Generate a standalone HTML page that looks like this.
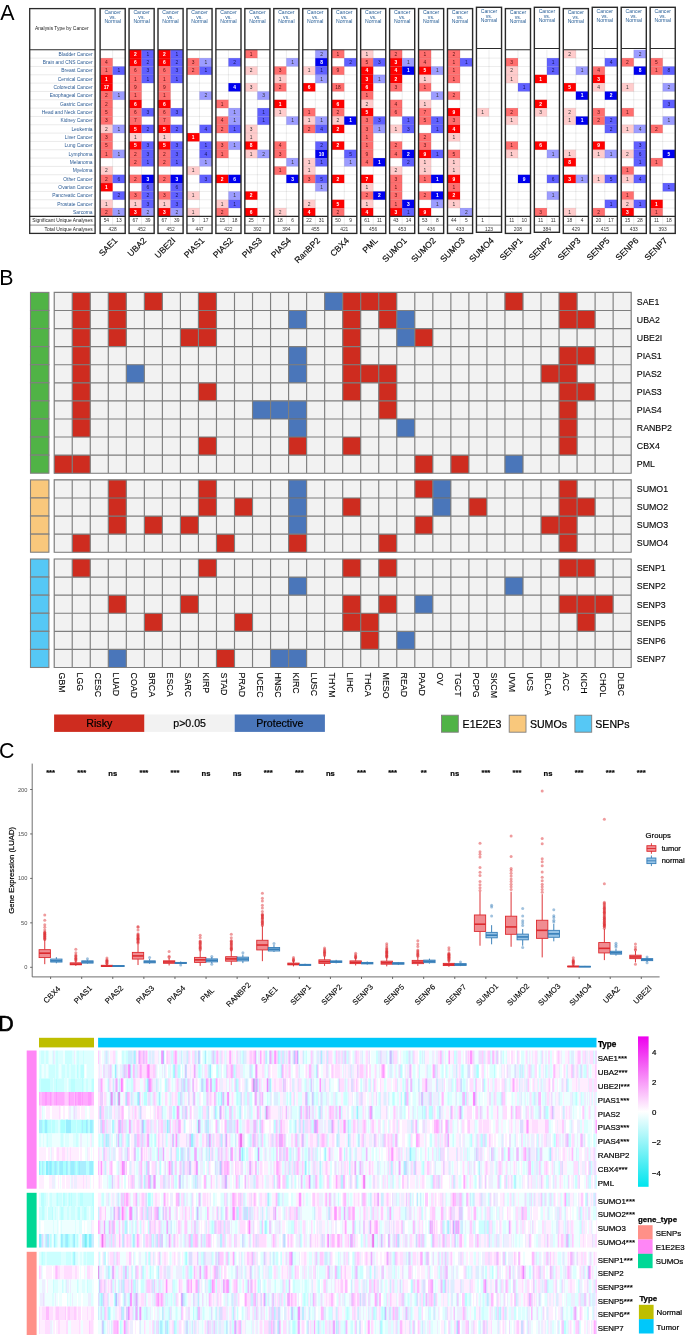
<!DOCTYPE html>
<html><head><meta charset="utf-8"><title>Figure</title>
<style>html,body{margin:0;padding:0;background:#fff}svg{display:block;will-change:transform}text{font-family:"Liberation Sans",sans-serif}</style>
</head><body>
<svg width="685" height="1335" viewBox="0 0 685 1335" font-family="Liberation Sans, sans-serif">
<rect width="685" height="1335" fill="#fff"/>
<g font-size="23" fill="#000"><text transform="translate(0.2,19.7) scale(.93,1)">A</text><text transform="translate(-0.65,284.9) scale(.93,1)">B</text><text transform="translate(-1,757.9) scale(.93,1)">C</text><text transform="translate(-1.7,1030.7) scale(.93,1)" stroke="#000" stroke-width=".7">D</text></g>
<!--A--><g text-anchor="middle" font-size="4.9"><g font-size="4.9" text-anchor="end" fill="#2a5a94"><text x="92.6" y="55.66">Bladder Cancer</text><path d="M29.7 58.13H95.1" stroke="#dcdcdc" stroke-width=".6"/><text x="92.6" y="63.99">Brain and CNS Cancer</text><path d="M29.7 66.46H95.1" stroke="#dcdcdc" stroke-width=".6"/><text x="92.6" y="72.33">Breast Cancer</text><path d="M29.7 74.79H95.1" stroke="#dcdcdc" stroke-width=".6"/><text x="92.6" y="80.66">Cervical Cancer</text><path d="M29.7 83.12H95.1" stroke="#dcdcdc" stroke-width=".6"/><text x="92.6" y="88.99">Colorectal Cancer</text><path d="M29.7 91.45H95.1" stroke="#dcdcdc" stroke-width=".6"/><text x="92.6" y="97.31">Esophageal Cancer</text><path d="M29.7 99.78H95.1" stroke="#dcdcdc" stroke-width=".6"/><text x="92.6" y="105.65">Gastric Cancer</text><path d="M29.7 108.11H95.1" stroke="#dcdcdc" stroke-width=".6"/><text x="92.6" y="113.98">Head and Neck Cancer</text><path d="M29.7 116.44H95.1" stroke="#dcdcdc" stroke-width=".6"/><text x="92.6" y="122.31">Kidney Cancer</text><path d="M29.7 124.77H95.1" stroke="#dcdcdc" stroke-width=".6"/><text x="92.6" y="130.63">Leukemia</text><path d="M29.7 133.10H95.1" stroke="#dcdcdc" stroke-width=".6"/><text x="92.6" y="138.96">Liver Cancer</text><path d="M29.7 141.43H95.1" stroke="#dcdcdc" stroke-width=".6"/><text x="92.6" y="147.29">Lung Cancer</text><path d="M29.7 149.76H95.1" stroke="#dcdcdc" stroke-width=".6"/><text x="92.6" y="155.62">Lymphoma</text><path d="M29.7 158.09H95.1" stroke="#dcdcdc" stroke-width=".6"/><text x="92.6" y="163.95">Melanoma</text><path d="M29.7 166.42H95.1" stroke="#dcdcdc" stroke-width=".6"/><text x="92.6" y="172.28">Myeloma</text><path d="M29.7 174.75H95.1" stroke="#dcdcdc" stroke-width=".6"/><text x="92.6" y="180.61">Other Cancer</text><path d="M29.7 183.08H95.1" stroke="#dcdcdc" stroke-width=".6"/><text x="92.6" y="188.94">Ovarian Cancer</text><path d="M29.7 191.41H95.1" stroke="#dcdcdc" stroke-width=".6"/><text x="92.6" y="197.28">Pancreatic Cancer</text><path d="M29.7 199.74H95.1" stroke="#dcdcdc" stroke-width=".6"/><text x="92.6" y="205.60">Prostate Cancer</text><path d="M29.7 208.07H95.1" stroke="#dcdcdc" stroke-width=".6"/><text x="92.6" y="213.93">Sarcoma</text></g><g font-size="4.9" text-anchor="end" fill="#222"><text x="92.6" y="222.45">Significant Unique Analyses</text><text x="92.6" y="231.00">Total Unique Analyses</text></g><text x="34.9" y="30" font-size="4.9" fill="#222" text-anchor="start">Analysis Type by Cancer</text><path d="M29.7 49.8H95.1M29.7 216.40H95.1" stroke="#2a2a2a" stroke-width="1.1" fill="none"/><path d="M29.7 225.10H95.1" stroke="#666" stroke-width=".7"/><rect x="29.7" y="8.6" width="65.40" height="224.80" fill="none" stroke="#2a2a2a" stroke-width="1.3"/><rect x="100.10" y="58.13" width="12.55" height="8.33" fill="#ff6e6e"/><text x="106.38" y="63.99" fill="#5a1414">4</text><rect x="100.10" y="66.46" width="12.55" height="8.33" fill="#ff6e6e"/><text x="106.38" y="72.33" fill="#5a1414">1</text><rect x="112.65" y="66.46" width="12.55" height="8.33" fill="#6060ff"/><text x="118.92" y="72.33" fill="#14145a">1</text><rect x="100.10" y="74.79" width="12.55" height="8.33" fill="#ff0000"/><text x="106.38" y="80.66" fill="#fff" font-weight="bold">1</text><rect x="100.10" y="83.12" width="12.55" height="8.33" fill="#ff0000"/><text x="106.38" y="88.99" fill="#fff" font-weight="bold">17</text><rect x="100.10" y="91.45" width="12.55" height="8.33" fill="#ff6e6e"/><text x="106.38" y="97.31" fill="#5a1414">2</text><rect x="112.65" y="91.45" width="12.55" height="8.33" fill="#9c9cff"/><text x="118.92" y="97.31" fill="#333">1</text><rect x="100.10" y="99.78" width="12.55" height="8.33" fill="#ff6e6e"/><text x="106.38" y="105.65" fill="#5a1414">2</text><rect x="100.10" y="108.11" width="12.55" height="8.33" fill="#ff6e6e"/><text x="106.38" y="113.98" fill="#5a1414">5</text><rect x="100.10" y="116.44" width="12.55" height="8.33" fill="#ff6e6e"/><text x="106.38" y="122.31" fill="#5a1414">3</text><rect x="100.10" y="124.77" width="12.55" height="8.33" fill="#ffcccc"/><text x="106.38" y="130.63" fill="#333">2</text><rect x="112.65" y="124.77" width="12.55" height="8.33" fill="#9c9cff"/><text x="118.92" y="130.63" fill="#333">1</text><rect x="100.10" y="133.10" width="12.55" height="8.33" fill="#ff6e6e"/><text x="106.38" y="138.96" fill="#5a1414">3</text><rect x="100.10" y="141.43" width="12.55" height="8.33" fill="#ff6e6e"/><text x="106.38" y="147.29" fill="#5a1414">5</text><rect x="100.10" y="149.76" width="12.55" height="8.33" fill="#ff6e6e"/><text x="106.38" y="155.62" fill="#5a1414">1</text><rect x="112.65" y="149.76" width="12.55" height="8.33" fill="#9c9cff"/><text x="118.92" y="155.62" fill="#333">1</text><rect x="100.10" y="166.42" width="12.55" height="8.33" fill="#ffcccc"/><text x="106.38" y="172.28" fill="#333">2</text><rect x="100.10" y="174.75" width="12.55" height="8.33" fill="#ff6e6e"/><text x="106.38" y="180.61" fill="#5a1414">2</text><rect x="112.65" y="174.75" width="12.55" height="8.33" fill="#6060ff"/><text x="118.92" y="180.61" fill="#14145a">6</text><rect x="100.10" y="183.08" width="12.55" height="8.33" fill="#ff0000"/><text x="106.38" y="188.94" fill="#fff" font-weight="bold">1</text><rect x="112.65" y="191.41" width="12.55" height="8.33" fill="#6060ff"/><text x="118.92" y="197.28" fill="#14145a">2</text><rect x="100.10" y="199.74" width="12.55" height="8.33" fill="#ffcccc"/><text x="106.38" y="205.60" fill="#333">1</text><rect x="100.10" y="208.07" width="12.55" height="8.33" fill="#ff6e6e"/><text x="106.38" y="213.93" fill="#5a1414">2</text><rect x="112.65" y="208.07" width="12.55" height="8.33" fill="#9c9cff"/><text x="118.92" y="213.93" fill="#333">1</text><path d="M100.10 58.13H125.20M100.10 66.46H125.20M100.10 74.79H125.20M100.10 83.12H125.20M100.10 91.45H125.20M100.10 99.78H125.20M100.10 108.11H125.20M100.10 116.44H125.20M100.10 124.77H125.20M100.10 133.10H125.20M100.10 141.43H125.20M100.10 149.76H125.20M100.10 158.09H125.20M100.10 166.42H125.20M100.10 174.75H125.20M100.10 183.08H125.20M100.10 191.41H125.20M100.10 199.74H125.20M100.10 208.07H125.20M112.65 49.8V225.10" stroke="#000" stroke-opacity=".13" stroke-width=".6" fill="none"/><text x="106.38" y="222.45" fill="#333">54</text><text x="118.92" y="222.45" fill="#333">13</text><text x="112.65" y="231.00" fill="#333">428</text><path d="M100.10 49.8H125.20M100.10 216.40H125.20" stroke="#2a2a2a" stroke-width="1.1" fill="none"/><path d="M100.10 225.10H125.20" stroke="#666" stroke-width=".7"/><rect x="100.10" y="8.6" width="25.1" height="224.80" fill="none" stroke="#2a2a2a" stroke-width="1.4"/><g fill="#2a6098" font-size="5.1"><text x="112.65" y="14.40">Cancer</text><text x="112.65" y="18.90">vs.</text><text x="112.65" y="23.40">Normal</text></g><text transform="translate(113.70,236.9) rotate(-45)" text-anchor="end" font-size="8.6" fill="#000" stroke="#111" stroke-width=".15" x="0" y="6">SAE1</text><rect x="129.05" y="49.80" width="12.55" height="8.33" fill="#ff0000"/><text x="135.32" y="55.66" fill="#fff" font-weight="bold">2</text><rect x="141.60" y="49.80" width="12.55" height="8.33" fill="#6060ff"/><text x="147.88" y="55.66" fill="#14145a">1</text><rect x="129.05" y="58.13" width="12.55" height="8.33" fill="#ff0000"/><text x="135.32" y="63.99" fill="#fff" font-weight="bold">6</text><rect x="141.60" y="58.13" width="12.55" height="8.33" fill="#6060ff"/><text x="147.88" y="63.99" fill="#14145a">2</text><rect x="129.05" y="66.46" width="12.55" height="8.33" fill="#ff6e6e"/><text x="135.32" y="72.33" fill="#5a1414">6</text><rect x="141.60" y="66.46" width="12.55" height="8.33" fill="#6060ff"/><text x="147.88" y="72.33" fill="#14145a">3</text><rect x="129.05" y="74.79" width="12.55" height="8.33" fill="#ff6e6e"/><text x="135.32" y="80.66" fill="#5a1414">1</text><rect x="141.60" y="74.79" width="12.55" height="8.33" fill="#6060ff"/><text x="147.88" y="80.66" fill="#14145a">1</text><rect x="129.05" y="83.12" width="12.55" height="8.33" fill="#ff6e6e"/><text x="135.32" y="88.99" fill="#5a1414">9</text><rect x="129.05" y="91.45" width="12.55" height="8.33" fill="#ff6e6e"/><text x="135.32" y="97.31" fill="#5a1414">1</text><rect x="129.05" y="99.78" width="12.55" height="8.33" fill="#ff0000"/><text x="135.32" y="105.65" fill="#fff" font-weight="bold">6</text><rect x="129.05" y="108.11" width="12.55" height="8.33" fill="#ff6e6e"/><text x="135.32" y="113.98" fill="#5a1414">6</text><rect x="141.60" y="108.11" width="12.55" height="8.33" fill="#6060ff"/><text x="147.88" y="113.98" fill="#14145a">3</text><rect x="129.05" y="116.44" width="12.55" height="8.33" fill="#ff6e6e"/><text x="135.32" y="122.31" fill="#5a1414">7</text><rect x="129.05" y="124.77" width="12.55" height="8.33" fill="#ff0000"/><text x="135.32" y="130.63" fill="#fff" font-weight="bold">5</text><rect x="141.60" y="124.77" width="12.55" height="8.33" fill="#6060ff"/><text x="147.88" y="130.63" fill="#14145a">2</text><rect x="129.05" y="133.10" width="12.55" height="8.33" fill="#ffcccc"/><text x="135.32" y="138.96" fill="#333">1</text><rect x="129.05" y="141.43" width="12.55" height="8.33" fill="#ff0000"/><text x="135.32" y="147.29" fill="#fff" font-weight="bold">5</text><rect x="141.60" y="141.43" width="12.55" height="8.33" fill="#6060ff"/><text x="147.88" y="147.29" fill="#14145a">3</text><rect x="129.05" y="149.76" width="12.55" height="8.33" fill="#ff6e6e"/><text x="135.32" y="155.62" fill="#5a1414">2</text><rect x="141.60" y="149.76" width="12.55" height="8.33" fill="#6060ff"/><text x="147.88" y="155.62" fill="#14145a">3</text><rect x="129.05" y="158.09" width="12.55" height="8.33" fill="#ff6e6e"/><text x="135.32" y="163.95" fill="#5a1414">2</text><rect x="141.60" y="158.09" width="12.55" height="8.33" fill="#6060ff"/><text x="147.88" y="163.95" fill="#14145a">1</text><rect x="129.05" y="174.75" width="12.55" height="8.33" fill="#ff6e6e"/><text x="135.32" y="180.61" fill="#5a1414">2</text><rect x="141.60" y="174.75" width="12.55" height="8.33" fill="#0000f0"/><text x="147.88" y="180.61" fill="#fff" font-weight="bold">3</text><rect x="141.60" y="183.08" width="12.55" height="8.33" fill="#6060ff"/><text x="147.88" y="188.94" fill="#14145a">6</text><rect x="129.05" y="191.41" width="12.55" height="8.33" fill="#ff6e6e"/><text x="135.32" y="197.28" fill="#5a1414">3</text><rect x="141.60" y="191.41" width="12.55" height="8.33" fill="#6060ff"/><text x="147.88" y="197.28" fill="#14145a">2</text><rect x="129.05" y="199.74" width="12.55" height="8.33" fill="#ffcccc"/><text x="135.32" y="205.60" fill="#333">1</text><rect x="141.60" y="199.74" width="12.55" height="8.33" fill="#6060ff"/><text x="147.88" y="205.60" fill="#14145a">3</text><rect x="129.05" y="208.07" width="12.55" height="8.33" fill="#ff0000"/><text x="135.32" y="213.93" fill="#fff" font-weight="bold">3</text><rect x="141.60" y="208.07" width="12.55" height="8.33" fill="#9c9cff"/><text x="147.88" y="213.93" fill="#333">2</text><path d="M129.05 58.13H154.15M129.05 66.46H154.15M129.05 74.79H154.15M129.05 83.12H154.15M129.05 91.45H154.15M129.05 99.78H154.15M129.05 108.11H154.15M129.05 116.44H154.15M129.05 124.77H154.15M129.05 133.10H154.15M129.05 141.43H154.15M129.05 149.76H154.15M129.05 158.09H154.15M129.05 166.42H154.15M129.05 174.75H154.15M129.05 183.08H154.15M129.05 191.41H154.15M129.05 199.74H154.15M129.05 208.07H154.15M141.60 49.8V225.10" stroke="#000" stroke-opacity=".13" stroke-width=".6" fill="none"/><text x="135.32" y="222.45" fill="#333">67</text><text x="147.88" y="222.45" fill="#333">39</text><text x="141.60" y="231.00" fill="#333">452</text><path d="M129.05 49.8H154.15M129.05 216.40H154.15" stroke="#2a2a2a" stroke-width="1.1" fill="none"/><path d="M129.05 225.10H154.15" stroke="#666" stroke-width=".7"/><rect x="129.05" y="8.6" width="25.1" height="224.80" fill="none" stroke="#2a2a2a" stroke-width="1.4"/><g fill="#2a6098" font-size="5.1"><text x="141.60" y="14.40">Cancer</text><text x="141.60" y="18.90">vs.</text><text x="141.60" y="23.40">Normal</text></g><text transform="translate(142.65,236.9) rotate(-45)" text-anchor="end" font-size="8.6" fill="#000" stroke="#111" stroke-width=".15" x="0" y="6">UBA2</text><rect x="158.00" y="49.80" width="12.55" height="8.33" fill="#ff0000"/><text x="164.28" y="55.66" fill="#fff" font-weight="bold">2</text><rect x="170.55" y="49.80" width="12.55" height="8.33" fill="#6060ff"/><text x="176.83" y="55.66" fill="#14145a">1</text><rect x="158.00" y="58.13" width="12.55" height="8.33" fill="#ff0000"/><text x="164.28" y="63.99" fill="#fff" font-weight="bold">6</text><rect x="170.55" y="58.13" width="12.55" height="8.33" fill="#6060ff"/><text x="176.83" y="63.99" fill="#14145a">2</text><rect x="158.00" y="66.46" width="12.55" height="8.33" fill="#ff6e6e"/><text x="164.28" y="72.33" fill="#5a1414">6</text><rect x="170.55" y="66.46" width="12.55" height="8.33" fill="#6060ff"/><text x="176.83" y="72.33" fill="#14145a">3</text><rect x="158.00" y="74.79" width="12.55" height="8.33" fill="#ff6e6e"/><text x="164.28" y="80.66" fill="#5a1414">1</text><rect x="170.55" y="74.79" width="12.55" height="8.33" fill="#6060ff"/><text x="176.83" y="80.66" fill="#14145a">1</text><rect x="158.00" y="83.12" width="12.55" height="8.33" fill="#ff6e6e"/><text x="164.28" y="88.99" fill="#5a1414">9</text><rect x="158.00" y="91.45" width="12.55" height="8.33" fill="#ff6e6e"/><text x="164.28" y="97.31" fill="#5a1414">1</text><rect x="158.00" y="99.78" width="12.55" height="8.33" fill="#ff0000"/><text x="164.28" y="105.65" fill="#fff" font-weight="bold">6</text><rect x="158.00" y="108.11" width="12.55" height="8.33" fill="#ff6e6e"/><text x="164.28" y="113.98" fill="#5a1414">6</text><rect x="170.55" y="108.11" width="12.55" height="8.33" fill="#6060ff"/><text x="176.83" y="113.98" fill="#14145a">3</text><rect x="158.00" y="116.44" width="12.55" height="8.33" fill="#ff6e6e"/><text x="164.28" y="122.31" fill="#5a1414">7</text><rect x="158.00" y="124.77" width="12.55" height="8.33" fill="#ff0000"/><text x="164.28" y="130.63" fill="#fff" font-weight="bold">5</text><rect x="170.55" y="124.77" width="12.55" height="8.33" fill="#6060ff"/><text x="176.83" y="130.63" fill="#14145a">2</text><rect x="158.00" y="133.10" width="12.55" height="8.33" fill="#ffcccc"/><text x="164.28" y="138.96" fill="#333">1</text><rect x="158.00" y="141.43" width="12.55" height="8.33" fill="#ff0000"/><text x="164.28" y="147.29" fill="#fff" font-weight="bold">5</text><rect x="170.55" y="141.43" width="12.55" height="8.33" fill="#6060ff"/><text x="176.83" y="147.29" fill="#14145a">3</text><rect x="158.00" y="149.76" width="12.55" height="8.33" fill="#ff6e6e"/><text x="164.28" y="155.62" fill="#5a1414">2</text><rect x="170.55" y="149.76" width="12.55" height="8.33" fill="#6060ff"/><text x="176.83" y="155.62" fill="#14145a">3</text><rect x="158.00" y="158.09" width="12.55" height="8.33" fill="#ff6e6e"/><text x="164.28" y="163.95" fill="#5a1414">2</text><rect x="170.55" y="158.09" width="12.55" height="8.33" fill="#6060ff"/><text x="176.83" y="163.95" fill="#14145a">1</text><rect x="158.00" y="174.75" width="12.55" height="8.33" fill="#ff6e6e"/><text x="164.28" y="180.61" fill="#5a1414">2</text><rect x="170.55" y="174.75" width="12.55" height="8.33" fill="#0000f0"/><text x="176.83" y="180.61" fill="#fff" font-weight="bold">3</text><rect x="170.55" y="183.08" width="12.55" height="8.33" fill="#6060ff"/><text x="176.83" y="188.94" fill="#14145a">6</text><rect x="158.00" y="191.41" width="12.55" height="8.33" fill="#ff6e6e"/><text x="164.28" y="197.28" fill="#5a1414">3</text><rect x="170.55" y="191.41" width="12.55" height="8.33" fill="#6060ff"/><text x="176.83" y="197.28" fill="#14145a">2</text><rect x="158.00" y="199.74" width="12.55" height="8.33" fill="#ffcccc"/><text x="164.28" y="205.60" fill="#333">1</text><rect x="170.55" y="199.74" width="12.55" height="8.33" fill="#6060ff"/><text x="176.83" y="205.60" fill="#14145a">3</text><rect x="158.00" y="208.07" width="12.55" height="8.33" fill="#ff0000"/><text x="164.28" y="213.93" fill="#fff" font-weight="bold">3</text><rect x="170.55" y="208.07" width="12.55" height="8.33" fill="#9c9cff"/><text x="176.83" y="213.93" fill="#333">2</text><path d="M158.00 58.13H183.10M158.00 66.46H183.10M158.00 74.79H183.10M158.00 83.12H183.10M158.00 91.45H183.10M158.00 99.78H183.10M158.00 108.11H183.10M158.00 116.44H183.10M158.00 124.77H183.10M158.00 133.10H183.10M158.00 141.43H183.10M158.00 149.76H183.10M158.00 158.09H183.10M158.00 166.42H183.10M158.00 174.75H183.10M158.00 183.08H183.10M158.00 191.41H183.10M158.00 199.74H183.10M158.00 208.07H183.10M170.55 49.8V225.10" stroke="#000" stroke-opacity=".13" stroke-width=".6" fill="none"/><text x="164.28" y="222.45" fill="#333">67</text><text x="176.83" y="222.45" fill="#333">39</text><text x="170.55" y="231.00" fill="#333">452</text><path d="M158.00 49.8H183.10M158.00 216.40H183.10" stroke="#2a2a2a" stroke-width="1.1" fill="none"/><path d="M158.00 225.10H183.10" stroke="#666" stroke-width=".7"/><rect x="158.00" y="8.6" width="25.1" height="224.80" fill="none" stroke="#2a2a2a" stroke-width="1.4"/><g fill="#2a6098" font-size="5.1"><text x="170.55" y="14.40">Cancer</text><text x="170.55" y="18.90">vs.</text><text x="170.55" y="23.40">Normal</text></g><text transform="translate(171.60,236.9) rotate(-45)" text-anchor="end" font-size="8.6" fill="#000" stroke="#111" stroke-width=".15" x="0" y="6">UBE2I</text><rect x="186.95" y="58.13" width="12.55" height="8.33" fill="#ff6e6e"/><text x="193.22" y="63.99" fill="#5a1414">3</text><rect x="199.50" y="58.13" width="12.55" height="8.33" fill="#9c9cff"/><text x="205.78" y="63.99" fill="#333">1</text><rect x="186.95" y="66.46" width="12.55" height="8.33" fill="#ff6e6e"/><text x="193.22" y="72.33" fill="#5a1414">2</text><rect x="199.50" y="66.46" width="12.55" height="8.33" fill="#6060ff"/><text x="205.78" y="72.33" fill="#14145a">1</text><rect x="199.50" y="91.45" width="12.55" height="8.33" fill="#9c9cff"/><text x="205.78" y="97.31" fill="#333">2</text><rect x="199.50" y="124.77" width="12.55" height="8.33" fill="#6060ff"/><text x="205.78" y="130.63" fill="#14145a">4</text><rect x="186.95" y="133.10" width="12.55" height="8.33" fill="#ff0000"/><text x="193.22" y="138.96" fill="#fff" font-weight="bold">1</text><rect x="199.50" y="141.43" width="12.55" height="8.33" fill="#6060ff"/><text x="205.78" y="147.29" fill="#14145a">1</text><rect x="199.50" y="149.76" width="12.55" height="8.33" fill="#6060ff"/><text x="205.78" y="155.62" fill="#14145a">4</text><rect x="199.50" y="158.09" width="12.55" height="8.33" fill="#9c9cff"/><text x="205.78" y="163.95" fill="#333">1</text><rect x="186.95" y="166.42" width="12.55" height="8.33" fill="#ffcccc"/><text x="193.22" y="172.28" fill="#333">1</text><rect x="199.50" y="174.75" width="12.55" height="8.33" fill="#6060ff"/><text x="205.78" y="180.61" fill="#14145a">3</text><rect x="186.95" y="191.41" width="12.55" height="8.33" fill="#ffcccc"/><text x="193.22" y="197.28" fill="#333">1</text><rect x="186.95" y="208.07" width="12.55" height="8.33" fill="#ffcccc"/><text x="193.22" y="213.93" fill="#333">1</text><path d="M186.95 58.13H212.05M186.95 66.46H212.05M186.95 74.79H212.05M186.95 83.12H212.05M186.95 91.45H212.05M186.95 99.78H212.05M186.95 108.11H212.05M186.95 116.44H212.05M186.95 124.77H212.05M186.95 133.10H212.05M186.95 141.43H212.05M186.95 149.76H212.05M186.95 158.09H212.05M186.95 166.42H212.05M186.95 174.75H212.05M186.95 183.08H212.05M186.95 191.41H212.05M186.95 199.74H212.05M186.95 208.07H212.05M199.50 49.8V225.10" stroke="#000" stroke-opacity=".13" stroke-width=".6" fill="none"/><text x="193.22" y="222.45" fill="#333">9</text><text x="205.78" y="222.45" fill="#333">17</text><text x="199.50" y="231.00" fill="#333">447</text><path d="M186.95 49.8H212.05M186.95 216.40H212.05" stroke="#2a2a2a" stroke-width="1.1" fill="none"/><path d="M186.95 225.10H212.05" stroke="#666" stroke-width=".7"/><rect x="186.95" y="8.6" width="25.1" height="224.80" fill="none" stroke="#2a2a2a" stroke-width="1.4"/><g fill="#2a6098" font-size="5.1"><text x="199.50" y="14.40">Cancer</text><text x="199.50" y="18.90">vs.</text><text x="199.50" y="23.40">Normal</text></g><text transform="translate(200.55,236.9) rotate(-45)" text-anchor="end" font-size="8.6" fill="#000" stroke="#111" stroke-width=".15" x="0" y="6">PIAS1</text><rect x="228.45" y="58.13" width="12.55" height="8.33" fill="#6060ff"/><text x="234.72" y="63.99" fill="#14145a">2</text><rect x="228.45" y="83.12" width="12.55" height="8.33" fill="#0000f0"/><text x="234.72" y="88.99" fill="#fff" font-weight="bold">4</text><rect x="215.90" y="99.78" width="12.55" height="8.33" fill="#ff6e6e"/><text x="222.17" y="105.65" fill="#5a1414">1</text><rect x="228.45" y="108.11" width="12.55" height="8.33" fill="#9c9cff"/><text x="234.72" y="113.98" fill="#333">1</text><rect x="215.90" y="116.44" width="12.55" height="8.33" fill="#ff6e6e"/><text x="222.17" y="122.31" fill="#5a1414">4</text><rect x="228.45" y="116.44" width="12.55" height="8.33" fill="#9c9cff"/><text x="234.72" y="122.31" fill="#333">1</text><rect x="215.90" y="124.77" width="12.55" height="8.33" fill="#ff6e6e"/><text x="222.17" y="130.63" fill="#5a1414">2</text><rect x="228.45" y="124.77" width="12.55" height="8.33" fill="#6060ff"/><text x="234.72" y="130.63" fill="#14145a">1</text><rect x="215.90" y="141.43" width="12.55" height="8.33" fill="#ff6e6e"/><text x="222.17" y="147.29" fill="#5a1414">3</text><rect x="228.45" y="141.43" width="12.55" height="8.33" fill="#9c9cff"/><text x="234.72" y="147.29" fill="#333">1</text><rect x="215.90" y="149.76" width="12.55" height="8.33" fill="#ff6e6e"/><text x="222.17" y="155.62" fill="#5a1414">1</text><rect x="215.90" y="174.75" width="12.55" height="8.33" fill="#ff0000"/><text x="222.17" y="180.61" fill="#fff" font-weight="bold">2</text><rect x="228.45" y="174.75" width="12.55" height="8.33" fill="#0000f0"/><text x="234.72" y="180.61" fill="#fff" font-weight="bold">6</text><rect x="228.45" y="191.41" width="12.55" height="8.33" fill="#9c9cff"/><text x="234.72" y="197.28" fill="#333">1</text><rect x="215.90" y="199.74" width="12.55" height="8.33" fill="#ffcccc"/><text x="222.17" y="205.60" fill="#333">1</text><rect x="228.45" y="199.74" width="12.55" height="8.33" fill="#6060ff"/><text x="234.72" y="205.60" fill="#14145a">1</text><rect x="215.90" y="208.07" width="12.55" height="8.33" fill="#ff6e6e"/><text x="222.17" y="213.93" fill="#5a1414">2</text><path d="M215.90 58.13H241.00M215.90 66.46H241.00M215.90 74.79H241.00M215.90 83.12H241.00M215.90 91.45H241.00M215.90 99.78H241.00M215.90 108.11H241.00M215.90 116.44H241.00M215.90 124.77H241.00M215.90 133.10H241.00M215.90 141.43H241.00M215.90 149.76H241.00M215.90 158.09H241.00M215.90 166.42H241.00M215.90 174.75H241.00M215.90 183.08H241.00M215.90 191.41H241.00M215.90 199.74H241.00M215.90 208.07H241.00M228.45 49.8V225.10" stroke="#000" stroke-opacity=".13" stroke-width=".6" fill="none"/><text x="222.17" y="222.45" fill="#333">15</text><text x="234.72" y="222.45" fill="#333">18</text><text x="228.45" y="231.00" fill="#333">422</text><path d="M215.90 49.8H241.00M215.90 216.40H241.00" stroke="#2a2a2a" stroke-width="1.1" fill="none"/><path d="M215.90 225.10H241.00" stroke="#666" stroke-width=".7"/><rect x="215.90" y="8.6" width="25.1" height="224.80" fill="none" stroke="#2a2a2a" stroke-width="1.4"/><g fill="#2a6098" font-size="5.1"><text x="228.45" y="14.40">Cancer</text><text x="228.45" y="18.90">vs.</text><text x="228.45" y="23.40">Normal</text></g><text transform="translate(229.50,236.9) rotate(-45)" text-anchor="end" font-size="8.6" fill="#000" stroke="#111" stroke-width=".15" x="0" y="6">PIAS2</text><rect x="244.85" y="49.80" width="12.55" height="8.33" fill="#ff6e6e"/><text x="251.12" y="55.66" fill="#5a1414">1</text><rect x="244.85" y="66.46" width="12.55" height="8.33" fill="#ffcccc"/><text x="251.12" y="72.33" fill="#333">2</text><rect x="244.85" y="83.12" width="12.55" height="8.33" fill="#ffcccc"/><text x="251.12" y="88.99" fill="#333">3</text><rect x="257.40" y="91.45" width="12.55" height="8.33" fill="#9c9cff"/><text x="263.67" y="97.31" fill="#333">3</text><rect x="257.40" y="108.11" width="12.55" height="8.33" fill="#6060ff"/><text x="263.67" y="113.98" fill="#14145a">1</text><rect x="257.40" y="116.44" width="12.55" height="8.33" fill="#6060ff"/><text x="263.67" y="122.31" fill="#14145a">1</text><rect x="244.85" y="124.77" width="12.55" height="8.33" fill="#ffcccc"/><text x="251.12" y="130.63" fill="#333">3</text><rect x="244.85" y="133.10" width="12.55" height="8.33" fill="#ffcccc"/><text x="251.12" y="138.96" fill="#333">1</text><rect x="244.85" y="141.43" width="12.55" height="8.33" fill="#ff0000"/><text x="251.12" y="147.29" fill="#fff" font-weight="bold">8</text><rect x="244.85" y="149.76" width="12.55" height="8.33" fill="#ffcccc"/><text x="251.12" y="155.62" fill="#333">1</text><rect x="257.40" y="149.76" width="12.55" height="8.33" fill="#9c9cff"/><text x="263.67" y="155.62" fill="#333">2</text><rect x="244.85" y="191.41" width="12.55" height="8.33" fill="#ff0000"/><text x="251.12" y="197.28" fill="#fff" font-weight="bold">2</text><rect x="244.85" y="208.07" width="12.55" height="8.33" fill="#ff0000"/><text x="251.12" y="213.93" fill="#fff" font-weight="bold">6</text><path d="M244.85 58.13H269.95M244.85 66.46H269.95M244.85 74.79H269.95M244.85 83.12H269.95M244.85 91.45H269.95M244.85 99.78H269.95M244.85 108.11H269.95M244.85 116.44H269.95M244.85 124.77H269.95M244.85 133.10H269.95M244.85 141.43H269.95M244.85 149.76H269.95M244.85 158.09H269.95M244.85 166.42H269.95M244.85 174.75H269.95M244.85 183.08H269.95M244.85 191.41H269.95M244.85 199.74H269.95M244.85 208.07H269.95M257.40 49.8V225.10" stroke="#000" stroke-opacity=".13" stroke-width=".6" fill="none"/><text x="251.12" y="222.45" fill="#333">25</text><text x="263.67" y="222.45" fill="#333">7</text><text x="257.40" y="231.00" fill="#333">392</text><path d="M244.85 49.8H269.95M244.85 216.40H269.95" stroke="#2a2a2a" stroke-width="1.1" fill="none"/><path d="M244.85 225.10H269.95" stroke="#666" stroke-width=".7"/><rect x="244.85" y="8.6" width="25.1" height="224.80" fill="none" stroke="#2a2a2a" stroke-width="1.4"/><g fill="#2a6098" font-size="5.1"><text x="257.40" y="14.40">Cancer</text><text x="257.40" y="18.90">vs.</text><text x="257.40" y="23.40">Normal</text></g><text transform="translate(258.45,236.9) rotate(-45)" text-anchor="end" font-size="8.6" fill="#000" stroke="#111" stroke-width=".15" x="0" y="6">PIAS3</text><rect x="286.35" y="58.13" width="12.55" height="8.33" fill="#9c9cff"/><text x="292.62" y="63.99" fill="#333">1</text><rect x="273.80" y="66.46" width="12.55" height="8.33" fill="#ff6e6e"/><text x="280.07" y="72.33" fill="#5a1414">3</text><rect x="273.80" y="74.79" width="12.55" height="8.33" fill="#ffcccc"/><text x="280.07" y="80.66" fill="#333">1</text><rect x="273.80" y="83.12" width="12.55" height="8.33" fill="#ff6e6e"/><text x="280.07" y="88.99" fill="#5a1414">2</text><rect x="273.80" y="99.78" width="12.55" height="8.33" fill="#ff0000"/><text x="280.07" y="105.65" fill="#fff" font-weight="bold">1</text><rect x="273.80" y="108.11" width="12.55" height="8.33" fill="#ffcccc"/><text x="280.07" y="113.98" fill="#333">1</text><rect x="286.35" y="116.44" width="12.55" height="8.33" fill="#9c9cff"/><text x="292.62" y="122.31" fill="#333">1</text><rect x="273.80" y="141.43" width="12.55" height="8.33" fill="#ff6e6e"/><text x="280.07" y="147.29" fill="#5a1414">4</text><rect x="273.80" y="149.76" width="12.55" height="8.33" fill="#ff6e6e"/><text x="280.07" y="155.62" fill="#5a1414">3</text><rect x="286.35" y="158.09" width="12.55" height="8.33" fill="#9c9cff"/><text x="292.62" y="163.95" fill="#333">1</text><rect x="273.80" y="166.42" width="12.55" height="8.33" fill="#ff6e6e"/><text x="280.07" y="172.28" fill="#5a1414">1</text><rect x="286.35" y="174.75" width="12.55" height="8.33" fill="#0000f0"/><text x="292.62" y="180.61" fill="#fff" font-weight="bold">3</text><rect x="273.80" y="208.07" width="12.55" height="8.33" fill="#ffcccc"/><text x="280.07" y="213.93" fill="#333">2</text><path d="M273.80 58.13H298.90M273.80 66.46H298.90M273.80 74.79H298.90M273.80 83.12H298.90M273.80 91.45H298.90M273.80 99.78H298.90M273.80 108.11H298.90M273.80 116.44H298.90M273.80 124.77H298.90M273.80 133.10H298.90M273.80 141.43H298.90M273.80 149.76H298.90M273.80 158.09H298.90M273.80 166.42H298.90M273.80 174.75H298.90M273.80 183.08H298.90M273.80 191.41H298.90M273.80 199.74H298.90M273.80 208.07H298.90M286.35 49.8V225.10" stroke="#000" stroke-opacity=".13" stroke-width=".6" fill="none"/><text x="280.07" y="222.45" fill="#333">18</text><text x="292.62" y="222.45" fill="#333">6</text><text x="286.35" y="231.00" fill="#333">394</text><path d="M273.80 49.8H298.90M273.80 216.40H298.90" stroke="#2a2a2a" stroke-width="1.1" fill="none"/><path d="M273.80 225.10H298.90" stroke="#666" stroke-width=".7"/><rect x="273.80" y="8.6" width="25.1" height="224.80" fill="none" stroke="#2a2a2a" stroke-width="1.4"/><g fill="#2a6098" font-size="5.1"><text x="286.35" y="14.40">Cancer</text><text x="286.35" y="18.90">vs.</text><text x="286.35" y="23.40">Normal</text></g><text transform="translate(287.40,236.9) rotate(-45)" text-anchor="end" font-size="8.6" fill="#000" stroke="#111" stroke-width=".15" x="0" y="6">PIAS4</text><rect x="315.30" y="49.80" width="12.55" height="8.33" fill="#9c9cff"/><text x="321.57" y="55.66" fill="#333">2</text><rect x="315.30" y="58.13" width="12.55" height="8.33" fill="#0000f0"/><text x="321.57" y="63.99" fill="#fff" font-weight="bold">8</text><rect x="302.75" y="66.46" width="12.55" height="8.33" fill="#ffcccc"/><text x="309.02" y="72.33" fill="#333">1</text><rect x="315.30" y="66.46" width="12.55" height="8.33" fill="#6060ff"/><text x="321.57" y="72.33" fill="#14145a">1</text><rect x="315.30" y="74.79" width="12.55" height="8.33" fill="#9c9cff"/><text x="321.57" y="80.66" fill="#333">1</text><rect x="302.75" y="83.12" width="12.55" height="8.33" fill="#ff0000"/><text x="309.02" y="88.99" fill="#fff" font-weight="bold">6</text><rect x="302.75" y="108.11" width="12.55" height="8.33" fill="#ff6e6e"/><text x="309.02" y="113.98" fill="#5a1414">1</text><rect x="302.75" y="116.44" width="12.55" height="8.33" fill="#ffcccc"/><text x="309.02" y="122.31" fill="#333">1</text><rect x="315.30" y="116.44" width="12.55" height="8.33" fill="#9c9cff"/><text x="321.57" y="122.31" fill="#333">1</text><rect x="302.75" y="124.77" width="12.55" height="8.33" fill="#ff6e6e"/><text x="309.02" y="130.63" fill="#5a1414">2</text><rect x="315.30" y="124.77" width="12.55" height="8.33" fill="#6060ff"/><text x="321.57" y="130.63" fill="#14145a">4</text><rect x="315.30" y="141.43" width="12.55" height="8.33" fill="#6060ff"/><text x="321.57" y="147.29" fill="#14145a">2</text><rect x="315.30" y="149.76" width="12.55" height="8.33" fill="#0000f0"/><text x="321.57" y="155.62" fill="#fff" font-weight="bold">10</text><rect x="302.75" y="158.09" width="12.55" height="8.33" fill="#ffcccc"/><text x="309.02" y="163.95" fill="#333">1</text><rect x="315.30" y="158.09" width="12.55" height="8.33" fill="#6060ff"/><text x="321.57" y="163.95" fill="#14145a">1</text><rect x="302.75" y="166.42" width="12.55" height="8.33" fill="#ffcccc"/><text x="309.02" y="172.28" fill="#333">1</text><rect x="302.75" y="174.75" width="12.55" height="8.33" fill="#ff6e6e"/><text x="309.02" y="180.61" fill="#5a1414">3</text><rect x="315.30" y="174.75" width="12.55" height="8.33" fill="#6060ff"/><text x="321.57" y="180.61" fill="#14145a">5</text><rect x="315.30" y="183.08" width="12.55" height="8.33" fill="#9c9cff"/><text x="321.57" y="188.94" fill="#333">1</text><rect x="302.75" y="199.74" width="12.55" height="8.33" fill="#ffcccc"/><text x="309.02" y="205.60" fill="#333">2</text><rect x="302.75" y="208.07" width="12.55" height="8.33" fill="#ff0000"/><text x="309.02" y="213.93" fill="#fff" font-weight="bold">4</text><path d="M302.75 58.13H327.85M302.75 66.46H327.85M302.75 74.79H327.85M302.75 83.12H327.85M302.75 91.45H327.85M302.75 99.78H327.85M302.75 108.11H327.85M302.75 116.44H327.85M302.75 124.77H327.85M302.75 133.10H327.85M302.75 141.43H327.85M302.75 149.76H327.85M302.75 158.09H327.85M302.75 166.42H327.85M302.75 174.75H327.85M302.75 183.08H327.85M302.75 191.41H327.85M302.75 199.74H327.85M302.75 208.07H327.85M315.30 49.8V225.10" stroke="#000" stroke-opacity=".13" stroke-width=".6" fill="none"/><text x="309.02" y="222.45" fill="#333">22</text><text x="321.57" y="222.45" fill="#333">31</text><text x="315.30" y="231.00" fill="#333">455</text><path d="M302.75 49.8H327.85M302.75 216.40H327.85" stroke="#2a2a2a" stroke-width="1.1" fill="none"/><path d="M302.75 225.10H327.85" stroke="#666" stroke-width=".7"/><rect x="302.75" y="8.6" width="25.1" height="224.80" fill="none" stroke="#2a2a2a" stroke-width="1.4"/><g fill="#2a6098" font-size="5.1"><text x="315.30" y="14.40">Cancer</text><text x="315.30" y="18.90">vs.</text><text x="315.30" y="23.40">Normal</text></g><text transform="translate(316.35,236.9) rotate(-45)" text-anchor="end" font-size="8.6" fill="#000" stroke="#111" stroke-width=".15" x="0" y="6">RanBP2</text><rect x="331.70" y="49.80" width="12.55" height="8.33" fill="#ff6e6e"/><text x="337.97" y="55.66" fill="#5a1414">1</text><rect x="344.25" y="58.13" width="12.55" height="8.33" fill="#6060ff"/><text x="350.52" y="63.99" fill="#14145a">2</text><rect x="331.70" y="66.46" width="12.55" height="8.33" fill="#ff6e6e"/><text x="337.97" y="72.33" fill="#5a1414">9</text><rect x="331.70" y="83.12" width="12.55" height="8.33" fill="#ff6e6e"/><text x="337.97" y="88.99" fill="#5a1414">18</text><rect x="331.70" y="99.78" width="12.55" height="8.33" fill="#ff0000"/><text x="337.97" y="105.65" fill="#fff" font-weight="bold">6</text><rect x="331.70" y="108.11" width="12.55" height="8.33" fill="#ff6e6e"/><text x="337.97" y="113.98" fill="#5a1414">2</text><rect x="331.70" y="116.44" width="12.55" height="8.33" fill="#ffcccc"/><text x="337.97" y="122.31" fill="#333">2</text><rect x="344.25" y="116.44" width="12.55" height="8.33" fill="#0000f0"/><text x="350.52" y="122.31" fill="#fff" font-weight="bold">1</text><rect x="331.70" y="124.77" width="12.55" height="8.33" fill="#ff0000"/><text x="337.97" y="130.63" fill="#fff" font-weight="bold">2</text><rect x="331.70" y="141.43" width="12.55" height="8.33" fill="#ff0000"/><text x="337.97" y="147.29" fill="#fff" font-weight="bold">2</text><rect x="344.25" y="149.76" width="12.55" height="8.33" fill="#6060ff"/><text x="350.52" y="155.62" fill="#14145a">5</text><rect x="344.25" y="158.09" width="12.55" height="8.33" fill="#9c9cff"/><text x="350.52" y="163.95" fill="#333">1</text><rect x="331.70" y="174.75" width="12.55" height="8.33" fill="#ff0000"/><text x="337.97" y="180.61" fill="#fff" font-weight="bold">2</text><rect x="331.70" y="199.74" width="12.55" height="8.33" fill="#ff0000"/><text x="337.97" y="205.60" fill="#fff" font-weight="bold">5</text><rect x="331.70" y="208.07" width="12.55" height="8.33" fill="#ff6e6e"/><text x="337.97" y="213.93" fill="#5a1414">2</text><path d="M331.70 58.13H356.80M331.70 66.46H356.80M331.70 74.79H356.80M331.70 83.12H356.80M331.70 91.45H356.80M331.70 99.78H356.80M331.70 108.11H356.80M331.70 116.44H356.80M331.70 124.77H356.80M331.70 133.10H356.80M331.70 141.43H356.80M331.70 149.76H356.80M331.70 158.09H356.80M331.70 166.42H356.80M331.70 174.75H356.80M331.70 183.08H356.80M331.70 191.41H356.80M331.70 199.74H356.80M331.70 208.07H356.80M344.25 49.8V225.10" stroke="#000" stroke-opacity=".13" stroke-width=".6" fill="none"/><text x="337.97" y="222.45" fill="#333">50</text><text x="350.52" y="222.45" fill="#333">9</text><text x="344.25" y="231.00" fill="#333">421</text><path d="M331.70 49.8H356.80M331.70 216.40H356.80" stroke="#2a2a2a" stroke-width="1.1" fill="none"/><path d="M331.70 225.10H356.80" stroke="#666" stroke-width=".7"/><rect x="331.70" y="8.6" width="25.1" height="224.80" fill="none" stroke="#2a2a2a" stroke-width="1.4"/><g fill="#2a6098" font-size="5.1"><text x="344.25" y="14.40">Cancer</text><text x="344.25" y="18.90">vs.</text><text x="344.25" y="23.40">Normal</text></g><text transform="translate(345.30,236.9) rotate(-45)" text-anchor="end" font-size="8.6" fill="#000" stroke="#111" stroke-width=".15" x="0" y="6">CBX4</text><rect x="360.65" y="49.80" width="12.55" height="8.33" fill="#ffcccc"/><text x="366.92" y="55.66" fill="#333">1</text><rect x="360.65" y="58.13" width="12.55" height="8.33" fill="#ff6e6e"/><text x="366.92" y="63.99" fill="#5a1414">5</text><rect x="373.20" y="58.13" width="12.55" height="8.33" fill="#6060ff"/><text x="379.47" y="63.99" fill="#14145a">3</text><rect x="360.65" y="66.46" width="12.55" height="8.33" fill="#ff0000"/><text x="366.92" y="72.33" fill="#fff" font-weight="bold">4</text><rect x="360.65" y="74.79" width="12.55" height="8.33" fill="#ff0000"/><text x="366.92" y="80.66" fill="#fff" font-weight="bold">3</text><rect x="373.20" y="74.79" width="12.55" height="8.33" fill="#9c9cff"/><text x="379.47" y="80.66" fill="#333">1</text><rect x="360.65" y="83.12" width="12.55" height="8.33" fill="#ff0000"/><text x="366.92" y="88.99" fill="#fff" font-weight="bold">6</text><rect x="360.65" y="91.45" width="12.55" height="8.33" fill="#ff6e6e"/><text x="366.92" y="97.31" fill="#5a1414">1</text><rect x="360.65" y="99.78" width="12.55" height="8.33" fill="#ffcccc"/><text x="366.92" y="105.65" fill="#333">2</text><rect x="360.65" y="108.11" width="12.55" height="8.33" fill="#ff0000"/><text x="366.92" y="113.98" fill="#fff" font-weight="bold">5</text><rect x="360.65" y="116.44" width="12.55" height="8.33" fill="#ff6e6e"/><text x="366.92" y="122.31" fill="#5a1414">3</text><rect x="373.20" y="116.44" width="12.55" height="8.33" fill="#6060ff"/><text x="379.47" y="122.31" fill="#14145a">3</text><rect x="360.65" y="124.77" width="12.55" height="8.33" fill="#ff6e6e"/><text x="366.92" y="130.63" fill="#5a1414">3</text><rect x="373.20" y="124.77" width="12.55" height="8.33" fill="#9c9cff"/><text x="379.47" y="130.63" fill="#333">1</text><rect x="360.65" y="133.10" width="12.55" height="8.33" fill="#ff6e6e"/><text x="366.92" y="138.96" fill="#5a1414">1</text><rect x="360.65" y="141.43" width="12.55" height="8.33" fill="#ff6e6e"/><text x="366.92" y="147.29" fill="#5a1414">1</text><rect x="360.65" y="149.76" width="12.55" height="8.33" fill="#ff6e6e"/><text x="366.92" y="155.62" fill="#5a1414">9</text><rect x="360.65" y="158.09" width="12.55" height="8.33" fill="#ff6e6e"/><text x="366.92" y="163.95" fill="#5a1414">4</text><rect x="373.20" y="158.09" width="12.55" height="8.33" fill="#0000f0"/><text x="379.47" y="163.95" fill="#fff" font-weight="bold">1</text><rect x="360.65" y="174.75" width="12.55" height="8.33" fill="#ff0000"/><text x="366.92" y="180.61" fill="#fff" font-weight="bold">7</text><rect x="360.65" y="183.08" width="12.55" height="8.33" fill="#ffcccc"/><text x="366.92" y="188.94" fill="#333">1</text><rect x="360.65" y="191.41" width="12.55" height="8.33" fill="#ff6e6e"/><text x="366.92" y="197.28" fill="#5a1414">2</text><rect x="373.20" y="191.41" width="12.55" height="8.33" fill="#0000f0"/><text x="379.47" y="197.28" fill="#fff" font-weight="bold">2</text><rect x="360.65" y="199.74" width="12.55" height="8.33" fill="#ffcccc"/><text x="366.92" y="205.60" fill="#333">1</text><rect x="360.65" y="208.07" width="12.55" height="8.33" fill="#ff0000"/><text x="366.92" y="213.93" fill="#fff" font-weight="bold">4</text><path d="M360.65 58.13H385.75M360.65 66.46H385.75M360.65 74.79H385.75M360.65 83.12H385.75M360.65 91.45H385.75M360.65 99.78H385.75M360.65 108.11H385.75M360.65 116.44H385.75M360.65 124.77H385.75M360.65 133.10H385.75M360.65 141.43H385.75M360.65 149.76H385.75M360.65 158.09H385.75M360.65 166.42H385.75M360.65 174.75H385.75M360.65 183.08H385.75M360.65 191.41H385.75M360.65 199.74H385.75M360.65 208.07H385.75M373.20 49.8V225.10" stroke="#000" stroke-opacity=".13" stroke-width=".6" fill="none"/><text x="366.92" y="222.45" fill="#333">61</text><text x="379.47" y="222.45" fill="#333">11</text><text x="373.20" y="231.00" fill="#333">456</text><path d="M360.65 49.8H385.75M360.65 216.40H385.75" stroke="#2a2a2a" stroke-width="1.1" fill="none"/><path d="M360.65 225.10H385.75" stroke="#666" stroke-width=".7"/><rect x="360.65" y="8.6" width="25.1" height="224.80" fill="none" stroke="#2a2a2a" stroke-width="1.4"/><g fill="#2a6098" font-size="5.1"><text x="373.20" y="14.40">Cancer</text><text x="373.20" y="18.90">vs.</text><text x="373.20" y="23.40">Normal</text></g><text transform="translate(374.25,236.9) rotate(-45)" text-anchor="end" font-size="8.6" fill="#000" stroke="#111" stroke-width=".15" x="0" y="6">PML</text><rect x="389.60" y="49.80" width="12.55" height="8.33" fill="#ff6e6e"/><text x="395.88" y="55.66" fill="#5a1414">2</text><rect x="389.60" y="58.13" width="12.55" height="8.33" fill="#ff0000"/><text x="395.88" y="63.99" fill="#fff" font-weight="bold">3</text><rect x="402.15" y="58.13" width="12.55" height="8.33" fill="#9c9cff"/><text x="408.43" y="63.99" fill="#333">1</text><rect x="389.60" y="66.46" width="12.55" height="8.33" fill="#ff0000"/><text x="395.88" y="72.33" fill="#fff" font-weight="bold">4</text><rect x="402.15" y="66.46" width="12.55" height="8.33" fill="#0000f0"/><text x="408.43" y="72.33" fill="#fff" font-weight="bold">1</text><rect x="389.60" y="74.79" width="12.55" height="8.33" fill="#ff0000"/><text x="395.88" y="80.66" fill="#fff" font-weight="bold">2</text><rect x="389.60" y="83.12" width="12.55" height="8.33" fill="#ff6e6e"/><text x="395.88" y="88.99" fill="#5a1414">3</text><rect x="389.60" y="99.78" width="12.55" height="8.33" fill="#ff6e6e"/><text x="395.88" y="105.65" fill="#5a1414">4</text><rect x="389.60" y="108.11" width="12.55" height="8.33" fill="#ff6e6e"/><text x="395.88" y="113.98" fill="#5a1414">6</text><rect x="402.15" y="116.44" width="12.55" height="8.33" fill="#6060ff"/><text x="408.43" y="122.31" fill="#14145a">1</text><rect x="389.60" y="124.77" width="12.55" height="8.33" fill="#ffcccc"/><text x="395.88" y="130.63" fill="#333">1</text><rect x="402.15" y="124.77" width="12.55" height="8.33" fill="#6060ff"/><text x="408.43" y="130.63" fill="#14145a">3</text><rect x="389.60" y="141.43" width="12.55" height="8.33" fill="#ff6e6e"/><text x="395.88" y="147.29" fill="#5a1414">2</text><rect x="389.60" y="149.76" width="12.55" height="8.33" fill="#ff6e6e"/><text x="395.88" y="155.62" fill="#5a1414">4</text><rect x="402.15" y="149.76" width="12.55" height="8.33" fill="#0000f0"/><text x="408.43" y="155.62" fill="#fff" font-weight="bold">2</text><rect x="402.15" y="158.09" width="12.55" height="8.33" fill="#6060ff"/><text x="408.43" y="163.95" fill="#14145a">2</text><rect x="389.60" y="166.42" width="12.55" height="8.33" fill="#ffcccc"/><text x="395.88" y="172.28" fill="#333">2</text><rect x="389.60" y="174.75" width="12.55" height="8.33" fill="#ff6e6e"/><text x="395.88" y="180.61" fill="#5a1414">3</text><rect x="389.60" y="183.08" width="12.55" height="8.33" fill="#ff6e6e"/><text x="395.88" y="188.94" fill="#5a1414">1</text><rect x="389.60" y="191.41" width="12.55" height="8.33" fill="#ff6e6e"/><text x="395.88" y="197.28" fill="#5a1414">3</text><rect x="389.60" y="199.74" width="12.55" height="8.33" fill="#ff6e6e"/><text x="395.88" y="205.60" fill="#5a1414">1</text><rect x="402.15" y="199.74" width="12.55" height="8.33" fill="#0000f0"/><text x="408.43" y="205.60" fill="#fff" font-weight="bold">3</text><rect x="389.60" y="208.07" width="12.55" height="8.33" fill="#ff0000"/><text x="395.88" y="213.93" fill="#fff" font-weight="bold">3</text><rect x="402.15" y="208.07" width="12.55" height="8.33" fill="#6060ff"/><text x="408.43" y="213.93" fill="#14145a">1</text><path d="M389.60 58.13H414.70M389.60 66.46H414.70M389.60 74.79H414.70M389.60 83.12H414.70M389.60 91.45H414.70M389.60 99.78H414.70M389.60 108.11H414.70M389.60 116.44H414.70M389.60 124.77H414.70M389.60 133.10H414.70M389.60 141.43H414.70M389.60 149.76H414.70M389.60 158.09H414.70M389.60 166.42H414.70M389.60 174.75H414.70M389.60 183.08H414.70M389.60 191.41H414.70M389.60 199.74H414.70M389.60 208.07H414.70M402.15 49.8V225.10" stroke="#000" stroke-opacity=".13" stroke-width=".6" fill="none"/><text x="395.88" y="222.45" fill="#333">43</text><text x="408.43" y="222.45" fill="#333">14</text><text x="402.15" y="231.00" fill="#333">453</text><path d="M389.60 49.8H414.70M389.60 216.40H414.70" stroke="#2a2a2a" stroke-width="1.1" fill="none"/><path d="M389.60 225.10H414.70" stroke="#666" stroke-width=".7"/><rect x="389.60" y="8.6" width="25.1" height="224.80" fill="none" stroke="#2a2a2a" stroke-width="1.4"/><g fill="#2a6098" font-size="5.1"><text x="402.15" y="14.40">Cancer</text><text x="402.15" y="18.90">vs.</text><text x="402.15" y="23.40">Normal</text></g><text transform="translate(403.20,236.9) rotate(-45)" text-anchor="end" font-size="8.6" fill="#000" stroke="#111" stroke-width=".15" x="0" y="6">SUMO1</text><rect x="418.55" y="49.80" width="12.55" height="8.33" fill="#ff6e6e"/><text x="424.82" y="55.66" fill="#5a1414">1</text><rect x="418.55" y="58.13" width="12.55" height="8.33" fill="#ff6e6e"/><text x="424.82" y="63.99" fill="#5a1414">4</text><rect x="418.55" y="66.46" width="12.55" height="8.33" fill="#ff0000"/><text x="424.82" y="72.33" fill="#fff" font-weight="bold">5</text><rect x="431.10" y="66.46" width="12.55" height="8.33" fill="#9c9cff"/><text x="437.37" y="72.33" fill="#333">1</text><rect x="418.55" y="74.79" width="12.55" height="8.33" fill="#ffcccc"/><text x="424.82" y="80.66" fill="#333">1</text><rect x="418.55" y="83.12" width="12.55" height="8.33" fill="#ff6e6e"/><text x="424.82" y="88.99" fill="#5a1414">1</text><rect x="431.10" y="91.45" width="12.55" height="8.33" fill="#9c9cff"/><text x="437.37" y="97.31" fill="#333">1</text><rect x="418.55" y="99.78" width="12.55" height="8.33" fill="#ffcccc"/><text x="424.82" y="105.65" fill="#333">1</text><rect x="418.55" y="108.11" width="12.55" height="8.33" fill="#ff6e6e"/><text x="424.82" y="113.98" fill="#5a1414">7</text><rect x="418.55" y="116.44" width="12.55" height="8.33" fill="#ff6e6e"/><text x="424.82" y="122.31" fill="#5a1414">5</text><rect x="431.10" y="116.44" width="12.55" height="8.33" fill="#6060ff"/><text x="437.37" y="122.31" fill="#14145a">1</text><rect x="431.10" y="124.77" width="12.55" height="8.33" fill="#6060ff"/><text x="437.37" y="130.63" fill="#14145a">1</text><rect x="418.55" y="133.10" width="12.55" height="8.33" fill="#ff6e6e"/><text x="424.82" y="138.96" fill="#5a1414">2</text><rect x="418.55" y="141.43" width="12.55" height="8.33" fill="#ff6e6e"/><text x="424.82" y="147.29" fill="#5a1414">3</text><rect x="418.55" y="149.76" width="12.55" height="8.33" fill="#ff0000"/><text x="424.82" y="155.62" fill="#fff" font-weight="bold">9</text><rect x="431.10" y="149.76" width="12.55" height="8.33" fill="#6060ff"/><text x="437.37" y="155.62" fill="#14145a">1</text><rect x="418.55" y="158.09" width="12.55" height="8.33" fill="#ffcccc"/><text x="424.82" y="163.95" fill="#333">1</text><rect x="418.55" y="166.42" width="12.55" height="8.33" fill="#ffcccc"/><text x="424.82" y="172.28" fill="#333">1</text><rect x="418.55" y="174.75" width="12.55" height="8.33" fill="#ff6e6e"/><text x="424.82" y="180.61" fill="#5a1414">1</text><rect x="431.10" y="174.75" width="12.55" height="8.33" fill="#0000f0"/><text x="437.37" y="180.61" fill="#fff" font-weight="bold">1</text><rect x="418.55" y="191.41" width="12.55" height="8.33" fill="#ff6e6e"/><text x="424.82" y="197.28" fill="#5a1414">2</text><rect x="431.10" y="191.41" width="12.55" height="8.33" fill="#0000f0"/><text x="437.37" y="197.28" fill="#fff" font-weight="bold">1</text><rect x="431.10" y="199.74" width="12.55" height="8.33" fill="#9c9cff"/><text x="437.37" y="205.60" fill="#333">1</text><rect x="418.55" y="208.07" width="12.55" height="8.33" fill="#ff0000"/><text x="424.82" y="213.93" fill="#fff" font-weight="bold">9</text><path d="M418.55 58.13H443.65M418.55 66.46H443.65M418.55 74.79H443.65M418.55 83.12H443.65M418.55 91.45H443.65M418.55 99.78H443.65M418.55 108.11H443.65M418.55 116.44H443.65M418.55 124.77H443.65M418.55 133.10H443.65M418.55 141.43H443.65M418.55 149.76H443.65M418.55 158.09H443.65M418.55 166.42H443.65M418.55 174.75H443.65M418.55 183.08H443.65M418.55 191.41H443.65M418.55 199.74H443.65M418.55 208.07H443.65M431.10 49.8V225.10" stroke="#000" stroke-opacity=".13" stroke-width=".6" fill="none"/><text x="424.82" y="222.45" fill="#333">53</text><text x="437.37" y="222.45" fill="#333">8</text><text x="431.10" y="231.00" fill="#333">436</text><path d="M418.55 49.8H443.65M418.55 216.40H443.65" stroke="#2a2a2a" stroke-width="1.1" fill="none"/><path d="M418.55 225.10H443.65" stroke="#666" stroke-width=".7"/><rect x="418.55" y="8.6" width="25.1" height="224.80" fill="none" stroke="#2a2a2a" stroke-width="1.4"/><g fill="#2a6098" font-size="5.1"><text x="431.10" y="14.40">Cancer</text><text x="431.10" y="18.90">vs.</text><text x="431.10" y="23.40">Normal</text></g><text transform="translate(432.15,236.9) rotate(-45)" text-anchor="end" font-size="8.6" fill="#000" stroke="#111" stroke-width=".15" x="0" y="6">SUMO2</text><rect x="447.50" y="49.80" width="12.55" height="8.33" fill="#ff6e6e"/><text x="453.77" y="55.66" fill="#5a1414">2</text><rect x="447.50" y="58.13" width="12.55" height="8.33" fill="#ff6e6e"/><text x="453.77" y="63.99" fill="#5a1414">1</text><rect x="460.05" y="58.13" width="12.55" height="8.33" fill="#6060ff"/><text x="466.32" y="63.99" fill="#14145a">1</text><rect x="447.50" y="66.46" width="12.55" height="8.33" fill="#ff6e6e"/><text x="453.77" y="72.33" fill="#5a1414">1</text><rect x="447.50" y="74.79" width="12.55" height="8.33" fill="#ff6e6e"/><text x="453.77" y="80.66" fill="#5a1414">1</text><rect x="447.50" y="91.45" width="12.55" height="8.33" fill="#ff6e6e"/><text x="453.77" y="97.31" fill="#5a1414">2</text><rect x="447.50" y="108.11" width="12.55" height="8.33" fill="#ff0000"/><text x="453.77" y="113.98" fill="#fff" font-weight="bold">9</text><rect x="447.50" y="116.44" width="12.55" height="8.33" fill="#ff6e6e"/><text x="453.77" y="122.31" fill="#5a1414">3</text><rect x="447.50" y="124.77" width="12.55" height="8.33" fill="#ff0000"/><text x="453.77" y="130.63" fill="#fff" font-weight="bold">4</text><rect x="447.50" y="133.10" width="12.55" height="8.33" fill="#ffcccc"/><text x="453.77" y="138.96" fill="#333">1</text><rect x="447.50" y="149.76" width="12.55" height="8.33" fill="#ff6e6e"/><text x="453.77" y="155.62" fill="#5a1414">5</text><rect x="447.50" y="158.09" width="12.55" height="8.33" fill="#ffcccc"/><text x="453.77" y="163.95" fill="#333">1</text><rect x="447.50" y="166.42" width="12.55" height="8.33" fill="#ffcccc"/><text x="453.77" y="172.28" fill="#333">1</text><rect x="447.50" y="174.75" width="12.55" height="8.33" fill="#ff0000"/><text x="453.77" y="180.61" fill="#fff" font-weight="bold">9</text><rect x="447.50" y="183.08" width="12.55" height="8.33" fill="#ff6e6e"/><text x="453.77" y="188.94" fill="#5a1414">1</text><rect x="447.50" y="191.41" width="12.55" height="8.33" fill="#ff0000"/><text x="453.77" y="197.28" fill="#fff" font-weight="bold">2</text><rect x="447.50" y="199.74" width="12.55" height="8.33" fill="#ffcccc"/><text x="453.77" y="205.60" fill="#333">1</text><rect x="460.05" y="208.07" width="12.55" height="8.33" fill="#9c9cff"/><text x="466.32" y="213.93" fill="#333">2</text><path d="M447.50 58.13H472.60M447.50 66.46H472.60M447.50 74.79H472.60M447.50 83.12H472.60M447.50 91.45H472.60M447.50 99.78H472.60M447.50 108.11H472.60M447.50 116.44H472.60M447.50 124.77H472.60M447.50 133.10H472.60M447.50 141.43H472.60M447.50 149.76H472.60M447.50 158.09H472.60M447.50 166.42H472.60M447.50 174.75H472.60M447.50 183.08H472.60M447.50 191.41H472.60M447.50 199.74H472.60M447.50 208.07H472.60M460.05 49.8V225.10" stroke="#000" stroke-opacity=".13" stroke-width=".6" fill="none"/><text x="453.77" y="222.45" fill="#333">44</text><text x="466.32" y="222.45" fill="#333">5</text><text x="460.05" y="231.00" fill="#333">433</text><path d="M447.50 49.8H472.60M447.50 216.40H472.60" stroke="#2a2a2a" stroke-width="1.1" fill="none"/><path d="M447.50 225.10H472.60" stroke="#666" stroke-width=".7"/><rect x="447.50" y="8.6" width="25.1" height="224.80" fill="none" stroke="#2a2a2a" stroke-width="1.4"/><g fill="#2a6098" font-size="5.1"><text x="460.05" y="14.40">Cancer</text><text x="460.05" y="18.90">vs.</text><text x="460.05" y="23.40">Normal</text></g><text transform="translate(461.10,236.9) rotate(-45)" text-anchor="end" font-size="8.6" fill="#000" stroke="#111" stroke-width=".15" x="0" y="6">SUMO3</text><rect x="476.45" y="108.11" width="12.55" height="8.33" fill="#ffcccc"/><text x="482.72" y="113.98" fill="#333">1</text><path d="M476.45 58.13H501.55M476.45 66.46H501.55M476.45 74.79H501.55M476.45 83.12H501.55M476.45 91.45H501.55M476.45 99.78H501.55M476.45 108.11H501.55M476.45 116.44H501.55M476.45 124.77H501.55M476.45 133.10H501.55M476.45 141.43H501.55M476.45 149.76H501.55M476.45 158.09H501.55M476.45 166.42H501.55M476.45 174.75H501.55M476.45 183.08H501.55M476.45 191.41H501.55M476.45 199.74H501.55M476.45 208.07H501.55M489.00 49.8V225.10" stroke="#000" stroke-opacity=".13" stroke-width=".6" fill="none"/><text x="482.72" y="222.45" fill="#333">1</text><text x="495.27" y="222.45" fill="#333"></text><text x="489.00" y="231.00" fill="#333">123</text><path d="M476.45 48.5H501.55M476.45 216.40H501.55" stroke="#2a2a2a" stroke-width="1.1" fill="none"/><path d="M476.45 225.10H501.55" stroke="#666" stroke-width=".7"/><rect x="476.45" y="7.3" width="25.1" height="225.00" fill="none" stroke="#2a2a2a" stroke-width="1.4"/><g fill="#2a6098" font-size="5.1"><text x="489.00" y="13.10">Cancer</text><text x="489.00" y="17.60">vs.</text><text x="489.00" y="22.10">Normal</text></g><text transform="translate(490.05,236.9) rotate(-45)" text-anchor="end" font-size="8.6" fill="#000" stroke="#111" stroke-width=".15" x="0" y="6">SUMO4</text><rect x="505.40" y="58.13" width="12.55" height="8.33" fill="#ff6e6e"/><text x="511.67" y="63.99" fill="#5a1414">3</text><rect x="505.40" y="66.46" width="12.55" height="8.33" fill="#ffcccc"/><text x="511.67" y="72.33" fill="#333">2</text><rect x="505.40" y="74.79" width="12.55" height="8.33" fill="#ffcccc"/><text x="511.67" y="80.66" fill="#333">1</text><rect x="517.95" y="83.12" width="12.55" height="8.33" fill="#6060ff"/><text x="524.22" y="88.99" fill="#14145a">1</text><rect x="505.40" y="108.11" width="12.55" height="8.33" fill="#ff6e6e"/><text x="511.67" y="113.98" fill="#5a1414">2</text><rect x="505.40" y="116.44" width="12.55" height="8.33" fill="#ffcccc"/><text x="511.67" y="122.31" fill="#333">1</text><rect x="505.40" y="141.43" width="12.55" height="8.33" fill="#ff6e6e"/><text x="511.67" y="147.29" fill="#5a1414">1</text><rect x="505.40" y="149.76" width="12.55" height="8.33" fill="#ffcccc"/><text x="511.67" y="155.62" fill="#333">1</text><rect x="517.95" y="174.75" width="12.55" height="8.33" fill="#0000f0"/><text x="524.22" y="180.61" fill="#fff" font-weight="bold">9</text><path d="M505.40 58.13H530.50M505.40 66.46H530.50M505.40 74.79H530.50M505.40 83.12H530.50M505.40 91.45H530.50M505.40 99.78H530.50M505.40 108.11H530.50M505.40 116.44H530.50M505.40 124.77H530.50M505.40 133.10H530.50M505.40 141.43H530.50M505.40 149.76H530.50M505.40 158.09H530.50M505.40 166.42H530.50M505.40 174.75H530.50M505.40 183.08H530.50M505.40 191.41H530.50M505.40 199.74H530.50M505.40 208.07H530.50M517.95 49.8V225.10" stroke="#000" stroke-opacity=".13" stroke-width=".6" fill="none"/><text x="511.67" y="222.45" fill="#333">11</text><text x="524.22" y="222.45" fill="#333">10</text><text x="517.95" y="231.00" fill="#333">208</text><path d="M505.40 49.8H530.50M505.40 216.40H530.50" stroke="#2a2a2a" stroke-width="1.1" fill="none"/><path d="M505.40 225.10H530.50" stroke="#666" stroke-width=".7"/><rect x="505.40" y="8.6" width="25.1" height="224.80" fill="none" stroke="#2a2a2a" stroke-width="1.4"/><g fill="#2a6098" font-size="5.1"><text x="517.95" y="14.40">Cancer</text><text x="517.95" y="18.90">vs.</text><text x="517.95" y="23.40">Normal</text></g><text transform="translate(519.00,236.9) rotate(-45)" text-anchor="end" font-size="8.6" fill="#000" stroke="#111" stroke-width=".15" x="0" y="6">SENP1</text><rect x="546.90" y="58.13" width="12.55" height="8.33" fill="#6060ff"/><text x="553.17" y="63.99" fill="#14145a">1</text><rect x="546.90" y="66.46" width="12.55" height="8.33" fill="#6060ff"/><text x="553.17" y="72.33" fill="#14145a">2</text><rect x="534.35" y="74.79" width="12.55" height="8.33" fill="#ff0000"/><text x="540.62" y="80.66" fill="#fff" font-weight="bold">1</text><rect x="534.35" y="99.78" width="12.55" height="8.33" fill="#ff0000"/><text x="540.62" y="105.65" fill="#fff" font-weight="bold">2</text><rect x="534.35" y="108.11" width="12.55" height="8.33" fill="#ffcccc"/><text x="540.62" y="113.98" fill="#333">3</text><rect x="534.35" y="141.43" width="12.55" height="8.33" fill="#ff0000"/><text x="540.62" y="147.29" fill="#fff" font-weight="bold">6</text><rect x="546.90" y="149.76" width="12.55" height="8.33" fill="#9c9cff"/><text x="553.17" y="155.62" fill="#333">1</text><rect x="546.90" y="174.75" width="12.55" height="8.33" fill="#6060ff"/><text x="553.17" y="180.61" fill="#14145a">6</text><rect x="546.90" y="191.41" width="12.55" height="8.33" fill="#9c9cff"/><text x="553.17" y="197.28" fill="#333">1</text><rect x="534.35" y="208.07" width="12.55" height="8.33" fill="#ff6e6e"/><text x="540.62" y="213.93" fill="#5a1414">3</text><path d="M534.35 58.13H559.45M534.35 66.46H559.45M534.35 74.79H559.45M534.35 83.12H559.45M534.35 91.45H559.45M534.35 99.78H559.45M534.35 108.11H559.45M534.35 116.44H559.45M534.35 124.77H559.45M534.35 133.10H559.45M534.35 141.43H559.45M534.35 149.76H559.45M534.35 158.09H559.45M534.35 166.42H559.45M534.35 174.75H559.45M534.35 183.08H559.45M534.35 191.41H559.45M534.35 199.74H559.45M534.35 208.07H559.45M546.90 49.8V225.10" stroke="#000" stroke-opacity=".13" stroke-width=".6" fill="none"/><text x="540.62" y="222.45" fill="#333">11</text><text x="553.17" y="222.45" fill="#333">11</text><text x="546.90" y="231.00" fill="#333">384</text><path d="M534.35 48.5H559.45M534.35 216.40H559.45" stroke="#2a2a2a" stroke-width="1.1" fill="none"/><path d="M534.35 225.10H559.45" stroke="#666" stroke-width=".7"/><rect x="534.35" y="7.3" width="25.1" height="225.00" fill="none" stroke="#2a2a2a" stroke-width="1.4"/><g fill="#2a6098" font-size="5.1"><text x="546.90" y="13.10">Cancer</text><text x="546.90" y="17.60">vs.</text><text x="546.90" y="22.10">Normal</text></g><text transform="translate(547.95,236.9) rotate(-45)" text-anchor="end" font-size="8.6" fill="#000" stroke="#111" stroke-width=".15" x="0" y="6">SENP2</text><rect x="563.30" y="49.80" width="12.55" height="8.33" fill="#ffcccc"/><text x="569.57" y="55.66" fill="#333">2</text><rect x="575.85" y="66.46" width="12.55" height="8.33" fill="#9c9cff"/><text x="582.12" y="72.33" fill="#333">1</text><rect x="563.30" y="83.12" width="12.55" height="8.33" fill="#ff0000"/><text x="569.57" y="88.99" fill="#fff" font-weight="bold">5</text><rect x="575.85" y="91.45" width="12.55" height="8.33" fill="#0000f0"/><text x="582.12" y="97.31" fill="#fff" font-weight="bold">1</text><rect x="563.30" y="108.11" width="12.55" height="8.33" fill="#ffcccc"/><text x="569.57" y="113.98" fill="#333">2</text><rect x="563.30" y="116.44" width="12.55" height="8.33" fill="#ffcccc"/><text x="569.57" y="122.31" fill="#333">1</text><rect x="575.85" y="116.44" width="12.55" height="8.33" fill="#0000f0"/><text x="582.12" y="122.31" fill="#fff" font-weight="bold">1</text><rect x="563.30" y="149.76" width="12.55" height="8.33" fill="#ffcccc"/><text x="569.57" y="155.62" fill="#333">1</text><rect x="563.30" y="158.09" width="12.55" height="8.33" fill="#ff0000"/><text x="569.57" y="163.95" fill="#fff" font-weight="bold">8</text><rect x="563.30" y="174.75" width="12.55" height="8.33" fill="#ff0000"/><text x="569.57" y="180.61" fill="#fff" font-weight="bold">3</text><rect x="575.85" y="174.75" width="12.55" height="8.33" fill="#9c9cff"/><text x="582.12" y="180.61" fill="#333">1</text><rect x="563.30" y="208.07" width="12.55" height="8.33" fill="#ffcccc"/><text x="569.57" y="213.93" fill="#333">1</text><path d="M563.30 58.13H588.40M563.30 66.46H588.40M563.30 74.79H588.40M563.30 83.12H588.40M563.30 91.45H588.40M563.30 99.78H588.40M563.30 108.11H588.40M563.30 116.44H588.40M563.30 124.77H588.40M563.30 133.10H588.40M563.30 141.43H588.40M563.30 149.76H588.40M563.30 158.09H588.40M563.30 166.42H588.40M563.30 174.75H588.40M563.30 183.08H588.40M563.30 191.41H588.40M563.30 199.74H588.40M563.30 208.07H588.40M575.85 49.8V225.10" stroke="#000" stroke-opacity=".13" stroke-width=".6" fill="none"/><text x="569.57" y="222.45" fill="#333">18</text><text x="582.12" y="222.45" fill="#333">4</text><text x="575.85" y="231.00" fill="#333">429</text><path d="M563.30 49.8H588.40M563.30 216.40H588.40" stroke="#2a2a2a" stroke-width="1.1" fill="none"/><path d="M563.30 225.10H588.40" stroke="#666" stroke-width=".7"/><rect x="563.30" y="8.6" width="25.1" height="224.80" fill="none" stroke="#2a2a2a" stroke-width="1.4"/><g fill="#2a6098" font-size="5.1"><text x="575.85" y="14.40">Cancer</text><text x="575.85" y="18.90">vs.</text><text x="575.85" y="23.40">Normal</text></g><text transform="translate(576.90,236.9) rotate(-45)" text-anchor="end" font-size="8.6" fill="#000" stroke="#111" stroke-width=".15" x="0" y="6">SENP3</text><rect x="604.80" y="58.13" width="12.55" height="8.33" fill="#6060ff"/><text x="611.07" y="63.99" fill="#14145a">4</text><rect x="592.25" y="66.46" width="12.55" height="8.33" fill="#ff6e6e"/><text x="598.52" y="72.33" fill="#5a1414">4</text><rect x="592.25" y="74.79" width="12.55" height="8.33" fill="#ff0000"/><text x="598.52" y="80.66" fill="#fff" font-weight="bold">3</text><rect x="592.25" y="83.12" width="12.55" height="8.33" fill="#ffcccc"/><text x="598.52" y="88.99" fill="#333">4</text><rect x="604.80" y="91.45" width="12.55" height="8.33" fill="#0000f0"/><text x="611.07" y="97.31" fill="#fff" font-weight="bold">2</text><rect x="592.25" y="108.11" width="12.55" height="8.33" fill="#ff6e6e"/><text x="598.52" y="113.98" fill="#5a1414">3</text><rect x="592.25" y="116.44" width="12.55" height="8.33" fill="#ff6e6e"/><text x="598.52" y="122.31" fill="#5a1414">2</text><rect x="604.80" y="116.44" width="12.55" height="8.33" fill="#6060ff"/><text x="611.07" y="122.31" fill="#14145a">2</text><rect x="604.80" y="124.77" width="12.55" height="8.33" fill="#6060ff"/><text x="611.07" y="130.63" fill="#14145a">2</text><rect x="592.25" y="141.43" width="12.55" height="8.33" fill="#ff0000"/><text x="598.52" y="147.29" fill="#fff" font-weight="bold">9</text><rect x="592.25" y="149.76" width="12.55" height="8.33" fill="#ffcccc"/><text x="598.52" y="155.62" fill="#333">1</text><rect x="604.80" y="149.76" width="12.55" height="8.33" fill="#9c9cff"/><text x="611.07" y="155.62" fill="#333">1</text><rect x="592.25" y="174.75" width="12.55" height="8.33" fill="#ffcccc"/><text x="598.52" y="180.61" fill="#333">1</text><rect x="604.80" y="174.75" width="12.55" height="8.33" fill="#6060ff"/><text x="611.07" y="180.61" fill="#14145a">5</text><rect x="604.80" y="199.74" width="12.55" height="8.33" fill="#6060ff"/><text x="611.07" y="205.60" fill="#14145a">1</text><rect x="592.25" y="208.07" width="12.55" height="8.33" fill="#ff6e6e"/><text x="598.52" y="213.93" fill="#5a1414">2</text><path d="M592.25 58.13H617.35M592.25 66.46H617.35M592.25 74.79H617.35M592.25 83.12H617.35M592.25 91.45H617.35M592.25 99.78H617.35M592.25 108.11H617.35M592.25 116.44H617.35M592.25 124.77H617.35M592.25 133.10H617.35M592.25 141.43H617.35M592.25 149.76H617.35M592.25 158.09H617.35M592.25 166.42H617.35M592.25 174.75H617.35M592.25 183.08H617.35M592.25 191.41H617.35M592.25 199.74H617.35M592.25 208.07H617.35M604.80 49.8V225.10" stroke="#000" stroke-opacity=".13" stroke-width=".6" fill="none"/><text x="598.52" y="222.45" fill="#333">20</text><text x="611.07" y="222.45" fill="#333">17</text><text x="604.80" y="231.00" fill="#333">415</text><path d="M592.25 48.5H617.35M592.25 216.40H617.35" stroke="#2a2a2a" stroke-width="1.1" fill="none"/><path d="M592.25 225.10H617.35" stroke="#666" stroke-width=".7"/><rect x="592.25" y="7.3" width="25.1" height="226.10" fill="none" stroke="#2a2a2a" stroke-width="1.4"/><g fill="#2a6098" font-size="5.1"><text x="604.80" y="13.10">Cancer</text><text x="604.80" y="17.60">vs.</text><text x="604.80" y="22.10">Normal</text></g><text transform="translate(605.85,236.9) rotate(-45)" text-anchor="end" font-size="8.6" fill="#000" stroke="#111" stroke-width=".15" x="0" y="6">SENP5</text><rect x="633.75" y="49.80" width="12.55" height="8.33" fill="#9c9cff"/><text x="640.02" y="55.66" fill="#333">2</text><rect x="621.20" y="58.13" width="12.55" height="8.33" fill="#ff6e6e"/><text x="627.48" y="63.99" fill="#5a1414">2</text><rect x="633.75" y="66.46" width="12.55" height="8.33" fill="#0000f0"/><text x="640.02" y="72.33" fill="#fff" font-weight="bold">8</text><rect x="621.20" y="83.12" width="12.55" height="8.33" fill="#ffcccc"/><text x="627.48" y="88.99" fill="#333">1</text><rect x="621.20" y="108.11" width="12.55" height="8.33" fill="#ff6e6e"/><text x="627.48" y="113.98" fill="#5a1414">1</text><rect x="621.20" y="124.77" width="12.55" height="8.33" fill="#ffcccc"/><text x="627.48" y="130.63" fill="#333">1</text><rect x="633.75" y="124.77" width="12.55" height="8.33" fill="#9c9cff"/><text x="640.02" y="130.63" fill="#333">4</text><rect x="633.75" y="141.43" width="12.55" height="8.33" fill="#6060ff"/><text x="640.02" y="147.29" fill="#14145a">3</text><rect x="621.20" y="149.76" width="12.55" height="8.33" fill="#ffcccc"/><text x="627.48" y="155.62" fill="#333">2</text><rect x="633.75" y="149.76" width="12.55" height="8.33" fill="#6060ff"/><text x="640.02" y="155.62" fill="#14145a">6</text><rect x="633.75" y="158.09" width="12.55" height="8.33" fill="#6060ff"/><text x="640.02" y="163.95" fill="#14145a">1</text><rect x="621.20" y="166.42" width="12.55" height="8.33" fill="#ff6e6e"/><text x="627.48" y="172.28" fill="#5a1414">1</text><rect x="621.20" y="174.75" width="12.55" height="8.33" fill="#ffcccc"/><text x="627.48" y="180.61" fill="#333">1</text><rect x="633.75" y="174.75" width="12.55" height="8.33" fill="#6060ff"/><text x="640.02" y="180.61" fill="#14145a">4</text><rect x="621.20" y="191.41" width="12.55" height="8.33" fill="#ff6e6e"/><text x="627.48" y="197.28" fill="#5a1414">1</text><rect x="621.20" y="199.74" width="12.55" height="8.33" fill="#ffcccc"/><text x="627.48" y="205.60" fill="#333">2</text><rect x="633.75" y="199.74" width="12.55" height="8.33" fill="#6060ff"/><text x="640.02" y="205.60" fill="#14145a">1</text><rect x="621.20" y="208.07" width="12.55" height="8.33" fill="#ff0000"/><text x="627.48" y="213.93" fill="#fff" font-weight="bold">3</text><path d="M621.20 58.13H646.30M621.20 66.46H646.30M621.20 74.79H646.30M621.20 83.12H646.30M621.20 91.45H646.30M621.20 99.78H646.30M621.20 108.11H646.30M621.20 116.44H646.30M621.20 124.77H646.30M621.20 133.10H646.30M621.20 141.43H646.30M621.20 149.76H646.30M621.20 158.09H646.30M621.20 166.42H646.30M621.20 174.75H646.30M621.20 183.08H646.30M621.20 191.41H646.30M621.20 199.74H646.30M621.20 208.07H646.30M633.75 49.8V225.10" stroke="#000" stroke-opacity=".13" stroke-width=".6" fill="none"/><text x="627.48" y="222.45" fill="#333">15</text><text x="640.02" y="222.45" fill="#333">28</text><text x="633.75" y="231.00" fill="#333">433</text><path d="M621.20 48.5H646.30M621.20 216.40H646.30" stroke="#2a2a2a" stroke-width="1.1" fill="none"/><path d="M621.20 225.10H646.30" stroke="#666" stroke-width=".7"/><rect x="621.20" y="7.3" width="25.1" height="226.10" fill="none" stroke="#2a2a2a" stroke-width="1.4"/><g fill="#2a6098" font-size="5.1"><text x="633.75" y="13.10">Cancer</text><text x="633.75" y="17.60">vs.</text><text x="633.75" y="22.10">Normal</text></g><text transform="translate(634.80,236.9) rotate(-45)" text-anchor="end" font-size="8.6" fill="#000" stroke="#111" stroke-width=".15" x="0" y="6">SENP6</text><rect x="650.15" y="58.13" width="12.55" height="8.33" fill="#ff6e6e"/><text x="656.42" y="63.99" fill="#5a1414">5</text><rect x="650.15" y="66.46" width="12.55" height="8.33" fill="#ff6e6e"/><text x="656.42" y="72.33" fill="#5a1414">1</text><rect x="662.70" y="66.46" width="12.55" height="8.33" fill="#6060ff"/><text x="668.97" y="72.33" fill="#14145a">8</text><rect x="662.70" y="83.12" width="12.55" height="8.33" fill="#9c9cff"/><text x="668.97" y="88.99" fill="#333">2</text><rect x="662.70" y="99.78" width="12.55" height="8.33" fill="#6060ff"/><text x="668.97" y="105.65" fill="#14145a">3</text><rect x="662.70" y="116.44" width="12.55" height="8.33" fill="#9c9cff"/><text x="668.97" y="122.31" fill="#333">1</text><rect x="650.15" y="124.77" width="12.55" height="8.33" fill="#ff6e6e"/><text x="656.42" y="130.63" fill="#5a1414">2</text><rect x="662.70" y="149.76" width="12.55" height="8.33" fill="#0000f0"/><text x="668.97" y="155.62" fill="#fff" font-weight="bold">5</text><rect x="650.15" y="158.09" width="12.55" height="8.33" fill="#ff6e6e"/><text x="656.42" y="163.95" fill="#5a1414">1</text><rect x="662.70" y="183.08" width="12.55" height="8.33" fill="#6060ff"/><text x="668.97" y="188.94" fill="#14145a">1</text><rect x="650.15" y="199.74" width="12.55" height="8.33" fill="#ff0000"/><text x="656.42" y="205.60" fill="#fff" font-weight="bold">1</text><rect x="650.15" y="208.07" width="12.55" height="8.33" fill="#ff6e6e"/><text x="656.42" y="213.93" fill="#5a1414">1</text><path d="M650.15 58.13H675.25M650.15 66.46H675.25M650.15 74.79H675.25M650.15 83.12H675.25M650.15 91.45H675.25M650.15 99.78H675.25M650.15 108.11H675.25M650.15 116.44H675.25M650.15 124.77H675.25M650.15 133.10H675.25M650.15 141.43H675.25M650.15 149.76H675.25M650.15 158.09H675.25M650.15 166.42H675.25M650.15 174.75H675.25M650.15 183.08H675.25M650.15 191.41H675.25M650.15 199.74H675.25M650.15 208.07H675.25M662.70 49.8V225.10" stroke="#000" stroke-opacity=".13" stroke-width=".6" fill="none"/><text x="656.42" y="222.45" fill="#333">11</text><text x="668.97" y="222.45" fill="#333">18</text><text x="662.70" y="231.00" fill="#333">393</text><path d="M650.15 48.5H675.25M650.15 216.40H675.25" stroke="#2a2a2a" stroke-width="1.1" fill="none"/><path d="M650.15 225.10H675.25" stroke="#666" stroke-width=".7"/><rect x="650.15" y="7.3" width="25.1" height="226.10" fill="none" stroke="#2a2a2a" stroke-width="1.4"/><g fill="#2a6098" font-size="5.1"><text x="662.70" y="13.10">Cancer</text><text x="662.70" y="17.60">vs.</text><text x="662.70" y="22.10">Normal</text></g><text transform="translate(663.75,236.9) rotate(-45)" text-anchor="end" font-size="8.6" fill="#000" stroke="#111" stroke-width=".15" x="0" y="6">SENP7</text></g>
<!--B--><g font-size="8.8" fill="#000" stroke="#111" stroke-width=".12"><rect x="54.2" y="292.4" width="576.96" height="180.80" fill="#f2f2f2"/><rect x="72.23" y="292.40" width="18.03" height="18.08" fill="#ce2c1f"/><rect x="108.29" y="292.40" width="18.03" height="18.08" fill="#ce2c1f"/><rect x="144.35" y="292.40" width="18.03" height="18.08" fill="#ce2c1f"/><rect x="198.44" y="292.40" width="18.03" height="18.08" fill="#ce2c1f"/><rect x="342.68" y="292.40" width="18.03" height="18.08" fill="#ce2c1f"/><rect x="360.71" y="292.40" width="18.03" height="18.08" fill="#ce2c1f"/><rect x="378.74" y="292.40" width="18.03" height="18.08" fill="#ce2c1f"/><rect x="504.95" y="292.40" width="18.03" height="18.08" fill="#ce2c1f"/><rect x="559.04" y="292.40" width="18.03" height="18.08" fill="#ce2c1f"/><rect x="324.65" y="292.40" width="18.03" height="18.08" fill="#4a76ba"/><text x="636.8" y="304.74">SAE1</text><rect x="30.5" y="292.40" width="18.4" height="18.08" fill="#50b346" stroke="#7f7f7f" stroke-width="1.1"/><rect x="72.23" y="310.48" width="18.03" height="18.08" fill="#ce2c1f"/><rect x="108.29" y="310.48" width="18.03" height="18.08" fill="#ce2c1f"/><rect x="198.44" y="310.48" width="18.03" height="18.08" fill="#ce2c1f"/><rect x="342.68" y="310.48" width="18.03" height="18.08" fill="#ce2c1f"/><rect x="378.74" y="310.48" width="18.03" height="18.08" fill="#ce2c1f"/><rect x="559.04" y="310.48" width="18.03" height="18.08" fill="#ce2c1f"/><rect x="577.07" y="310.48" width="18.03" height="18.08" fill="#ce2c1f"/><rect x="288.59" y="310.48" width="18.03" height="18.08" fill="#4a76ba"/><rect x="396.77" y="310.48" width="18.03" height="18.08" fill="#4a76ba"/><text x="636.8" y="322.82">UBA2</text><rect x="30.5" y="310.48" width="18.4" height="18.08" fill="#50b346" stroke="#7f7f7f" stroke-width="1.1"/><rect x="72.23" y="328.56" width="18.03" height="18.08" fill="#ce2c1f"/><rect x="108.29" y="328.56" width="18.03" height="18.08" fill="#ce2c1f"/><rect x="180.41" y="328.56" width="18.03" height="18.08" fill="#ce2c1f"/><rect x="198.44" y="328.56" width="18.03" height="18.08" fill="#ce2c1f"/><rect x="342.68" y="328.56" width="18.03" height="18.08" fill="#ce2c1f"/><rect x="414.80" y="328.56" width="18.03" height="18.08" fill="#ce2c1f"/><rect x="396.77" y="328.56" width="18.03" height="18.08" fill="#4a76ba"/><text x="636.8" y="340.90">UBE2I</text><rect x="30.5" y="328.56" width="18.4" height="18.08" fill="#50b346" stroke="#7f7f7f" stroke-width="1.1"/><rect x="72.23" y="346.64" width="18.03" height="18.08" fill="#ce2c1f"/><rect x="342.68" y="346.64" width="18.03" height="18.08" fill="#ce2c1f"/><rect x="559.04" y="346.64" width="18.03" height="18.08" fill="#ce2c1f"/><rect x="577.07" y="346.64" width="18.03" height="18.08" fill="#ce2c1f"/><rect x="288.59" y="346.64" width="18.03" height="18.08" fill="#4a76ba"/><text x="636.8" y="358.98">PIAS1</text><rect x="30.5" y="346.64" width="18.4" height="18.08" fill="#50b346" stroke="#7f7f7f" stroke-width="1.1"/><rect x="72.23" y="364.72" width="18.03" height="18.08" fill="#ce2c1f"/><rect x="342.68" y="364.72" width="18.03" height="18.08" fill="#ce2c1f"/><rect x="360.71" y="364.72" width="18.03" height="18.08" fill="#ce2c1f"/><rect x="378.74" y="364.72" width="18.03" height="18.08" fill="#ce2c1f"/><rect x="541.01" y="364.72" width="18.03" height="18.08" fill="#ce2c1f"/><rect x="559.04" y="364.72" width="18.03" height="18.08" fill="#ce2c1f"/><rect x="126.32" y="364.72" width="18.03" height="18.08" fill="#4a76ba"/><rect x="288.59" y="364.72" width="18.03" height="18.08" fill="#4a76ba"/><text x="636.8" y="377.06">PIAS2</text><rect x="30.5" y="364.72" width="18.4" height="18.08" fill="#50b346" stroke="#7f7f7f" stroke-width="1.1"/><rect x="72.23" y="382.80" width="18.03" height="18.08" fill="#ce2c1f"/><rect x="198.44" y="382.80" width="18.03" height="18.08" fill="#ce2c1f"/><rect x="342.68" y="382.80" width="18.03" height="18.08" fill="#ce2c1f"/><rect x="378.74" y="382.80" width="18.03" height="18.08" fill="#ce2c1f"/><rect x="559.04" y="382.80" width="18.03" height="18.08" fill="#ce2c1f"/><rect x="577.07" y="382.80" width="18.03" height="18.08" fill="#ce2c1f"/><text x="636.8" y="395.14">PIAS3</text><rect x="30.5" y="382.80" width="18.4" height="18.08" fill="#50b346" stroke="#7f7f7f" stroke-width="1.1"/><rect x="72.23" y="400.88" width="18.03" height="18.08" fill="#ce2c1f"/><rect x="378.74" y="400.88" width="18.03" height="18.08" fill="#ce2c1f"/><rect x="559.04" y="400.88" width="18.03" height="18.08" fill="#ce2c1f"/><rect x="252.53" y="400.88" width="18.03" height="18.08" fill="#4a76ba"/><rect x="270.56" y="400.88" width="18.03" height="18.08" fill="#4a76ba"/><rect x="288.59" y="400.88" width="18.03" height="18.08" fill="#4a76ba"/><text x="636.8" y="413.22">PIAS4</text><rect x="30.5" y="400.88" width="18.4" height="18.08" fill="#50b346" stroke="#7f7f7f" stroke-width="1.1"/><rect x="72.23" y="418.96" width="18.03" height="18.08" fill="#ce2c1f"/><rect x="559.04" y="418.96" width="18.03" height="18.08" fill="#ce2c1f"/><rect x="288.59" y="418.96" width="18.03" height="18.08" fill="#4a76ba"/><rect x="396.77" y="418.96" width="18.03" height="18.08" fill="#4a76ba"/><text x="636.8" y="431.30">RANBP2</text><rect x="30.5" y="418.96" width="18.4" height="18.08" fill="#50b346" stroke="#7f7f7f" stroke-width="1.1"/><rect x="198.44" y="437.04" width="18.03" height="18.08" fill="#ce2c1f"/><rect x="288.59" y="437.04" width="18.03" height="18.08" fill="#ce2c1f"/><rect x="342.68" y="437.04" width="18.03" height="18.08" fill="#ce2c1f"/><rect x="559.04" y="437.04" width="18.03" height="18.08" fill="#ce2c1f"/><text x="636.8" y="449.38">CBX4</text><rect x="30.5" y="437.04" width="18.4" height="18.08" fill="#50b346" stroke="#7f7f7f" stroke-width="1.1"/><rect x="54.20" y="455.12" width="18.03" height="18.08" fill="#ce2c1f"/><rect x="72.23" y="455.12" width="18.03" height="18.08" fill="#ce2c1f"/><rect x="414.80" y="455.12" width="18.03" height="18.08" fill="#ce2c1f"/><rect x="450.86" y="455.12" width="18.03" height="18.08" fill="#ce2c1f"/><rect x="504.95" y="455.12" width="18.03" height="18.08" fill="#4a76ba"/><text x="636.8" y="467.46">PML</text><rect x="30.5" y="455.12" width="18.4" height="18.08" fill="#50b346" stroke="#7f7f7f" stroke-width="1.1"/><path d="M54.20 292.4v180.80M72.23 292.4v180.80M90.26 292.4v180.80M108.29 292.4v180.80M126.32 292.4v180.80M144.35 292.4v180.80M162.38 292.4v180.80M180.41 292.4v180.80M198.44 292.4v180.80M216.47 292.4v180.80M234.50 292.4v180.80M252.53 292.4v180.80M270.56 292.4v180.80M288.59 292.4v180.80M306.62 292.4v180.80M324.65 292.4v180.80M342.68 292.4v180.80M360.71 292.4v180.80M378.74 292.4v180.80M396.77 292.4v180.80M414.80 292.4v180.80M432.83 292.4v180.80M450.86 292.4v180.80M468.89 292.4v180.80M486.92 292.4v180.80M504.95 292.4v180.80M522.98 292.4v180.80M541.01 292.4v180.80M559.04 292.4v180.80M577.07 292.4v180.80M595.10 292.4v180.80M613.13 292.4v180.80M631.16 292.4v180.80M54.2 292.40h576.96M54.2 310.48h576.96M54.2 328.56h576.96M54.2 346.64h576.96M54.2 364.72h576.96M54.2 382.80h576.96M54.2 400.88h576.96M54.2 418.96h576.96M54.2 437.04h576.96M54.2 455.12h576.96M54.2 473.20h576.96" stroke="#7f7f7f" stroke-width="1.15" fill="none" stroke-linecap="square"/><rect x="54.2" y="479.9" width="576.96" height="72.32" fill="#f2f2f2"/><rect x="108.29" y="479.90" width="18.03" height="18.08" fill="#ce2c1f"/><rect x="198.44" y="479.90" width="18.03" height="18.08" fill="#ce2c1f"/><rect x="414.80" y="479.90" width="18.03" height="18.08" fill="#ce2c1f"/><rect x="559.04" y="479.90" width="18.03" height="18.08" fill="#ce2c1f"/><rect x="288.59" y="479.90" width="18.03" height="18.08" fill="#4a76ba"/><rect x="432.83" y="479.90" width="18.03" height="18.08" fill="#4a76ba"/><text x="636.8" y="492.24">SUMO1</text><rect x="30.5" y="479.90" width="18.4" height="18.08" fill="#f9c87c" stroke="#7f7f7f" stroke-width="1.1"/><rect x="108.29" y="497.98" width="18.03" height="18.08" fill="#ce2c1f"/><rect x="198.44" y="497.98" width="18.03" height="18.08" fill="#ce2c1f"/><rect x="234.50" y="497.98" width="18.03" height="18.08" fill="#ce2c1f"/><rect x="342.68" y="497.98" width="18.03" height="18.08" fill="#ce2c1f"/><rect x="468.89" y="497.98" width="18.03" height="18.08" fill="#ce2c1f"/><rect x="559.04" y="497.98" width="18.03" height="18.08" fill="#ce2c1f"/><rect x="577.07" y="497.98" width="18.03" height="18.08" fill="#ce2c1f"/><rect x="288.59" y="497.98" width="18.03" height="18.08" fill="#4a76ba"/><rect x="432.83" y="497.98" width="18.03" height="18.08" fill="#4a76ba"/><text x="636.8" y="510.32">SUMO2</text><rect x="30.5" y="497.98" width="18.4" height="18.08" fill="#f9c87c" stroke="#7f7f7f" stroke-width="1.1"/><rect x="108.29" y="516.06" width="18.03" height="18.08" fill="#ce2c1f"/><rect x="144.35" y="516.06" width="18.03" height="18.08" fill="#ce2c1f"/><rect x="180.41" y="516.06" width="18.03" height="18.08" fill="#ce2c1f"/><rect x="414.80" y="516.06" width="18.03" height="18.08" fill="#ce2c1f"/><rect x="541.01" y="516.06" width="18.03" height="18.08" fill="#ce2c1f"/><rect x="559.04" y="516.06" width="18.03" height="18.08" fill="#ce2c1f"/><rect x="288.59" y="516.06" width="18.03" height="18.08" fill="#4a76ba"/><text x="636.8" y="528.40">SUMO3</text><rect x="30.5" y="516.06" width="18.4" height="18.08" fill="#f9c87c" stroke="#7f7f7f" stroke-width="1.1"/><rect x="72.23" y="534.14" width="18.03" height="18.08" fill="#ce2c1f"/><rect x="216.47" y="534.14" width="18.03" height="18.08" fill="#ce2c1f"/><rect x="288.59" y="534.14" width="18.03" height="18.08" fill="#ce2c1f"/><rect x="378.74" y="534.14" width="18.03" height="18.08" fill="#ce2c1f"/><rect x="559.04" y="534.14" width="18.03" height="18.08" fill="#ce2c1f"/><text x="636.8" y="546.48">SUMO4</text><rect x="30.5" y="534.14" width="18.4" height="18.08" fill="#f9c87c" stroke="#7f7f7f" stroke-width="1.1"/><path d="M54.20 479.9v72.32M72.23 479.9v72.32M90.26 479.9v72.32M108.29 479.9v72.32M126.32 479.9v72.32M144.35 479.9v72.32M162.38 479.9v72.32M180.41 479.9v72.32M198.44 479.9v72.32M216.47 479.9v72.32M234.50 479.9v72.32M252.53 479.9v72.32M270.56 479.9v72.32M288.59 479.9v72.32M306.62 479.9v72.32M324.65 479.9v72.32M342.68 479.9v72.32M360.71 479.9v72.32M378.74 479.9v72.32M396.77 479.9v72.32M414.80 479.9v72.32M432.83 479.9v72.32M450.86 479.9v72.32M468.89 479.9v72.32M486.92 479.9v72.32M504.95 479.9v72.32M522.98 479.9v72.32M541.01 479.9v72.32M559.04 479.9v72.32M577.07 479.9v72.32M595.10 479.9v72.32M613.13 479.9v72.32M631.16 479.9v72.32M54.2 479.90h576.96M54.2 497.98h576.96M54.2 516.06h576.96M54.2 534.14h576.96M54.2 552.22h576.96" stroke="#7f7f7f" stroke-width="1.15" fill="none" stroke-linecap="square"/><rect x="54.2" y="559.0" width="576.96" height="108.48" fill="#f2f2f2"/><rect x="72.23" y="559.00" width="18.03" height="18.08" fill="#ce2c1f"/><rect x="198.44" y="559.00" width="18.03" height="18.08" fill="#ce2c1f"/><rect x="342.68" y="559.00" width="18.03" height="18.08" fill="#ce2c1f"/><rect x="378.74" y="559.00" width="18.03" height="18.08" fill="#ce2c1f"/><rect x="559.04" y="559.00" width="18.03" height="18.08" fill="#ce2c1f"/><rect x="577.07" y="559.00" width="18.03" height="18.08" fill="#ce2c1f"/><text x="636.8" y="571.34">SENP1</text><rect x="30.5" y="559.00" width="18.4" height="18.08" fill="#56c8f5" stroke="#7f7f7f" stroke-width="1.1"/><rect x="288.59" y="577.08" width="18.03" height="18.08" fill="#4a76ba"/><rect x="504.95" y="577.08" width="18.03" height="18.08" fill="#4a76ba"/><text x="636.8" y="589.42">SENP2</text><rect x="30.5" y="577.08" width="18.4" height="18.08" fill="#56c8f5" stroke="#7f7f7f" stroke-width="1.1"/><rect x="108.29" y="595.16" width="18.03" height="18.08" fill="#ce2c1f"/><rect x="180.41" y="595.16" width="18.03" height="18.08" fill="#ce2c1f"/><rect x="342.68" y="595.16" width="18.03" height="18.08" fill="#ce2c1f"/><rect x="378.74" y="595.16" width="18.03" height="18.08" fill="#ce2c1f"/><rect x="559.04" y="595.16" width="18.03" height="18.08" fill="#ce2c1f"/><rect x="577.07" y="595.16" width="18.03" height="18.08" fill="#ce2c1f"/><rect x="595.10" y="595.16" width="18.03" height="18.08" fill="#ce2c1f"/><rect x="414.80" y="595.16" width="18.03" height="18.08" fill="#4a76ba"/><text x="636.8" y="607.50">SENP3</text><rect x="30.5" y="595.16" width="18.4" height="18.08" fill="#56c8f5" stroke="#7f7f7f" stroke-width="1.1"/><rect x="144.35" y="613.24" width="18.03" height="18.08" fill="#ce2c1f"/><rect x="234.50" y="613.24" width="18.03" height="18.08" fill="#ce2c1f"/><rect x="342.68" y="613.24" width="18.03" height="18.08" fill="#ce2c1f"/><rect x="360.71" y="613.24" width="18.03" height="18.08" fill="#ce2c1f"/><rect x="577.07" y="613.24" width="18.03" height="18.08" fill="#ce2c1f"/><text x="636.8" y="625.58">SENP5</text><rect x="30.5" y="613.24" width="18.4" height="18.08" fill="#56c8f5" stroke="#7f7f7f" stroke-width="1.1"/><rect x="360.71" y="631.32" width="18.03" height="18.08" fill="#ce2c1f"/><rect x="396.77" y="631.32" width="18.03" height="18.08" fill="#4a76ba"/><text x="636.8" y="643.66">SENP6</text><rect x="30.5" y="631.32" width="18.4" height="18.08" fill="#56c8f5" stroke="#7f7f7f" stroke-width="1.1"/><rect x="216.47" y="649.40" width="18.03" height="18.08" fill="#ce2c1f"/><rect x="108.29" y="649.40" width="18.03" height="18.08" fill="#4a76ba"/><rect x="270.56" y="649.40" width="18.03" height="18.08" fill="#4a76ba"/><rect x="288.59" y="649.40" width="18.03" height="18.08" fill="#4a76ba"/><text x="636.8" y="661.74">SENP7</text><rect x="30.5" y="649.40" width="18.4" height="18.08" fill="#56c8f5" stroke="#7f7f7f" stroke-width="1.1"/><path d="M54.20 559.0v108.48M72.23 559.0v108.48M90.26 559.0v108.48M108.29 559.0v108.48M126.32 559.0v108.48M144.35 559.0v108.48M162.38 559.0v108.48M180.41 559.0v108.48M198.44 559.0v108.48M216.47 559.0v108.48M234.50 559.0v108.48M252.53 559.0v108.48M270.56 559.0v108.48M288.59 559.0v108.48M306.62 559.0v108.48M324.65 559.0v108.48M342.68 559.0v108.48M360.71 559.0v108.48M378.74 559.0v108.48M396.77 559.0v108.48M414.80 559.0v108.48M432.83 559.0v108.48M450.86 559.0v108.48M468.89 559.0v108.48M486.92 559.0v108.48M504.95 559.0v108.48M522.98 559.0v108.48M541.01 559.0v108.48M559.04 559.0v108.48M577.07 559.0v108.48M595.10 559.0v108.48M613.13 559.0v108.48M631.16 559.0v108.48M54.2 559.00h576.96M54.2 577.08h576.96M54.2 595.16h576.96M54.2 613.24h576.96M54.2 631.32h576.96M54.2 649.40h576.96M54.2 667.48h576.96" stroke="#7f7f7f" stroke-width="1.15" fill="none" stroke-linecap="square"/></g><g font-size="8.8" fill="#000" stroke="#111" stroke-width=".12"><text transform="translate(58.62,672.6) rotate(90)">GBM</text><text transform="translate(76.65,672.6) rotate(90)">LGG</text><text transform="translate(94.68,672.6) rotate(90)">CESC</text><text transform="translate(112.71,672.6) rotate(90)">LUAD</text><text transform="translate(130.74,672.6) rotate(90)">COAD</text><text transform="translate(148.77,672.6) rotate(90)">BRCA</text><text transform="translate(166.80,672.6) rotate(90)">ESCA</text><text transform="translate(184.83,672.6) rotate(90)">SARC</text><text transform="translate(202.85,672.6) rotate(90)">KIRP</text><text transform="translate(220.89,672.6) rotate(90)">STAD</text><text transform="translate(238.91,672.6) rotate(90)">PRAD</text><text transform="translate(256.94,672.6) rotate(90)">UCEC</text><text transform="translate(274.97,672.6) rotate(90)">HNSC</text><text transform="translate(293.00,672.6) rotate(90)">KIRC</text><text transform="translate(311.03,672.6) rotate(90)">LUSC</text><text transform="translate(329.06,672.6) rotate(90)">THYM</text><text transform="translate(347.09,672.6) rotate(90)">LIHC</text><text transform="translate(365.12,672.6) rotate(90)">THCA</text><text transform="translate(383.15,672.6) rotate(90)">MESO</text><text transform="translate(401.19,672.6) rotate(90)">READ</text><text transform="translate(419.21,672.6) rotate(90)">PAAD</text><text transform="translate(437.25,672.6) rotate(90)">OV</text><text transform="translate(455.27,672.6) rotate(90)">TGCT</text><text transform="translate(473.31,672.6) rotate(90)">PCPG</text><text transform="translate(491.33,672.6) rotate(90)">SKCM</text><text transform="translate(509.37,672.6) rotate(90)">UVM</text><text transform="translate(527.39,672.6) rotate(90)">UCS</text><text transform="translate(545.43,672.6) rotate(90)">BLCA</text><text transform="translate(563.46,672.6) rotate(90)">ACC</text><text transform="translate(581.49,672.6) rotate(90)">KICH</text><text transform="translate(599.52,672.6) rotate(90)">CHOL</text><text transform="translate(617.55,672.6) rotate(90)">DLBC</text></g><rect x="54.1" y="714.5" width="90.4" height="17.4" fill="#ce2c1f"/><rect x="144.5" y="714.5" width="90.2" height="17.4" fill="#f2f2f2"/><rect x="234.7" y="714.5" width="90.2" height="17.4" fill="#4a76ba"/><g font-size="10.6" fill="#000" stroke="#000" stroke-width=".2" text-anchor="middle"><text x="99.3" y="727">Risky</text><text x="189.6" y="727">p&gt;0.05</text><text x="279.8" y="727">Protective</text></g><g stroke="#7f7f7f" stroke-width=".9"><rect x="441.5" y="715.2" width="16.8" height="17" fill="#50b346"/><rect x="509.2" y="715.2" width="16.8" height="17" fill="#f9c87c"/><rect x="574.9" y="715.2" width="16.8" height="17" fill="#56c8f5"/></g><g font-size="10.6" fill="#000" stroke="#000" stroke-width=".2"><text x="462.6" y="728.3">E1E2E3</text><text x="529.9" y="728.3">SUMOs</text><text x="595.3" y="728.3">SENPs</text></g>
<!--C--><g fill="#dc2a2e" fill-opacity=".47"><circle cx="44.75" cy="929.91" r="1.5"/><circle cx="44.75" cy="927.27" r="1.5"/><circle cx="44.75" cy="924.64" r="1.5"/><circle cx="44.75" cy="920.24" r="1.5"/><circle cx="44.75" cy="914.97" r="1.5"/><circle cx="44.75" cy="939.57" r="1.5"/><circle cx="44.75" cy="938.90" r="1.5"/><circle cx="44.75" cy="938.36" r="1.5"/><circle cx="44.75" cy="937.46" r="1.5"/><circle cx="44.75" cy="936.97" r="1.5"/><circle cx="44.75" cy="936.16" r="1.5"/><circle cx="44.75" cy="935.46" r="1.5"/><circle cx="44.75" cy="934.98" r="1.5"/><circle cx="44.75" cy="934.18" r="1.5"/><circle cx="44.75" cy="933.72" r="1.5"/><circle cx="44.75" cy="932.97" r="1.5"/><circle cx="44.75" cy="932.49" r="1.5"/><circle cx="44.75" cy="931.98" r="1.5"/></g><path d="M44.75 939.57V949.67M44.75 957.58V964.16" stroke="#dc2a2e" stroke-width=".95" fill="none"/><rect x="39.10" y="949.67" width="11.3" height="7.91" fill="#f08c91" stroke="#dc2a2e" stroke-width=".9"/><path d="M39.10 953.18h11.3" stroke="#dc2a2e" stroke-width="1.6"/><g fill="#377eb8" fill-opacity=".47"></g><path d="M56.35 957.14V959.07M56.35 962.06V963.29" stroke="#377eb8" stroke-width=".95" fill="none"/><rect x="50.70" y="959.07" width="11.3" height="2.99" fill="#96c3e6" stroke="#377eb8" stroke-width=".9"/><path d="M50.70 960.83h11.3" stroke="#377eb8" stroke-width="1.6"/><g fill="#dc2a2e" fill-opacity=".47"><circle cx="75.84" cy="952.75" r="1.5"/><circle cx="75.84" cy="949.23" r="1.5"/><circle cx="75.84" cy="960.65" r="1.5"/><circle cx="75.84" cy="959.63" r="1.5"/><circle cx="75.84" cy="959.10" r="1.5"/><circle cx="75.84" cy="958.51" r="1.5"/><circle cx="75.84" cy="957.63" r="1.5"/><circle cx="75.84" cy="956.52" r="1.5"/><circle cx="75.84" cy="955.68" r="1.5"/><circle cx="75.84" cy="954.96" r="1.5"/></g><path d="M75.84 960.65V962.85M75.84 964.78V965.92" stroke="#dc2a2e" stroke-width=".95" fill="none"/><rect x="70.19" y="962.85" width="11.3" height="1.93" fill="#f08c91" stroke="#dc2a2e" stroke-width=".9"/><path d="M70.19 964.16h11.3" stroke="#dc2a2e" stroke-width="1.6"/><g fill="#377eb8" fill-opacity=".47"><circle cx="87.44" cy="958.63" r="1.5"/></g><path d="M87.44 959.77V960.83M87.44 963.11V963.73" stroke="#377eb8" stroke-width=".95" fill="none"/><rect x="81.79" y="960.83" width="11.3" height="2.28" fill="#96c3e6" stroke="#377eb8" stroke-width=".9"/><path d="M81.79 961.97h11.3" stroke="#377eb8" stroke-width="1.6"/><g fill="#dc2a2e" fill-opacity=".47"><circle cx="106.93" cy="958.02" r="1.5"/><circle cx="106.93" cy="963.73" r="1.5"/><circle cx="106.93" cy="963.25" r="1.5"/><circle cx="106.93" cy="962.21" r="1.5"/><circle cx="106.93" cy="961.57" r="1.5"/><circle cx="106.93" cy="961.03" r="1.5"/><circle cx="106.93" cy="960.51" r="1.5"/><circle cx="106.93" cy="959.85" r="1.5"/></g><path d="M106.93 963.73V965.31M106.93 966.54V966.80" stroke="#dc2a2e" stroke-width=".95" fill="none"/><rect x="101.28" y="965.31" width="11.3" height="1.23" fill="#f08c91" stroke="#dc2a2e" stroke-width=".9"/><path d="M101.28 966.10h11.3" stroke="#dc2a2e" stroke-width="1.6"/><g fill="#377eb8" fill-opacity=".47"></g><path d="M118.53 965.04V965.57M118.53 966.54V966.80" stroke="#377eb8" stroke-width=".95" fill="none"/><rect x="112.88" y="965.57" width="11.3" height="0.97" fill="#96c3e6" stroke="#377eb8" stroke-width=".9"/><path d="M112.88 966.10h11.3" stroke="#377eb8" stroke-width="1.6"/><g fill="#dc2a2e" fill-opacity=".47"><circle cx="138.02" cy="929.91" r="1.5"/><circle cx="138.02" cy="927.27" r="1.5"/><circle cx="138.02" cy="926.39" r="1.5"/><circle cx="138.02" cy="943.08" r="1.5"/><circle cx="138.02" cy="942.52" r="1.5"/><circle cx="138.02" cy="941.67" r="1.5"/><circle cx="138.02" cy="940.78" r="1.5"/><circle cx="138.02" cy="940.08" r="1.5"/><circle cx="138.02" cy="939.26" r="1.5"/><circle cx="138.02" cy="938.77" r="1.5"/><circle cx="138.02" cy="938.29" r="1.5"/><circle cx="138.02" cy="937.71" r="1.5"/><circle cx="138.02" cy="936.79" r="1.5"/><circle cx="138.02" cy="936.05" r="1.5"/><circle cx="138.02" cy="935.39" r="1.5"/><circle cx="138.02" cy="934.54" r="1.5"/><circle cx="138.02" cy="933.78" r="1.5"/></g><path d="M138.02 943.96V952.39M138.02 959.07V965.04" stroke="#dc2a2e" stroke-width=".95" fill="none"/><rect x="132.37" y="952.39" width="11.3" height="6.68" fill="#f08c91" stroke="#dc2a2e" stroke-width=".9"/><path d="M132.37 955.91h11.3" stroke="#dc2a2e" stroke-width="1.6"/><g fill="#377eb8" fill-opacity=".47"><circle cx="149.62" cy="957.58" r="1.5"/></g><path d="M149.62 959.07V960.83M149.62 962.85V963.81" stroke="#377eb8" stroke-width=".95" fill="none"/><rect x="143.97" y="960.83" width="11.3" height="2.02" fill="#96c3e6" stroke="#377eb8" stroke-width=".9"/><path d="M143.97 961.88h11.3" stroke="#377eb8" stroke-width="1.6"/><g fill="#dc2a2e" fill-opacity=".47"><circle cx="169.11" cy="957.14" r="1.5"/><circle cx="169.11" cy="956.26" r="1.5"/><circle cx="169.11" cy="951.43" r="1.5"/></g><path d="M169.11 958.02V960.83M169.11 963.29V965.48" stroke="#dc2a2e" stroke-width=".95" fill="none"/><rect x="163.46" y="960.83" width="11.3" height="2.46" fill="#f08c91" stroke="#dc2a2e" stroke-width=".9"/><path d="M163.46 961.97h11.3" stroke="#dc2a2e" stroke-width="1.6"/><g fill="#377eb8" fill-opacity=".47"><circle cx="180.71" cy="965.04" r="1.5"/></g><path d="M180.71 961.53V962.41M180.71 963.55V964.16" stroke="#377eb8" stroke-width=".95" fill="none"/><rect x="175.06" y="962.41" width="11.3" height="1.14" fill="#96c3e6" stroke="#377eb8" stroke-width=".9"/><path d="M175.06 963.02h11.3" stroke="#377eb8" stroke-width="1.6"/><g fill="#dc2a2e" fill-opacity=".47"><circle cx="200.20" cy="937.81" r="1.5"/><circle cx="200.20" cy="935.18" r="1.5"/><circle cx="200.20" cy="950.11" r="1.5"/><circle cx="200.20" cy="949.11" r="1.5"/><circle cx="200.20" cy="948.18" r="1.5"/><circle cx="200.20" cy="947.57" r="1.5"/><circle cx="200.20" cy="946.73" r="1.5"/><circle cx="200.20" cy="945.92" r="1.5"/><circle cx="200.20" cy="944.87" r="1.5"/><circle cx="200.20" cy="943.91" r="1.5"/><circle cx="200.20" cy="943.27" r="1.5"/><circle cx="200.20" cy="942.15" r="1.5"/><circle cx="200.20" cy="941.62" r="1.5"/><circle cx="200.20" cy="940.89" r="1.5"/></g><path d="M200.20 950.11V957.40M200.20 962.41V965.92" stroke="#dc2a2e" stroke-width=".95" fill="none"/><rect x="194.55" y="957.40" width="11.3" height="5.01" fill="#f08c91" stroke="#dc2a2e" stroke-width=".9"/><path d="M194.55 959.86h11.3" stroke="#dc2a2e" stroke-width="1.6"/><g fill="#377eb8" fill-opacity=".47"><circle cx="211.80" cy="956.43" r="1.5"/><circle cx="211.80" cy="964.34" r="1.5"/></g><path d="M211.80 957.14V958.89M211.80 961.88V963.29" stroke="#377eb8" stroke-width=".95" fill="none"/><rect x="206.15" y="958.89" width="11.3" height="2.99" fill="#96c3e6" stroke="#377eb8" stroke-width=".9"/><path d="M206.15 960.39h11.3" stroke="#377eb8" stroke-width="1.6"/><g fill="#dc2a2e" fill-opacity=".47"><circle cx="231.29" cy="937.81" r="1.5"/><circle cx="231.29" cy="934.30" r="1.5"/><circle cx="231.29" cy="950.11" r="1.5"/><circle cx="231.29" cy="949.56" r="1.5"/><circle cx="231.29" cy="948.78" r="1.5"/><circle cx="231.29" cy="948.31" r="1.5"/><circle cx="231.29" cy="947.41" r="1.5"/><circle cx="231.29" cy="946.43" r="1.5"/><circle cx="231.29" cy="945.59" r="1.5"/><circle cx="231.29" cy="944.53" r="1.5"/><circle cx="231.29" cy="943.87" r="1.5"/><circle cx="231.29" cy="942.95" r="1.5"/><circle cx="231.29" cy="942.09" r="1.5"/><circle cx="231.29" cy="941.24" r="1.5"/><circle cx="231.29" cy="940.48" r="1.5"/></g><path d="M231.29 950.11V956.70M231.29 961.18V965.04" stroke="#dc2a2e" stroke-width=".95" fill="none"/><rect x="225.64" y="956.70" width="11.3" height="4.48" fill="#f08c91" stroke="#dc2a2e" stroke-width=".9"/><path d="M225.64 958.89h11.3" stroke="#dc2a2e" stroke-width="1.6"/><g fill="#377eb8" fill-opacity=".47"><circle cx="242.89" cy="952.75" r="1.5"/></g><path d="M242.89 954.50V957.14M242.89 960.91V963.11" stroke="#377eb8" stroke-width=".95" fill="none"/><rect x="237.24" y="957.14" width="11.3" height="3.78" fill="#96c3e6" stroke="#377eb8" stroke-width=".9"/><path d="M237.24 959.07h11.3" stroke="#377eb8" stroke-width="1.6"/><g fill="#dc2a2e" fill-opacity=".47"><circle cx="262.38" cy="911.46" r="1.5"/><circle cx="262.38" cy="907.95" r="1.5"/><circle cx="262.38" cy="905.31" r="1.5"/><circle cx="262.38" cy="900.92" r="1.5"/><circle cx="262.38" cy="898.28" r="1.5"/><circle cx="262.38" cy="893.19" r="1.5"/><circle cx="262.38" cy="925.52" r="1.5"/><circle cx="262.38" cy="924.41" r="1.5"/><circle cx="262.38" cy="923.64" r="1.5"/><circle cx="262.38" cy="922.73" r="1.5"/><circle cx="262.38" cy="922.25" r="1.5"/><circle cx="262.38" cy="921.32" r="1.5"/><circle cx="262.38" cy="920.43" r="1.5"/><circle cx="262.38" cy="919.29" r="1.5"/><circle cx="262.38" cy="918.27" r="1.5"/><circle cx="262.38" cy="917.63" r="1.5"/><circle cx="262.38" cy="916.92" r="1.5"/><circle cx="262.38" cy="916.01" r="1.5"/><circle cx="262.38" cy="915.56" r="1.5"/><circle cx="262.38" cy="914.79" r="1.5"/><circle cx="262.38" cy="914.24" r="1.5"/></g><path d="M262.38 925.95V940.27M262.38 949.93V961.18" stroke="#dc2a2e" stroke-width=".95" fill="none"/><rect x="256.73" y="940.27" width="11.3" height="9.66" fill="#f08c91" stroke="#dc2a2e" stroke-width=".9"/><path d="M256.73 945.02h11.3" stroke="#dc2a2e" stroke-width="1.6"/><g fill="#377eb8" fill-opacity=".47"><circle cx="273.98" cy="943.52" r="1.5"/></g><path d="M273.98 945.02V947.48M273.98 950.99V951.96" stroke="#377eb8" stroke-width=".95" fill="none"/><rect x="268.33" y="947.48" width="11.3" height="3.51" fill="#96c3e6" stroke="#377eb8" stroke-width=".9"/><path d="M268.33 949.23h11.3" stroke="#377eb8" stroke-width="1.6"/><g fill="#dc2a2e" fill-opacity=".47"><circle cx="293.47" cy="957.40" r="1.5"/><circle cx="293.47" cy="961.09" r="1.5"/><circle cx="293.47" cy="960.61" r="1.5"/><circle cx="293.47" cy="959.63" r="1.5"/><circle cx="293.47" cy="959.10" r="1.5"/></g><path d="M293.47 961.09V963.11M293.47 964.87V966.36" stroke="#dc2a2e" stroke-width=".95" fill="none"/><rect x="287.82" y="963.11" width="11.3" height="1.76" fill="#f08c91" stroke="#dc2a2e" stroke-width=".9"/><path d="M287.82 964.16h11.3" stroke="#dc2a2e" stroke-width="1.6"/><g fill="#377eb8" fill-opacity=".47"></g><path d="M305.07 963.73V964.34M305.07 965.39V965.92" stroke="#377eb8" stroke-width=".95" fill="none"/><rect x="299.42" y="964.34" width="11.3" height="1.05" fill="#96c3e6" stroke="#377eb8" stroke-width=".9"/><path d="M299.42 964.87h11.3" stroke="#377eb8" stroke-width="1.6"/><g fill="#dc2a2e" fill-opacity=".47"><circle cx="324.56" cy="948.00" r="1.5"/><circle cx="324.56" cy="955.38" r="1.5"/><circle cx="324.56" cy="954.67" r="1.5"/><circle cx="324.56" cy="953.62" r="1.5"/><circle cx="324.56" cy="953.12" r="1.5"/><circle cx="324.56" cy="952.36" r="1.5"/><circle cx="324.56" cy="951.54" r="1.5"/><circle cx="324.56" cy="950.48" r="1.5"/><circle cx="324.56" cy="949.46" r="1.5"/></g><path d="M324.56 955.38V959.86M324.56 963.37V965.92" stroke="#dc2a2e" stroke-width=".95" fill="none"/><rect x="318.91" y="959.86" width="11.3" height="3.51" fill="#f08c91" stroke="#dc2a2e" stroke-width=".9"/><path d="M318.91 961.71h11.3" stroke="#dc2a2e" stroke-width="1.6"/><g fill="#377eb8" fill-opacity=".47"></g><path d="M336.16 959.86V960.91M336.16 962.41V963.37" stroke="#377eb8" stroke-width=".95" fill="none"/><rect x="330.51" y="960.91" width="11.3" height="1.49" fill="#96c3e6" stroke="#377eb8" stroke-width=".9"/><path d="M330.51 961.71h11.3" stroke="#377eb8" stroke-width="1.6"/><g fill="#dc2a2e" fill-opacity=".47"><circle cx="355.65" cy="953.18" r="1.5"/><circle cx="355.65" cy="958.02" r="1.5"/><circle cx="355.65" cy="957.38" r="1.5"/><circle cx="355.65" cy="956.65" r="1.5"/><circle cx="355.65" cy="955.96" r="1.5"/><circle cx="355.65" cy="954.90" r="1.5"/></g><path d="M355.65 958.02V960.91M355.65 963.64V965.48" stroke="#dc2a2e" stroke-width=".95" fill="none"/><rect x="350.00" y="960.91" width="11.3" height="2.72" fill="#f08c91" stroke="#dc2a2e" stroke-width=".9"/><path d="M350.00 962.41h11.3" stroke="#dc2a2e" stroke-width="1.6"/><g fill="#377eb8" fill-opacity=".47"></g><path d="M367.25 961.53V962.41M367.25 963.90V964.60" stroke="#377eb8" stroke-width=".95" fill="none"/><rect x="361.60" y="962.41" width="11.3" height="1.49" fill="#96c3e6" stroke="#377eb8" stroke-width=".9"/><path d="M361.60 963.20h11.3" stroke="#377eb8" stroke-width="1.6"/><g fill="#dc2a2e" fill-opacity=".47"><circle cx="386.74" cy="945.72" r="1.5"/><circle cx="386.74" cy="943.79" r="1.5"/><circle cx="386.74" cy="957.14" r="1.5"/><circle cx="386.74" cy="956.59" r="1.5"/><circle cx="386.74" cy="956.03" r="1.5"/><circle cx="386.74" cy="955.43" r="1.5"/><circle cx="386.74" cy="954.82" r="1.5"/><circle cx="386.74" cy="954.04" r="1.5"/><circle cx="386.74" cy="953.19" r="1.5"/><circle cx="386.74" cy="952.57" r="1.5"/><circle cx="386.74" cy="952.12" r="1.5"/><circle cx="386.74" cy="951.39" r="1.5"/><circle cx="386.74" cy="950.69" r="1.5"/><circle cx="386.74" cy="949.86" r="1.5"/><circle cx="386.74" cy="948.75" r="1.5"/><circle cx="386.74" cy="947.82" r="1.5"/></g><path d="M386.74 957.14V961.18M386.74 964.16V966.36" stroke="#dc2a2e" stroke-width=".95" fill="none"/><rect x="381.09" y="961.18" width="11.3" height="2.99" fill="#f08c91" stroke="#dc2a2e" stroke-width=".9"/><path d="M381.09 962.85h11.3" stroke="#dc2a2e" stroke-width="1.6"/><g fill="#377eb8" fill-opacity=".47"></g><path d="M398.34 961.97V962.67M398.34 964.16V965.04" stroke="#377eb8" stroke-width=".95" fill="none"/><rect x="392.69" y="962.67" width="11.3" height="1.49" fill="#96c3e6" stroke="#377eb8" stroke-width=".9"/><path d="M392.69 963.46h11.3" stroke="#377eb8" stroke-width="1.6"/><g fill="#dc2a2e" fill-opacity=".47"><circle cx="417.83" cy="946.60" r="1.5"/><circle cx="417.83" cy="943.96" r="1.5"/><circle cx="417.83" cy="940.80" r="1.5"/><circle cx="417.83" cy="956.26" r="1.5"/><circle cx="417.83" cy="955.39" r="1.5"/><circle cx="417.83" cy="954.47" r="1.5"/><circle cx="417.83" cy="953.99" r="1.5"/><circle cx="417.83" cy="952.92" r="1.5"/><circle cx="417.83" cy="951.94" r="1.5"/><circle cx="417.83" cy="950.88" r="1.5"/><circle cx="417.83" cy="949.88" r="1.5"/></g><path d="M417.83 956.26V960.39M417.83 963.64V965.92" stroke="#dc2a2e" stroke-width=".95" fill="none"/><rect x="412.18" y="960.39" width="11.3" height="3.25" fill="#f08c91" stroke="#dc2a2e" stroke-width=".9"/><path d="M412.18 962.14h11.3" stroke="#dc2a2e" stroke-width="1.6"/><g fill="#377eb8" fill-opacity=".47"></g><path d="M429.43 958.63V960.12M429.43 962.67V963.64" stroke="#377eb8" stroke-width=".95" fill="none"/><rect x="423.78" y="960.12" width="11.3" height="2.55" fill="#96c3e6" stroke="#377eb8" stroke-width=".9"/><path d="M423.78 961.35h11.3" stroke="#377eb8" stroke-width="1.6"/><g fill="#dc2a2e" fill-opacity=".47"><circle cx="448.92" cy="950.11" r="1.5"/><circle cx="448.92" cy="947.74" r="1.5"/><circle cx="448.92" cy="960.65" r="1.5"/><circle cx="448.92" cy="959.93" r="1.5"/><circle cx="448.92" cy="959.42" r="1.5"/><circle cx="448.92" cy="958.53" r="1.5"/><circle cx="448.92" cy="958.05" r="1.5"/><circle cx="448.92" cy="957.57" r="1.5"/><circle cx="448.92" cy="956.98" r="1.5"/><circle cx="448.92" cy="956.43" r="1.5"/><circle cx="448.92" cy="955.75" r="1.5"/><circle cx="448.92" cy="955.27" r="1.5"/><circle cx="448.92" cy="954.83" r="1.5"/><circle cx="448.92" cy="954.29" r="1.5"/><circle cx="448.92" cy="953.78" r="1.5"/><circle cx="448.92" cy="953.08" r="1.5"/></g><path d="M448.92 960.65V963.37M448.92 965.57V966.80" stroke="#dc2a2e" stroke-width=".95" fill="none"/><rect x="443.27" y="963.37" width="11.3" height="2.20" fill="#f08c91" stroke="#dc2a2e" stroke-width=".9"/><path d="M443.27 964.60h11.3" stroke="#dc2a2e" stroke-width="1.6"/><g fill="#377eb8" fill-opacity=".47"><circle cx="460.52" cy="961.88" r="1.5"/></g><path d="M460.52 962.85V963.64M460.52 965.39V966.10" stroke="#377eb8" stroke-width=".95" fill="none"/><rect x="454.87" y="963.64" width="11.3" height="1.76" fill="#96c3e6" stroke="#377eb8" stroke-width=".9"/><path d="M454.87 964.60h11.3" stroke="#377eb8" stroke-width="1.6"/><g fill="#dc2a2e" fill-opacity=".47"><circle cx="480.01" cy="890.38" r="1.5"/><circle cx="480.01" cy="887.74" r="1.5"/><circle cx="480.01" cy="884.67" r="1.5"/><circle cx="480.01" cy="881.60" r="1.5"/><circle cx="480.01" cy="875.45" r="1.5"/><circle cx="480.01" cy="872.37" r="1.5"/><circle cx="480.01" cy="867.54" r="1.5"/><circle cx="480.01" cy="857.00" r="1.5"/><circle cx="480.01" cy="854.36" r="1.5"/><circle cx="480.01" cy="851.73" r="1.5"/><circle cx="480.01" cy="843.30" r="1.5"/></g><path d="M480.01 891.70V914.97M480.01 931.40V945.72" stroke="#dc2a2e" stroke-width=".95" fill="none"/><rect x="474.36" y="914.97" width="11.3" height="16.43" fill="#f08c91" stroke="#dc2a2e" stroke-width=".9"/><path d="M474.36 924.20h11.3" stroke="#dc2a2e" stroke-width="1.6"/><g fill="#377eb8" fill-opacity=".47"><circle cx="491.61" cy="916.03" r="1.5"/><circle cx="491.61" cy="907.07" r="1.5"/><circle cx="491.61" cy="905.31" r="1.5"/></g><path d="M491.61 925.16V932.37M491.61 937.81V944.31" stroke="#377eb8" stroke-width=".95" fill="none"/><rect x="485.96" y="932.37" width="11.3" height="5.45" fill="#96c3e6" stroke="#377eb8" stroke-width=".9"/><path d="M485.96 935.18h11.3" stroke="#377eb8" stroke-width="1.6"/><g fill="#dc2a2e" fill-opacity=".47"><circle cx="511.10" cy="889.50" r="1.5"/><circle cx="511.10" cy="886.87" r="1.5"/><circle cx="511.10" cy="884.23" r="1.5"/><circle cx="511.10" cy="881.60" r="1.5"/><circle cx="511.10" cy="878.96" r="1.5"/><circle cx="511.10" cy="875.89" r="1.5"/><circle cx="511.10" cy="873.25" r="1.5"/><circle cx="511.10" cy="870.62" r="1.5"/><circle cx="511.10" cy="868.42" r="1.5"/><circle cx="511.10" cy="856.47" r="1.5"/><circle cx="511.10" cy="835.92" r="1.5"/></g><path d="M511.10 891.70V916.20M511.10 934.30V946.77" stroke="#dc2a2e" stroke-width=".95" fill="none"/><rect x="505.45" y="916.20" width="11.3" height="18.10" fill="#f08c91" stroke="#dc2a2e" stroke-width=".9"/><path d="M505.45 926.92h11.3" stroke="#dc2a2e" stroke-width="1.6"/><g fill="#377eb8" fill-opacity=".47"><circle cx="522.70" cy="925.52" r="1.5"/><circle cx="522.70" cy="922.88" r="1.5"/><circle cx="522.70" cy="920.68" r="1.5"/><circle cx="522.70" cy="916.03" r="1.5"/><circle cx="522.70" cy="908.56" r="1.5"/><circle cx="522.70" cy="947.48" r="1.5"/></g><path d="M522.70 929.03V934.12M522.70 939.83V945.72" stroke="#377eb8" stroke-width=".95" fill="none"/><rect x="517.05" y="934.12" width="11.3" height="5.71" fill="#96c3e6" stroke="#377eb8" stroke-width=".9"/><path d="M517.05 936.93h11.3" stroke="#377eb8" stroke-width="1.6"/><g fill="#dc2a2e" fill-opacity=".47"><circle cx="542.19" cy="892.14" r="1.5"/><circle cx="542.19" cy="889.50" r="1.5"/><circle cx="542.19" cy="886.87" r="1.5"/><circle cx="542.19" cy="884.23" r="1.5"/><circle cx="542.19" cy="880.72" r="1.5"/><circle cx="542.19" cy="877.20" r="1.5"/><circle cx="542.19" cy="871.93" r="1.5"/><circle cx="542.19" cy="865.78" r="1.5"/><circle cx="542.19" cy="861.83" r="1.5"/><circle cx="542.19" cy="858.76" r="1.5"/><circle cx="542.19" cy="843.82" r="1.5"/><circle cx="542.19" cy="838.55" r="1.5"/><circle cx="542.19" cy="791.12" r="1.5"/></g><path d="M542.19 894.16V920.24M542.19 938.34V957.40" stroke="#dc2a2e" stroke-width=".95" fill="none"/><rect x="536.54" y="920.24" width="11.3" height="18.10" fill="#f08c91" stroke="#dc2a2e" stroke-width=".9"/><path d="M536.54 930.35h11.3" stroke="#dc2a2e" stroke-width="1.6"/><g fill="#377eb8" fill-opacity=".47"><circle cx="553.79" cy="922.00" r="1.5"/><circle cx="553.79" cy="920.24" r="1.5"/><circle cx="553.79" cy="917.61" r="1.5"/><circle cx="553.79" cy="915.85" r="1.5"/><circle cx="553.79" cy="909.70" r="1.5"/></g><path d="M553.79 923.93V930.35M553.79 937.29V941.33" stroke="#377eb8" stroke-width=".95" fill="none"/><rect x="548.14" y="930.35" width="11.3" height="6.94" fill="#96c3e6" stroke="#377eb8" stroke-width=".9"/><path d="M548.14 933.86h11.3" stroke="#377eb8" stroke-width="1.6"/><g fill="#dc2a2e" fill-opacity=".47"><circle cx="573.28" cy="957.66" r="1.5"/><circle cx="573.28" cy="965.04" r="1.5"/><circle cx="573.28" cy="963.99" r="1.5"/><circle cx="573.28" cy="963.12" r="1.5"/><circle cx="573.28" cy="962.58" r="1.5"/><circle cx="573.28" cy="961.96" r="1.5"/><circle cx="573.28" cy="961.28" r="1.5"/><circle cx="573.28" cy="960.58" r="1.5"/><circle cx="573.28" cy="960.05" r="1.5"/></g><path d="M573.28 965.04V966.10M573.28 966.80V966.80" stroke="#dc2a2e" stroke-width=".95" fill="none"/><rect x="567.63" y="966.10" width="11.3" height="0.70" fill="#f08c91" stroke="#dc2a2e" stroke-width=".9"/><path d="M567.63 966.54h11.3" stroke="#dc2a2e" stroke-width="1.6"/><g fill="#377eb8" fill-opacity=".47"></g><path d="M584.88 965.92V966.36M584.88 966.80V966.80" stroke="#377eb8" stroke-width=".95" fill="none"/><rect x="579.23" y="966.36" width="11.3" height="0.60" fill="#96c3e6" stroke="#377eb8" stroke-width=".9"/><path d="M579.23 966.62h11.3" stroke="#377eb8" stroke-width="1.6"/><g fill="#dc2a2e" fill-opacity=".47"><circle cx="604.37" cy="883.70" r="1.5"/><circle cx="604.37" cy="819.23" r="1.5"/><circle cx="604.37" cy="928.15" r="1.5"/><circle cx="604.37" cy="927.01" r="1.5"/><circle cx="604.37" cy="926.25" r="1.5"/><circle cx="604.37" cy="925.47" r="1.5"/><circle cx="604.37" cy="924.97" r="1.5"/><circle cx="604.37" cy="924.46" r="1.5"/><circle cx="604.37" cy="923.78" r="1.5"/><circle cx="604.37" cy="923.15" r="1.5"/><circle cx="604.37" cy="922.13" r="1.5"/><circle cx="604.37" cy="921.58" r="1.5"/><circle cx="604.37" cy="921.12" r="1.5"/><circle cx="604.37" cy="920.01" r="1.5"/><circle cx="604.37" cy="919.20" r="1.5"/><circle cx="604.37" cy="918.66" r="1.5"/><circle cx="604.37" cy="917.84" r="1.5"/><circle cx="604.37" cy="917.38" r="1.5"/><circle cx="604.37" cy="916.57" r="1.5"/><circle cx="604.37" cy="915.45" r="1.5"/><circle cx="604.37" cy="914.40" r="1.5"/><circle cx="604.37" cy="913.47" r="1.5"/><circle cx="604.37" cy="912.85" r="1.5"/><circle cx="604.37" cy="912.15" r="1.5"/><circle cx="604.37" cy="911.60" r="1.5"/><circle cx="604.37" cy="910.61" r="1.5"/><circle cx="604.37" cy="909.80" r="1.5"/><circle cx="604.37" cy="908.81" r="1.5"/><circle cx="604.37" cy="908.14" r="1.5"/><circle cx="604.37" cy="907.55" r="1.5"/><circle cx="604.37" cy="906.54" r="1.5"/><circle cx="604.37" cy="905.41" r="1.5"/><circle cx="604.37" cy="904.37" r="1.5"/><circle cx="604.37" cy="903.36" r="1.5"/><circle cx="604.37" cy="902.35" r="1.5"/></g><path d="M604.37 929.03V942.56M604.37 952.92V960.12" stroke="#dc2a2e" stroke-width=".95" fill="none"/><rect x="598.72" y="942.56" width="11.3" height="10.37" fill="#f08c91" stroke="#dc2a2e" stroke-width=".9"/><path d="M598.72 948.35h11.3" stroke="#dc2a2e" stroke-width="1.6"/><g fill="#377eb8" fill-opacity=".47"><circle cx="615.97" cy="947.04" r="1.5"/><circle cx="615.97" cy="945.28" r="1.5"/><circle cx="615.97" cy="943.26" r="1.5"/></g><path d="M615.97 948.79V951.25M615.97 954.15V955.64" stroke="#377eb8" stroke-width=".95" fill="none"/><rect x="610.32" y="951.25" width="11.3" height="2.90" fill="#96c3e6" stroke="#377eb8" stroke-width=".9"/><path d="M610.32 952.75h11.3" stroke="#377eb8" stroke-width="1.6"/><g fill="#dc2a2e" fill-opacity=".47"><circle cx="635.46" cy="950.11" r="1.5"/><circle cx="635.46" cy="949.23" r="1.5"/><circle cx="635.46" cy="947.04" r="1.5"/><circle cx="635.46" cy="943.96" r="1.5"/><circle cx="635.46" cy="964.16" r="1.5"/></g><path d="M635.46 950.99V955.21M635.46 958.63V962.41" stroke="#dc2a2e" stroke-width=".95" fill="none"/><rect x="629.81" y="955.21" width="11.3" height="3.43" fill="#f08c91" stroke="#dc2a2e" stroke-width=".9"/><path d="M629.81 956.96h11.3" stroke="#dc2a2e" stroke-width="1.6"/><g fill="#377eb8" fill-opacity=".47"><circle cx="647.06" cy="956.96" r="1.5"/><circle cx="647.06" cy="962.67" r="1.5"/></g><path d="M647.06 957.58V958.63M647.06 960.65V961.97" stroke="#377eb8" stroke-width=".95" fill="none"/><rect x="641.41" y="958.63" width="11.3" height="2.02" fill="#96c3e6" stroke="#377eb8" stroke-width=".9"/><path d="M641.41 959.68h11.3" stroke="#377eb8" stroke-width="1.6"/><path d="M32.2 763.6V976.9H659.6M30.1 967.30h2.1M30.1 922.85h2.1M30.1 878.40h2.1M30.1 833.95h2.1M30.1 789.50h2.1M50.60 976.9v2.1M81.69 976.9v2.1M112.78 976.9v2.1M143.87 976.9v2.1M174.96 976.9v2.1M206.05 976.9v2.1M237.14 976.9v2.1M268.23 976.9v2.1M299.32 976.9v2.1M330.41 976.9v2.1M361.50 976.9v2.1M392.59 976.9v2.1M423.68 976.9v2.1M454.77 976.9v2.1M485.86 976.9v2.1M516.95 976.9v2.1M548.04 976.9v2.1M579.13 976.9v2.1M610.22 976.9v2.1M641.31 976.9v2.1" stroke="#4a4a4a" stroke-width=".8" fill="none"/><g font-size="5.7" fill="#4d4d4d" text-anchor="end"><text x="27.4" y="969.30">0</text><text x="27.4" y="924.85">50</text><text x="27.4" y="880.40">100</text><text x="27.4" y="835.95">150</text><text x="27.4" y="791.50">200</text></g><text transform="translate(14.3,870.3) rotate(-90)" text-anchor="middle" font-size="7.7" fill="#000" stroke="#000" stroke-width=".2">Gene Expression (LUAD)</text><g font-size="7.6" font-weight="bold" fill="#000" stroke="#111" stroke-width=".2" text-anchor="middle"><text x="50.60" y="775.4">***</text><text x="81.69" y="775.4">***</text><text x="112.78" y="776.3">ns</text><text x="143.87" y="775.4">***</text><text x="174.96" y="775.4">***</text><text x="206.05" y="776.3">ns</text><text x="237.14" y="776.3">ns</text><text x="268.23" y="775.4">***</text><text x="299.32" y="775.4">***</text><text x="330.41" y="776.3">ns</text><text x="361.50" y="775.4">***</text><text x="392.59" y="775.4">***</text><text x="423.68" y="775.4">**</text><text x="454.77" y="776.3">ns</text><text x="485.86" y="775.4">***</text><text x="516.95" y="775.4">***</text><text x="548.04" y="776.3">ns</text><text x="579.13" y="775.4">***</text><text x="610.22" y="775.4">***</text><text x="641.31" y="775.4">***</text></g><g font-size="7.8" fill="#000" text-anchor="middle" stroke="#111" stroke-width=".1"><text transform="translate(51.80,994.6) rotate(-45)" y="2.7">CBX4</text><text transform="translate(82.89,994.6) rotate(-45)" y="2.7">PIAS1</text><text transform="translate(113.98,994.6) rotate(-45)" y="2.7">PIAS2</text><text transform="translate(145.07,994.6) rotate(-45)" y="2.7">PIAS3</text><text transform="translate(176.16,994.6) rotate(-45)" y="2.7">PIAS4</text><text transform="translate(207.25,994.6) rotate(-45)" y="2.7">PML</text><text transform="translate(238.34,994.6) rotate(-45)" y="2.7">RANBP2</text><text transform="translate(269.43,994.6) rotate(-45)" y="2.7">SAE1</text><text transform="translate(300.52,994.6) rotate(-45)" y="2.7">SENP1</text><text transform="translate(331.61,994.6) rotate(-45)" y="2.7">SENP2</text><text transform="translate(362.70,994.6) rotate(-45)" y="2.7">SENP3</text><text transform="translate(393.79,994.6) rotate(-45)" y="2.7">SENP5</text><text transform="translate(424.88,994.6) rotate(-45)" y="2.7">SENP6</text><text transform="translate(455.97,994.6) rotate(-45)" y="2.7">SENP7</text><text transform="translate(487.06,994.6) rotate(-45)" y="2.7">SUMO1</text><text transform="translate(518.15,994.6) rotate(-45)" y="2.7">SUMO2</text><text transform="translate(549.24,994.6) rotate(-45)" y="2.7">SUMO3</text><text transform="translate(580.33,994.6) rotate(-45)" y="2.7">SUMO4</text><text transform="translate(611.42,994.6) rotate(-45)" y="2.7">UBA2</text><text transform="translate(642.51,994.6) rotate(-45)" y="2.7">UBE2I</text></g><text x="645.6" y="837.8" font-size="7.7" fill="#000" stroke="#000" stroke-width=".2">Groups</text><path d="M651.4 843.2v10.6" stroke="#dc2a2e" stroke-width=".9"/><rect x="646.9" y="845.7" width="9" height="5.6" fill="#f08c91" stroke="#dc2a2e" stroke-width=".9"/><path d="M646.9 848.5h9" stroke="#dc2a2e" stroke-width=".9"/><text x="661.7" y="850.8" font-size="7.5" fill="#000" stroke="#000" stroke-width=".2">tumor</text><path d="M651.4 855.5v10.6" stroke="#377eb8" stroke-width=".9"/><rect x="646.9" y="858.0" width="9" height="5.6" fill="#96c3e6" stroke="#377eb8" stroke-width=".9"/><path d="M646.9 860.8h9" stroke="#377eb8" stroke-width=".9"/><text x="661.7" y="863.1" font-size="7.5" fill="#000" stroke="#000" stroke-width=".2">normal</text>
<!--D--><g transform="translate(0,1057.41) scale(1,13.82)" stroke-width="1" fill="none"><path stroke="#8ef" d="M46 8h2M50 8h1"/><path stroke="#9ef" d="M115 1h1M210 1h1M138 3h1M357 4h1M45 5h2M66 5h5M86 5h1M90 5h2M167 5h1M191 6h2M242 7h1M410 7h1M39 8h1M49 8h1M51 8h1M55 8h1M60 8h3M66 8h1M71 8h3M79 8h1M90 8h3M305 8h1"/><path stroke="#adf" d="M143 5h1"/><path stroke="#aef" d="M134 0h1M205 0h1M321 0h1M174 1h1M147 2h1M270 2h1M159 3h1M221 3h1M215 4h1M39 5h3M82 5h1M87 5h1M92 5h1M106 6h1M348 6h1M325 7h1M550 7h1M42 8h1M48 8h1M54 8h1M56 8h1M59 8h1M67 8h1M70 8h1M74 8h1M78 8h1M80 8h6M89 8h1M404 8h1"/><path stroke="#aff" d="M173 1h1M477 1h1M42 5h1M44 5h1M47 5h1M61 5h4M81 5h1M83 5h3M113 5h1M40 8h1M43 8h1M52 8h2M57 8h1M63 8h3M75 8h1M77 8h1M514 9h1"/><path stroke="#bae" d="M198 5h1"/><path stroke="#bbe" d="M254 2h1"/><path stroke="#bbf" d="M163 0h1"/><path stroke="#bcf" d="M294 0h1M220 8h1"/><path stroke="#bdf" d="M199 0h1M202 2h1M126 3h1M405 3h1M100 4h1M405 8h1"/><path stroke="#bef" d="M135 0h1M266 0h1M278 0h1M209 1h1M316 1h1M236 2h1M137 3h1M240 4h1M319 4h1M112 5h1M168 5h1M207 5h2M295 5h1M303 5h1M348 5h1M107 6h2M128 6h1M221 6h1M337 6h1M358 6h1M209 7h1M257 7h1M146 8h1M320 8h1M391 8h1M479 8h1M144 9h1M195 9h1M341 9h2M515 9h1"/><path stroke="#bff" d="M279 0h1M77 1h1M81 1h3M178 1h2M199 1h1M217 1h1M234 1h1M401 1h1M462 1h1M476 1h1M478 1h1M494 1h1M41 2h9M56 2h1M71 2h4M82 2h1M92 2h2M165 2h1M214 2h1M237 2h1M484 2h1M144 3h3M178 3h2M218 3h1M237 3h1M290 3h1M393 3h1M401 3h1M404 3h1M465 3h1M576 3h1M173 4h2M216 4h1M239 4h1M356 4h1M424 4h1M429 4h3M546 4h2M43 5h1M48 5h3M52 5h3M60 5h1M65 5h1M71 5h5M77 5h4M88 5h2M93 5h1M144 5h1M197 5h1M274 5h1M102 6h1M127 6h1M155 6h1M471 6h1M481 6h1M554 6h1M177 7h2M180 7h1M241 7h1M243 7h1M290 7h1M324 7h1M344 7h1M411 7h1M41 8h1M44 8h1M58 8h1M68 8h2M76 8h1M86 8h3M93 8h1M160 8h1M306 8h1M349 8h1M423 8h1M287 9h1M320 9h1M357 9h1"/><path stroke="#c9e" d="M253 2h1"/><path stroke="#cae" d="M118 3h1"/><path stroke="#caf" d="M297 0h1M315 5h1"/><path stroke="#cbf" d="M390 0h1M148 2h1M142 5h1M226 9h1"/><path stroke="#ccf" d="M198 0h1M391 0h1M130 1h1M185 1h1M257 2h1M110 3h1M139 3h1M312 3h1M421 3h1M120 5h1M173 6h1M190 8h1M150 9h1M180 9h1"/><path stroke="#cdf" d="M186 1h1M281 1h1M183 2h1M201 2h1M269 2h1M461 2h1M180 3h1M307 3h1M313 3h1M140 4h1M185 4h1M208 4h1M219 4h1M265 4h1M320 4h1M439 4h1M461 4h1M101 5h1M169 5h1M206 5h1M260 5h1M135 6h1M208 6h1M181 7h2M188 7h1M172 8h1M183 8h1M406 8h1M414 8h1M310 9h1M356 9h1"/><path stroke="#cef" d="M106 0h1M128 0h4M133 0h1M181 0h1M187 0h1M195 0h1M214 0h1M243 0h1M265 0h1M282 0h2M298 0h1M303 0h1M327 0h1M116 1h1M208 1h1M251 1h1M400 1h1M456 1h1M520 1h1M522 1h1M580 1h1M108 2h1M113 2h1M119 2h1M156 2h1M166 2h1M182 2h1M185 2h1M203 2h1M246 2h1M310 2h1M418 2h1M437 2h1M567 2h1M117 3h1M125 3h1M131 3h1M240 3h1M534 3h1M162 4h1M207 4h1M225 4h1M260 4h1M299 4h1M422 4h1M425 4h1M432 4h1M545 4h1M563 4h1M184 5h1M205 5h1M227 5h2M234 5h1M275 5h1M279 5h1M299 5h1M313 5h1M338 5h1M411 5h1M103 6h1M105 6h1M116 6h1M119 6h1M121 6h1M193 6h1M235 6h1M250 6h1M318 6h1M338 6h1M349 6h1M359 6h1M482 6h1M485 6h1M157 7h1M176 7h1M183 7h1M206 7h1M350 7h1M409 7h1M537 7h1M549 7h1M105 8h1M289 8h1M392 8h1M196 9h1M239 9h1M254 9h1M274 9h1M286 9h1M432 9h1M454 9h1M506 9h1"/><path stroke="#cff" d="M41 0h3M46 0h2M56 0h2M65 0h7M77 0h2M83 0h1M122 0h2M126 0h2M172 0h1M204 0h1M242 0h1M306 0h1M347 0h1M376 0h2M406 0h2M420 0h1M454 0h2M503 0h1M40 1h1M49 1h6M56 1h2M62 1h3M67 1h2M71 1h4M78 1h1M80 1h1M131 1h1M198 1h1M200 1h1M216 1h1M252 1h1M280 1h1M419 1h1M442 1h1M446 1h1M461 1h1M463 1h1M519 1h1M523 1h1M539 1h1M546 1h1M584 1h2M39 2h2M50 2h3M54 2h2M57 2h7M69 2h2M75 2h7M83 2h1M86 2h2M91 2h1M127 2h1M131 2h2M146 2h1M186 2h1M204 2h1M212 2h2M305 2h1M361 2h1M369 2h1M403 2h1M452 2h1M455 2h1M463 2h2M568 2h1M158 3h1M160 3h1M219 3h2M236 3h1M238 3h2M245 3h2M250 3h2M267 3h1M287 3h1M308 3h1M314 3h1M316 3h2M336 3h1M344 3h3M379 3h1M392 3h1M394 3h1M448 3h1M500 3h1M533 3h1M575 3h1M581 3h1M199 4h2M226 4h1M232 4h1M251 4h1M318 4h1M341 4h1M352 4h1M404 4h1M423 4h1M437 4h2M462 4h1M51 5h1M55 5h3M76 5h1M240 5h1M259 5h1M290 5h1M294 5h1M312 5h1M349 5h2M47 6h1M61 6h2M76 6h2M99 6h1M120 6h1M126 6h1M151 6h1M154 6h1M166 6h1M249 6h1M264 6h1M409 6h1M430 6h2M453 6h1M470 6h1M486 6h1M537 6h1M555 6h1M569 6h2M594 6h1M137 7h2M244 7h1M246 7h2M273 7h1M289 7h1M305 7h2M317 7h1M349 7h1M412 7h3M428 7h1M439 7h1M467 7h1M504 7h1M538 7h1M45 8h1M309 8h1M422 8h1M478 8h1M532 8h1M559 8h1M591 8h1M109 9h2M175 9h2M288 9h1M295 9h1M304 9h1M319 9h1M321 9h1M393 9h1M431 9h1M475 9h1M500 9h1M546 9h2M575 9h2M589 9h2M596 9h1"/><path stroke="#d9e" d="M111 3h1M119 3h1M266 4h1"/><path stroke="#d9f" d="M258 7h1"/><path stroke="#daf" d="M256 2h1M220 4h1M371 4h1M460 4h1M199 5h1M316 5h1M332 5h1M209 6h1M226 6h1M225 9h1"/><path stroke="#dbf" d="M211 2h1M255 2h1M223 3h1M306 3h1M422 3h1M552 4h1M118 6h1M190 6h1M302 6h1M240 7h1M189 8h1M221 8h1M179 9h1"/><path stroke="#dcf" d="M213 0h1M269 0h1M124 1h1M317 1h1M184 2h1M268 2h1M283 2h1M311 2h1M193 3h1M222 3h1M305 3h1M406 3h1M475 3h1M186 4h1M300 4h1M307 4h1M331 5h1M225 6h1M254 6h1M303 6h1M374 6h1M447 6h1M127 7h1M135 7h1M230 7h1M476 7h1M491 7h1M529 7h1M147 8h1M171 8h1M415 8h1M112 9h1"/><path stroke="#ddf" d="M212 0h1M293 0h1M320 0h1M344 0h1M380 0h1M389 0h1M409 0h1M496 0h1M123 1h1M126 1h1M226 1h1M233 1h1M250 1h1M435 1h1M468 1h2M515 1h1M573 1h1M581 1h1M181 2h1M187 2h1M215 2h1M235 2h1M351 2h2M436 2h1M460 2h1M475 2h1M483 2h1M566 2h1M114 3h1M181 3h1M188 3h1M241 3h1M259 3h1M321 3h1M361 3h1M429 3h1M431 3h1M466 3h1M501 3h1M99 4h1M182 4h1M214 4h1M231 4h1M372 4h1M440 4h1M450 4h1M539 4h1M544 4h1M553 4h1M100 5h1M141 5h1M200 5h1M217 5h1M229 5h3M256 5h1M300 5h1M412 5h1M448 5h1M520 5h3M134 6h1M136 6h1M141 6h1M177 6h1M207 6h1M220 6h1M222 6h1M261 6h1M272 6h1M297 6h1M317 6h1M383 6h1M484 6h1M568 6h1M103 7h1M171 7h1M187 7h1M212 7h1M283 7h2M308 7h2M440 7h1M477 7h1M493 7h1M528 7h1M536 7h1M184 8h1M215 8h1M219 8h1M294 8h1M359 8h1M562 8h1M589 8h2M140 9h1M145 9h1M163 9h2M197 9h1M350 9h1M439 9h1M453 9h1M479 9h1M499 9h1"/><path stroke="#def" d="M53 0h1M105 0h1M107 0h1M132 0h1M149 0h2M152 0h2M171 0h1M186 0h1M196 0h1M211 0h1M215 0h1M220 0h1M240 0h1M244 0h2M256 0h1M272 0h1M280 0h1M286 0h1M317 0h2M322 0h1M335 0h1M343 0h1M346 0h1M348 0h1M362 0h1M378 0h2M386 0h1M392 0h1M408 0h1M410 0h1M412 0h1M422 0h1M424 0h1M442 0h1M456 0h1M484 0h1M490 0h1M501 0h1M541 0h1M571 0h3M593 0h1M122 1h1M135 1h2M164 1h1M177 1h1M218 1h1M235 1h1M249 1h1M299 1h1M351 1h1M390 1h2M427 1h1M436 1h1M467 1h1M474 1h2M514 1h1M521 1h1M531 1h1M545 1h1M567 1h1M586 1h1M145 2h1M157 2h1M167 2h1M205 2h1M238 2h1M245 2h1M247 2h1M258 2h1M292 2h2M306 2h1M313 2h1M324 2h1M329 2h1M338 2h1M345 2h1M370 2h1M373 2h1M397 2h1M405 2h1M412 2h1M419 2h1M442 2h1M451 2h1M505 2h1M519 2h1M526 2h1M541 2h1M113 3h1M115 3h1M132 3h1M150 3h1M170 3h1M182 3h1M216 3h1M224 3h1M244 3h1M249 3h1M270 3h1M274 3h4M294 3h1M320 3h1M322 3h1M326 3h1M335 3h1M356 3h2M380 3h1M384 3h2M388 3h1M423 3h1M428 3h1M438 3h1M456 3h1M521 3h1M535 3h1M545 3h1M559 3h1M572 3h1M105 4h3M109 4h3M139 4h1M202 4h1M206 4h1M249 4h2M291 4h1M303 4h1M322 4h1M337 4h1M353 4h1M358 4h1M368 4h1M380 4h1M400 4h2M413 4h1M538 4h1M564 4h1M105 5h1M114 5h1M126 5h1M131 5h1M145 5h1M151 5h1M163 5h2M166 5h1M218 5h1M232 5h2M257 5h1M296 5h1M304 5h1M311 5h1M328 5h3M347 5h1M358 5h1M397 5h1M417 5h1M571 5h1M109 6h1M129 6h1M144 6h1M149 6h1M178 6h1M194 6h1M211 6h1M251 6h1M258 6h1M260 6h1M298 6h1M327 6h1M336 6h1M339 6h1M350 6h1M382 6h1M393 6h1M410 6h1M438 6h1M476 6h1M480 6h1M502 6h1M515 6h1M538 6h1M584 6h1M109 7h1M113 7h2M125 7h2M159 7h3M170 7h1M184 7h1M202 7h1M207 7h2M217 7h1M235 7h1M265 7h1M291 7h1M293 7h1M296 7h1M302 7h1M313 7h1M315 7h2M355 7h2M406 7h1M415 7h1M436 7h1M438 7h1M456 7h1M474 7h2M494 7h1M510 7h1M527 7h1M539 7h1M576 7h1M104 8h1M118 8h1M130 8h1M156 8h1M159 8h1M182 8h1M208 8h1M216 8h2M258 8h1M290 8h1M293 8h1M304 8h1M308 8h1M319 8h1M350 8h1M377 8h2M388 8h1M403 8h1M407 8h1M413 8h1M435 8h1M449 8h1M469 8h1M496 8h1M536 8h2M554 8h1M578 8h1M111 9h1M139 9h1M151 9h1M165 9h1M182 9h2M193 9h2M206 9h1M216 9h1M253 9h1M255 9h1M291 9h1M313 9h2M329 9h1M392 9h1M480 9h1M548 9h1M553 9h1M588 9h1M595 9h1"/><path stroke="#dff" d="M39 0h2M44 0h2M48 0h1M52 0h1M55 0h1M58 0h5M72 0h2M76 0h1M79 0h4M84 0h10M116 0h1M124 0h2M148 0h1M164 0h1M178 0h1M182 0h1M203 0h1M206 0h1M208 0h3M225 0h1M241 0h1M267 0h1M304 0h2M334 0h1M353 0h1M387 0h1M403 0h3M411 0h1M419 0h1M421 0h1M423 0h1M445 0h1M491 0h1M502 0h1M506 0h1M521 0h3M540 0h1M550 0h2M570 0h1M594 0h1M39 1h1M41 1h1M44 1h2M48 1h1M55 1h1M58 1h1M61 1h1M65 1h2M69 1h2M75 1h2M79 1h1M87 1h7M112 1h1M114 1h1M168 1h2M172 1h1M180 1h1M182 1h1M201 1h1M211 1h1M219 1h2M224 1h2M243 1h2M265 1h1M267 1h1M278 1h2M314 1h2M388 1h1M392 1h1M396 1h1M402 1h1M413 1h2M428 1h3M441 1h1M443 1h1M447 1h1M452 1h1M484 1h1M490 1h4M495 1h1M532 1h2M540 1h1M547 1h1M550 1h2M566 1h1M579 1h1M583 1h1M590 1h1M53 2h1M64 2h3M68 2h1M84 2h2M88 2h3M107 2h1M118 2h1M126 2h1M128 2h3M160 2h1M172 2h1M200 2h1M232 2h1M271 2h1M304 2h1M309 2h1M316 2h2M330 2h1M346 2h1M360 2h1M368 2h1M384 2h2M402 2h1M404 2h1M413 2h2M453 2h1M462 2h1M465 2h1M474 2h1M485 2h1M493 2h1M509 2h1M538 2h1M542 2h1M109 3h1M134 3h3M143 3h1M151 3h1M157 3h1M169 3h1M183 3h1M197 3h2M203 3h3M217 3h1M225 3h1M268 3h2M278 3h2M286 3h1M289 3h1M298 3h4M309 3h1M315 3h1M323 3h3M331 3h2M337 3h1M343 3h1M347 3h1M372 3h1M378 3h1M389 3h1M397 3h2M409 3h1M413 3h3M432 3h1M439 3h1M447 3h1M449 3h3M459 3h3M479 3h1M491 3h2M497 3h3M512 3h1M517 3h2M524 3h1M527 3h1M532 3h1M537 3h1M542 3h3M560 3h2M573 3h2M577 3h1M582 3h2M592 3h1M596 3h1M42 4h1M108 4h1M163 4h3M172 4h1M175 4h1M181 4h1M198 4h1M201 4h1M217 4h1M227 4h2M237 4h2M244 4h2M252 4h1M292 4h5M298 4h1M314 4h1M351 4h1M359 4h3M375 4h5M402 4h2M405 4h1M414 4h2M418 4h4M456 4h1M491 4h2M535 4h3M548 4h1M573 4h1M585 4h1M58 5h2M127 5h1M185 5h1M201 5h2M219 5h1M239 5h1M241 5h1M289 5h1M291 5h1M293 5h1M368 5h1M383 5h1M388 5h1M418 5h1M453 5h1M475 5h2M549 5h2M570 5h1M580 5h2M584 5h4M39 6h2M43 6h1M46 6h1M48 6h4M60 6h1M63 6h1M65 6h4M73 6h3M78 6h1M87 6h1M92 6h2M98 6h1M100 6h2M111 6h2M150 6h1M152 6h1M167 6h1M200 6h2M231 6h2M248 6h1M259 6h1M265 6h1M306 6h2M328 6h1M357 6h1M408 6h1M452 6h1M469 6h1M475 6h1M514 6h1M523 6h2M553 6h1M588 6h2M593 6h1M595 6h1M102 7h1M110 7h1M136 7h1M152 7h3M156 7h1M191 7h3M197 7h2M205 7h1M215 7h2M255 7h2M260 7h2M271 7h2M274 7h2M295 7h1M304 7h1M307 7h1M326 7h1M354 7h1M362 7h3M372 7h2M376 7h1M420 7h2M434 7h2M463 7h1M468 7h2M495 7h1M505 7h1M511 7h2M548 7h1M577 7h2M589 7h1M117 8h1M136 8h2M173 8h1M198 8h1M203 8h2M207 8h1M245 8h1M257 8h1M282 8h2M321 8h1M330 8h2M358 8h1M380 8h1M421 8h1M452 8h1M495 8h1M518 8h1M523 8h2M526 8h1M531 8h1M533 8h1M541 8h1M558 8h1M108 9h1M124 9h2M143 9h1M174 9h1M181 9h1M192 9h1M265 9h1M294 9h1M303 9h1M311 9h2M322 9h1M330 9h1M358 9h1M369 9h2M388 9h2M399 9h1M430 9h1M459 9h2M467 9h1M474 9h1M476 9h1M513 9h1M516 9h1M519 9h2M536 9h1M564 9h1M567 9h1"/><path stroke="#e7e" d="M240 6h2"/><path stroke="#e8e" d="M364 9h1"/><path stroke="#e8f" d="M267 2h1M474 3h1"/><path stroke="#e9f" d="M162 0h1M129 1h1M256 1h1M149 2h1M228 3h1M123 8h1M196 8h1M154 9h1M309 9h1"/><path stroke="#eaf" d="M139 0h1M161 0h1M255 0h1M270 0h1M194 1h1M116 2h1M206 2h1M210 2h1M426 2h1M112 3h1M255 3h1M178 4h1M267 4h1M119 5h1M314 5h1M148 6h1M279 6h3M448 6h1M163 7h1M195 7h1M231 7h1M239 7h1M124 8h1M197 8h1M250 8h1M355 8h1M399 8h1M149 9h1"/><path stroke="#ebf" d="M143 0h1M289 0h1M295 0h1M232 1h1M255 1h1M282 1h1M410 1h1M434 1h1M193 2h1M411 2h1M127 3h1M194 3h1M256 3h1M262 3h1M463 3h2M257 4h1M286 4h1M306 4h1M309 4h1M340 4h1M451 4h1M102 5h1M118 5h1M130 5h1M178 5h1M254 5h2M345 5h1M416 5h1M447 5h1M172 6h1M210 6h1M253 6h1M396 6h1M567 6h1M581 6h1M134 7h1M141 7h1M194 7h1M196 7h1M366 7h1M509 7h1M517 7h1M148 8h1M249 8h1M360 8h1M153 9h1M155 9h1M245 9h1M301 9h1M343 9h1"/><path stroke="#ecf" d="M138 0h1M144 0h1M271 0h1M345 0h1M441 0h1M492 0h1M497 0h1M110 1h1M125 1h1M134 1h1M175 1h1M195 1h1M357 1h1M409 1h1M572 1h1M100 2h1M115 2h1M117 2h1M188 2h1M192 2h1M284 2h2M339 2h1M407 2h1M410 2h1M100 3h3M207 3h1M215 3h1M260 3h1M430 3h1M462 3h1M502 3h1M538 3h1M101 4h1M221 4h1M230 4h1M268 4h1M336 4h1M369 4h1M480 4h1M540 4h1M104 5h1M121 5h1M226 5h1M253 5h1M261 5h1M276 5h1M280 5h1M441 5h1M142 6h1M189 6h1M206 6h1M255 6h1M284 6h1M295 6h1M363 6h1M375 6h1M384 6h1M566 6h1M582 6h1M104 7h1M218 7h1M221 7h1M276 7h1M279 7h2M492 7h1M502 7h1M516 7h1M518 7h1M540 7h2M180 8h1M256 8h1M354 8h1M443 8h1M528 8h1M132 9h1M141 9h1M224 9h1M277 9h1M315 9h1M433 9h1M438 9h1M485 9h1M498 9h1M541 9h1"/><path stroke="#edf" d="M173 0h1M188 0h1M194 0h1M221 0h1M237 0h1M277 0h1M281 0h1M284 0h1M290 0h1M312 0h1M326 0h1M328 0h1M338 0h2M342 0h1M355 0h1M369 0h1M381 0h1M393 0h1M413 0h1M466 0h1M473 0h1M479 0h3M483 0h1M517 0h1M542 0h1M585 0h1M595 0h2M103 1h2M108 1h2M111 1h1M127 1h1M137 1h1M155 1h1M176 1h1M236 1h1M268 1h1M311 1h1M326 1h2M350 1h1M358 1h1M399 1h1M437 1h1M507 1h1M530 1h1M577 1h1M98 2h2M109 2h1M120 2h1M133 2h1M152 2h1M168 2h1M178 2h1M189 2h1M266 2h1M298 2h1M325 2h1M353 2h1M365 2h2M427 2h1M456 2h1M482 2h1M504 2h1M527 2h1M552 2h1M562 2h1M148 3h2M153 3h1M189 3h1M206 3h1M208 3h1M247 3h2M254 3h1M360 3h1M362 3h1M376 3h1M408 3h1M419 3h1M476 3h1M489 3h2M494 3h1M551 3h1M74 4h1M118 4h2M141 4h1M161 4h1M169 4h3M176 4h1M179 4h1M183 4h2M259 4h1M280 4h1M308 4h1M312 4h2M321 4h1M335 4h1M386 4h1M426 4h1M481 4h1M512 4h1M515 4h1M520 4h1M526 4h1M531 4h1M106 5h1M123 5h3M146 5h1M150 5h1M158 5h1M165 5h1M176 5h2M235 5h1M277 5h1M302 5h1M305 5h3M310 5h1M357 5h1M413 5h1M423 5h2M439 5h1M548 5h1M104 6h1M117 6h1M122 6h1M140 6h1M143 6h1M162 6h1M186 6h1M213 6h1M219 6h1M243 6h1M257 6h1M271 6h1M273 6h1M275 6h1M278 6h1M285 6h1M326 6h1M392 6h1M397 6h1M446 6h1M477 6h1M483 6h1M509 6h2M521 6h1M546 6h1M565 6h1M121 7h1M150 7h1M162 7h1M189 7h1M201 7h1M211 7h1M219 7h1M222 7h1M225 7h1M259 7h1M281 7h1M285 7h1M297 7h1M312 7h1M330 7h1M346 7h1M367 7h1M389 7h1M398 7h2M441 7h3M457 7h1M478 7h1M480 7h2M501 7h1M503 7h1M526 7h1M530 7h1M551 7h1M594 7h1M139 8h1M149 8h1M155 8h1M165 8h1M176 8h1M181 8h1M187 8h2M241 8h2M251 8h1M285 8h1M288 8h1M295 8h1M313 8h2M335 8h1M341 8h1M361 8h2M390 8h1M398 8h1M411 8h1M444 8h1M474 8h1M540 8h1M560 8h2M594 8h2M134 9h1M146 9h2M168 9h2M173 9h1M222 9h2M238 9h1M273 9h1M285 9h1M302 9h1M340 9h1M351 9h1M355 9h1M365 9h1M373 9h2M407 9h1M436 9h2M505 9h1M511 9h1M528 9h1M568 9h1M579 9h1"/><path stroke="#eef" d="M54 0h1M74 0h1M99 0h1M104 0h1M108 0h1M115 0h1M151 0h1M154 0h1M158 0h1M170 0h1M177 0h1M179 0h2M183 0h3M197 0h1M200 0h1M219 0h1M224 0h1M226 0h1M232 0h1M238 0h2M246 0h1M258 0h2M273 0h1M285 0h1M287 0h1M292 0h1M302 0h1M310 0h1M313 0h1M316 0h1M319 0h1M323 0h2M340 0h1M349 0h1M354 0h1M360 0h2M368 0h1M382 0h4M397 0h1M432 0h2M436 0h2M443 0h1M457 0h1M465 0h1M474 0h1M478 0h1M485 0h1M495 0h1M498 0h1M500 0h1M527 0h1M529 0h1M532 0h1M537 0h1M545 0h2M561 0h1M569 0h1M582 0h1M586 0h2M589 0h1M99 1h1M105 1h3M117 1h1M120 1h2M132 1h1M156 1h1M162 1h1M165 1h1M170 1h1M184 1h1M190 1h1M196 1h2M202 1h1M204 1h1M207 1h1M221 1h1M240 1h3M264 1h1M287 1h1M298 1h1M308 1h1M312 1h2M328 1h1M343 1h1M345 1h1M348 1h2M352 1h2M364 1h2M376 1h1M379 1h1M389 1h1M395 1h1M398 1h1M405 1h1M407 1h2M418 1h1M426 1h1M445 1h1M453 1h3M457 1h1M460 1h1M473 1h1M501 1h1M504 1h1M508 1h3M516 1h3M524 1h1M527 1h1M534 1h1M543 1h1M548 1h2M559 1h1M574 1h1M578 1h1M582 1h1M588 1h1M112 2h1M114 2h1M153 2h3M158 2h1M175 2h1M179 2h2M190 2h1M209 2h1M220 2h3M226 2h1M231 2h1M244 2h1M261 2h1M282 2h1M294 2h1M297 2h1M301 2h1M307 2h2M312 2h1M321 2h3M344 2h1M347 2h1M363 2h2M408 2h1M428 2h4M438 2h4M443 2h1M448 2h3M466 2h2M473 2h1M492 2h1M494 2h1M506 2h1M510 2h1M520 2h3M524 2h2M534 2h1M537 2h1M540 2h1M543 2h3M561 2h1M563 2h1M578 2h2M588 2h1M592 2h2M106 3h1M120 3h1M130 3h1M133 3h1M142 3h1M147 3h1M152 3h1M156 3h1M171 3h1M177 3h1M184 3h1M192 3h1M195 3h1M199 3h1M226 3h1M229 3h1M243 3h1M257 3h2M263 3h1M271 3h1M283 3h3M291 3h1M311 3h1M318 3h1M327 3h2M333 3h2M348 3h1M352 3h1M358 3h1M371 3h1M373 3h1M383 3h1M386 3h1M400 3h1M418 3h1M420 3h1M424 3h4M433 3h5M455 3h1M468 3h1M493 3h1M496 3h1M505 3h1M519 3h2M525 3h1M529 3h1M531 3h1M536 3h1M546 3h1M549 3h1M552 3h1M555 3h1M558 3h1M570 3h2M580 3h1M584 3h2M587 3h1M589 3h1M591 3h1M594 3h2M69 4h2M73 4h1M75 4h2M104 4h1M115 4h3M128 4h2M133 4h1M138 4h1M154 4h1M189 4h1M194 4h4M213 4h1M224 4h1M233 4h1M235 4h1M241 4h1M247 4h2M256 4h1M264 4h1M278 4h2M281 4h1M287 4h2M290 4h1M302 4h1M310 4h2M315 4h1M328 4h1M334 4h1M338 4h1M342 4h1M347 4h2M354 4h2M362 4h1M365 4h1M387 4h1M396 4h2M399 4h1M412 4h1M417 4h1M428 4h1M433 4h1M441 4h2M454 4h2M457 4h1M478 4h2M482 4h1M498 4h1M502 4h1M513 4h1M525 4h1M530 4h1M533 4h1M543 4h1M554 4h1M562 4h1M570 4h2M584 4h1M590 4h1M594 4h1M98 5h1M108 5h3M115 5h1M117 5h1M128 5h1M132 5h1M140 5h1M152 5h2M156 5h1M172 5h1M183 5h1M191 5h1M196 5h1M204 5h1M209 5h2M242 5h3M250 5h3M273 5h1M278 5h1M298 5h1M319 5h4M324 5h2M337 5h1M339 5h1M342 5h1M346 5h1M351 5h2M359 5h3M366 5h1M370 5h1M380 5h1M384 5h1M389 5h1M396 5h1M407 5h4M422 5h1M425 5h2M440 5h1M449 5h1M452 5h1M457 5h1M461 5h1M474 5h1M498 5h1M515 5h1M523 5h1M557 5h1M564 5h2M572 5h1M577 5h3M594 5h1M80 6h2M91 6h1M110 6h1M125 6h1M145 6h1M156 6h1M163 6h1M165 6h1M170 6h2M174 6h1M179 6h1M187 6h2M195 6h1M214 6h1M224 6h1M230 6h1M236 6h1M244 6h1M263 6h1M268 6h1M274 6h1M294 6h1M299 6h1M304 6h2M319 6h1M347 6h1M364 6h2M369 6h3M373 6h1M378 6h1M380 6h2M394 6h1M425 6h1M434 6h1M437 6h1M439 6h1M441 6h2M459 6h2M463 6h2M472 6h1M479 6h1M501 6h1M503 6h1M525 6h1M527 6h2M531 6h3M536 6h1M541 6h2M547 6h4M559 6h2M562 6h2M574 6h1M577 6h1M583 6h1M596 6h1M51 7h1M67 7h1M87 7h1M99 7h1M107 7h2M111 7h2M115 7h1M122 7h1M124 7h1M140 7h1M148 7h2M151 7h1M164 7h1M185 7h1M190 7h1M199 7h2M213 7h1M223 7h2M228 7h1M234 7h1M236 7h1M238 7h1M248 7h1M264 7h1M266 7h1M269 7h2M288 7h1M292 7h1M303 7h1M310 7h1M314 7h1M320 7h1M331 7h2M345 7h1M347 7h1M351 7h1M361 7h1M365 7h1M400 7h1M402 7h1M407 7h2M416 7h1M433 7h1M437 7h1M447 7h2M460 7h2M464 7h3M482 7h1M489 7h1M507 7h1M513 7h1M521 7h2M531 7h4M542 7h1M555 7h2M558 7h1M569 7h1M573 7h1M585 7h2M588 7h1M590 7h1M595 7h1M103 8h1M106 8h1M119 8h1M129 8h1M131 8h1M134 8h1M138 8h1M142 8h1M144 8h2M164 8h1M167 8h1M174 8h1M191 8h1M200 8h3M218 8h1M231 8h2M247 8h2M270 8h2M273 8h1M284 8h1M286 8h2M291 8h1M299 8h3M312 8h1M316 8h2M322 8h1M334 8h1M336 8h1M338 8h1M342 8h2M356 8h1M363 8h1M379 8h1M384 8h1M387 8h1M395 8h1M408 8h1M410 8h1M424 8h1M430 8h1M434 8h1M448 8h1M450 8h1M457 8h1M467 8h1M470 8h2M473 8h1M480 8h2M490 8h3M497 8h1M502 8h1M507 8h1M510 8h1M516 8h1M527 8h1M534 8h2M538 8h1M553 8h1M573 8h1M582 8h3M592 8h2M52 9h3M71 9h2M74 9h3M86 9h1M107 9h1M113 9h2M119 9h1M138 9h1M152 9h1M166 9h2M186 9h2M198 9h3M210 9h1M217 9h1M221 9h1M227 9h1M235 9h1M246 9h2M250 9h3M266 9h3M276 9h1M292 9h1M298 9h1M300 9h1M305 9h1M323 9h1M349 9h1M377 9h2M382 9h1M384 9h2M390 9h2M398 9h1M408 9h1M416 9h2M440 9h1M451 9h1M455 9h1M466 9h1M481 9h1M486 9h1M489 9h4M507 9h1M512 9h1M522 9h1M527 9h1M532 9h4M537 9h1M539 9h2M554 9h1M556 9h1M573 9h1M577 9h1M587 9h1M594 9h1"/><path stroke="#eff" d="M49 0h3M63 0h2M75 0h1M102 0h2M109 0h1M117 0h1M121 0h1M159 0h2M191 0h1M202 0h1M207 0h1M235 0h1M257 0h1M268 0h1M291 0h1M299 0h1M307 0h3M314 0h2M333 0h1M352 0h1M363 0h2M371 0h5M388 0h1M398 0h1M401 0h2M429 0h3M435 0h1M446 0h2M461 0h2M475 0h3M504 0h2M516 0h1M524 0h1M528 0h1M531 0h1M538 0h2M544 0h1M547 0h1M562 0h3M574 0h1M581 0h1M42 1h2M46 1h2M59 1h2M84 1h1M86 1h1M102 1h1M113 1h1M118 1h2M157 1h1M159 1h3M163 1h1M171 1h1M183 1h1M203 1h1M212 1h1M223 1h1M245 1h4M253 1h2M266 1h1M277 1h1M291 1h2M300 1h4M321 1h2M329 1h1M342 1h1M371 1h3M377 1h2M387 1h1M393 1h1M397 1h1M404 1h1M412 1h1M415 1h1M420 1h5M431 1h1M440 1h1M448 1h1M450 1h2M464 1h3M485 1h1M489 1h1M496 1h1M499 1h2M511 1h3M526 1h1M538 1h1M544 1h1M552 1h1M560 1h2M589 1h1M591 1h1M67 2h1M105 2h2M125 2h1M140 2h3M159 2h1M161 2h1M164 2h1M171 2h1M173 2h2M191 2h1M199 2h1M227 2h2M233 2h1M248 2h1M262 2h1M302 2h2M314 2h2M318 2h1M331 2h3M337 2h1M362 2h1M372 2h1M377 2h1M386 2h1M391 2h1M398 2h2M409 2h1M415 2h3M420 2h2M432 2h3M446 2h2M454 2h1M486 2h1M489 2h1M507 2h2M530 2h1M555 2h2M559 2h2M569 2h3M107 3h2M121 3h2M141 3h1M161 3h1M163 3h2M168 3h1M187 3h1M196 3h1M230 3h1M234 3h2M252 3h1M264 3h3M273 3h1M288 3h1M295 3h1M310 3h1M319 3h1M329 3h2M338 3h3M354 3h2M367 3h2M377 3h1M390 3h2M395 3h2M402 3h2M410 3h1M412 3h1M416 3h2M440 3h1M444 3h3M452 3h3M457 3h2M469 3h3M478 3h1M480 3h3M484 3h3M506 3h1M511 3h1M513 3h2M522 3h2M526 3h1M528 3h1M541 3h1M553 3h2M562 3h1M564 3h6M578 3h1M586 3h1M588 3h1M43 4h2M71 4h2M85 4h2M89 4h1M166 4h1M180 4h1M188 4h1M211 4h2M218 4h1M236 4h1M246 4h1M255 4h1M261 4h1M297 4h1M317 4h1M323 4h2M327 4h1M346 4h1M366 4h2M373 4h2M388 4h1M390 4h3M398 4h1M410 4h2M416 4h1M436 4h1M444 4h2M449 4h1M463 4h1M473 4h1M483 4h3M489 4h2M499 4h3M514 4h1M523 4h2M529 4h1M534 4h1M542 4h1M572 4h1M574 4h3M579 4h2M586 4h2M591 4h3M111 5h1M157 5h1M171 5h1M193 5h2M203 5h1M211 5h2M292 5h1M323 5h1M367 5h1M369 5h1M376 5h2M382 5h1M454 5h3M460 5h1M477 5h1M493 5h2M499 5h2M503 5h3M508 5h1M513 5h2M519 5h1M551 5h2M569 5h1M588 5h4M593 5h1M41 6h2M44 6h2M52 6h8M64 6h1M69 6h4M79 6h1M82 6h5M88 6h2M114 6h2M153 6h1M199 6h1M233 6h2M237 6h1M247 6h1M266 6h2M286 6h1M288 6h3M345 6h1M356 6h1M379 6h1M398 6h1M407 6h1M415 6h1M424 6h1M429 6h1M432 6h2M450 6h2M454 6h2M465 6h4M474 6h1M498 6h3M511 6h3M519 6h2M526 6h1M530 6h1M540 6h1M552 6h1M561 6h1M575 6h2M578 6h2M587 6h1M590 6h2M50 7h1M85 7h2M91 7h1M123 7h1M139 7h1M155 7h1M165 7h1M169 7h1M179 7h1M186 7h1M203 7h2M229 7h1M245 7h1M254 7h1M262 7h1M267 7h2M278 7h1M294 7h1M301 7h1M318 7h2M323 7h1M334 7h4M343 7h1M348 7h1M353 7h1M368 7h2M371 7h1M375 7h1M377 7h2M381 7h2M403 7h1M417 7h2M422 7h3M427 7h1M429 7h3M470 7h4M484 7h1M490 7h1M496 7h2M506 7h1M514 7h2M519 7h2M543 7h5M557 7h1M567 7h1M574 7h2M596 7h1M108 8h1M116 8h1M135 8h1M143 8h1M157 8h1M161 8h1M163 8h1M166 8h1M177 8h2M199 8h1M214 8h1M230 8h1M243 8h2M268 8h2M272 8h1M307 8h1M310 8h1M337 8h1M357 8h1M364 8h1M367 8h1M374 8h3M381 8h3M385 8h2M396 8h2M401 8h2M409 8h1M436 8h5M451 8h1M453 8h1M460 8h2M465 8h2M472 8h1M477 8h1M482 8h2M494 8h1M503 8h2M508 8h2M511 8h2M517 8h1M519 8h1M522 8h1M525 8h1M542 8h2M550 8h1M555 8h3M567 8h6M579 8h1M55 9h1M60 9h1M70 9h1M90 9h1M103 9h4M120 9h1M135 9h3M156 9h4M170 9h1M177 9h1M184 9h2M188 9h2M191 9h1M201 9h1M207 9h3M215 9h1M220 9h1M230 9h2M234 9h1M240 9h3M264 9h1M275 9h1M289 9h2M296 9h1M299 9h1M331 9h1M346 9h1M359 9h2M366 9h3M371 9h1M379 9h1M381 9h1M394 9h2M400 9h1M415 9h1M419 9h1M426 9h4M450 9h1M458 9h1M461 9h1M468 9h1M473 9h1M493 9h4M501 9h1M517 9h2M521 9h1M544 9h2M552 9h1M557 9h2M563 9h1M565 9h2M574 9h1M584 9h2"/><path stroke="#f8f" d="M148 1h1M121 2h1M473 3h1M122 8h1M363 9h1"/><path stroke="#f9f" d="M275 0h1M470 0h2M128 1h1M147 1h1M383 1h1M122 2h1M150 2h1M320 2h1M45 3h2M50 3h1M56 3h1M69 3h1M75 3h1M78 3h3M82 3h1M88 3h3M227 3h1M177 4h1M370 4h1M344 5h1M527 5h1M176 6h1M392 7h1M101 8h1M169 8h1"/><path stroke="#faf" d="M175 0h1M230 0h1M260 0h1M274 0h1M449 0h1M140 1h1M149 1h1M231 1h1M382 1h1M433 1h1M101 2h1M207 2h1M216 2h1M513 2h1M39 3h1M42 3h3M47 3h3M51 3h1M54 3h2M57 3h7M70 3h4M76 3h2M81 3h1M83 3h5M91 3h1M339 4h1M129 5h1M179 5h1M237 5h1M317 5h1M436 5h2M446 5h1M596 5h1M147 6h1M239 6h1M282 6h1M416 6h2M232 7h1M391 7h1M508 7h1M525 7h1M227 8h1M277 8h1M148 9h1M279 9h1M336 9h1M464 9h1"/><path stroke="#fbf" d="M140 0h1M146 0h1M176 0h1M217 0h1M229 0h1M254 0h1M296 0h1M440 0h1M493 0h1M133 1h1M141 1h1M309 1h2M384 1h1M554 1h1M151 2h1M252 2h1M425 2h1M40 3h2M52 3h2M64 3h1M68 3h1M74 3h1M92 3h2M128 3h1M214 3h1M407 3h1M442 3h1M539 3h2M122 4h1M258 4h1M301 4h1M330 4h1M459 4h1M511 4h1M516 4h1M103 5h1M122 5h1M180 5h1M216 5h1M225 5h1M262 5h1M281 5h1M333 5h1M343 5h1M364 5h1M434 5h2M438 5h1M526 5h1M528 5h1M137 6h2M276 6h1M296 6h1M322 6h2M395 6h1M418 6h1M158 7h1M286 7h2M298 7h1M329 7h1M340 7h1M524 7h1M572 7h1M98 8h1M111 8h1M141 8h1M170 8h1M224 8h3M228 8h1M255 8h1M276 8h1M278 8h1M297 8h1M529 8h2M204 9h2M236 9h1M278 9h1M316 9h1M344 9h1"/><path stroke="#fcf" d="M98 0h1M141 0h2M145 0h1M167 0h1M174 0h1M216 0h1M250 0h2M253 0h1M261 0h1M264 0h1M276 0h1M288 0h1M311 0h1M336 0h1M356 0h1M448 0h1M468 0h1M472 0h1M482 0h1M488 0h2M558 0h1M578 0h2M139 1h1M146 1h1M153 1h2M227 1h1M230 1h1M257 1h1M283 1h1M289 1h1M332 1h1M360 1h3M366 1h1M381 1h1M529 1h1M553 1h1M571 1h1M595 1h1M102 2h1M134 2h1M177 2h1M208 2h1M217 2h1M259 2h1M319 2h1M356 2h1M374 2h1M406 2h1M457 2h1M476 2h1M512 2h1M514 2h1M528 2h1M549 2h1M553 2h1M65 3h3M129 3h1M154 3h1M210 3h1M261 3h1M443 3h1M503 3h2M102 4h2M121 4h1M123 4h1M135 4h1M157 4h2M190 4h1M229 4h1M269 4h1M305 4h1M329 4h1M331 4h3M394 4h1M452 4h1M476 4h2M487 4h1M497 4h1M517 4h3M551 4h1M583 4h1M137 5h2M147 5h2M161 5h2M170 5h1M175 5h1M236 5h1M247 5h2M353 5h2M363 5h1M365 5h1M372 5h2M415 5h1M445 5h1M468 5h2M545 5h3M562 5h2M595 5h1M139 6h1M158 6h1M175 6h1M238 6h1M242 6h1M252 6h1M262 6h1M277 6h1M283 6h1M301 6h1M321 6h1M324 6h1M362 6h1M385 6h1M388 6h1M391 6h1M419 6h1M445 6h1M489 6h1M556 6h1M580 6h1M128 7h1M142 7h1M226 7h1M277 7h1M299 7h1M339 7h1M341 7h1M388 7h1M393 7h1M523 7h1M100 8h1M110 8h1M121 8h1M126 8h1M140 8h1M168 8h1M175 8h1M195 8h1M222 8h1M235 8h1M279 8h1M296 8h1M298 8h1M302 8h1M326 8h1M369 8h1M400 8h1M427 8h2M486 8h1M499 8h2M539 8h1M546 8h1M118 9h1M131 9h1M133 9h1M211 9h1M237 9h1M256 9h2M283 9h2M308 9h1M327 9h2M337 9h1M402 9h2M434 9h1M463 9h1"/><path stroke="#fdf" d="M113 0h2M136 0h1M147 0h1M166 0h1M168 0h2M189 0h1M192 0h2M218 0h1M222 0h1M231 0h1M236 0h1M249 0h1M252 0h1M263 0h1M329 0h3M337 0h1M341 0h1M357 0h2M366 0h2M394 0h3M414 0h1M438 0h2M453 0h1M458 0h3M467 0h1M469 0h1M487 0h1M494 0h1M511 0h2M518 0h1M526 0h1M535 0h2M548 0h2M557 0h1M559 0h1M568 0h1M577 0h1M580 0h1M583 0h2M590 0h3M138 1h1M142 1h4M150 1h3M193 1h1M205 1h2M228 1h2M237 1h3M262 1h2M269 1h1M285 1h2M288 1h1M290 1h1M296 1h2M306 1h1M318 1h1M331 1h1M333 1h1M335 1h5M359 1h1M363 1h1M367 1h1M369 1h2M375 1h1M411 1h1M432 1h1M459 1h1M482 1h2M528 1h1M535 1h2M555 1h1M564 1h1M576 1h1M587 1h1M596 1h1M110 2h1M123 2h1M135 2h1M144 2h1M169 2h1M176 2h1M196 2h1M219 2h1M229 2h1M234 2h1M239 2h1M251 2h1M260 2h1M274 2h2M279 2h3M290 2h1M299 2h2M340 2h4M348 2h1M354 2h1M357 2h1M375 2h1M380 2h1M395 2h2M422 2h3M444 2h1M458 2h2M470 2h3M488 2h1M495 2h2M502 2h2M516 2h2M533 2h1M548 2h1M576 2h1M589 2h3M594 2h3M98 3h2M104 3h2M140 3h1M155 3h1M165 3h2M172 3h1M175 3h2M209 3h1M211 3h1M232 3h1M293 3h1M359 3h1M441 3h1M467 3h1M495 3h1M530 3h1M547 3h2M39 4h2M59 4h1M98 4h1M114 4h1M120 4h1M132 4h1M134 4h1M136 4h1M155 4h1M159 4h2M187 4h1M191 4h1M203 4h3M223 4h1M234 4h1M270 4h1M282 4h1M285 4h1M304 4h1M363 4h1M393 4h1M395 4h1M408 4h1M434 4h1M458 4h1M467 4h5M475 4h1M488 4h1M503 4h4M527 4h2M532 4h1M550 4h1M566 4h1M569 4h1M582 4h1M589 4h1M595 4h1M107 5h1M133 5h2M136 5h1M139 5h1M149 5h1M154 5h2M159 5h2M173 5h2M215 5h1M224 5h1M238 5h1M246 5h1M249 5h1M263 5h1M282 5h3M301 5h1M308 5h2M318 5h1M334 5h1M340 5h2M355 5h1M362 5h1M371 5h1M378 5h2M393 5h2M398 5h1M442 5h1M450 5h2M462 5h2M467 5h1M479 5h3M483 5h6M496 5h2M511 5h1M532 5h6M123 6h1M146 6h1M159 6h1M196 6h2M202 6h2M212 6h1M216 6h3M227 6h1M229 6h1M256 6h1M270 6h1M291 6h2M310 6h3M316 6h1M320 6h1M325 6h1M332 6h2M353 6h1M361 6h1M376 6h1M387 6h1M389 6h2M411 6h1M435 6h2M440 6h1M444 6h1M478 6h1M490 6h1M522 6h1M544 6h2M557 6h2M572 6h2M57 7h2M62 7h3M70 7h1M98 7h1M105 7h2M119 7h2M129 7h1M133 7h1M144 7h1M146 7h1M175 7h1M210 7h1M220 7h1M227 7h1M249 7h2M282 7h1M311 7h1M328 7h1M390 7h1M396 7h2M401 7h1M425 7h1M432 7h1M444 7h1M479 7h1M552 7h1M563 7h2M571 7h1M587 7h1M593 7h1M99 8h1M102 8h1M109 8h1M112 8h1M120 8h1M125 8h1M152 8h3M179 8h1M185 8h2M194 8h1M209 8h1M223 8h1M229 8h1M236 8h3M240 8h1M252 8h1M260 8h2M274 8h1M280 8h1M292 8h1M303 8h1M315 8h1M325 8h1M327 8h1M344 8h2M347 8h1M351 8h2M370 8h1M372 8h1M389 8h1M393 8h1M412 8h1M416 8h1M429 8h1M463 8h1M468 8h1M485 8h1M487 8h1M498 8h1M501 8h1M506 8h1M514 8h1M544 8h2M547 8h1M552 8h1M574 8h4M585 8h1M588 8h1M83 9h1M99 9h1M117 9h1M128 9h1M130 9h1M142 9h1M160 9h3M171 9h2M178 9h1M244 9h1M248 9h1M258 9h1M262 9h1M272 9h1M280 9h1M282 9h1M306 9h2M317 9h1M335 9h1M338 9h2M362 9h1M383 9h1M387 9h1M422 9h2M435 9h1M441 9h1M452 9h1M465 9h1M470 9h1M497 9h1M504 9h1M508 9h1M531 9h1M542 9h1M555 9h1M560 9h1M578 9h1M586 9h1"/><path stroke="#fef" d="M100 0h1M110 0h3M137 0h1M155 0h3M190 0h1M223 0h1M227 0h2M233 0h2M247 0h2M262 0h1M300 0h2M325 0h1M332 0h1M350 0h1M359 0h1M365 0h1M400 0h1M415 0h3M425 0h4M434 0h1M444 0h1M450 0h3M463 0h1M486 0h1M507 0h3M513 0h2M519 0h1M525 0h1M530 0h1M533 0h2M543 0h1M552 0h2M556 0h1M560 0h1M565 0h3M575 0h2M588 0h1M98 1h1M100 1h2M166 1h1M187 1h3M191 1h2M258 1h4M270 1h1M272 1h5M284 1h1M295 1h1M305 1h1M307 1h1M323 1h3M334 1h1M340 1h2M344 1h1M346 1h2M354 1h3M374 1h1M380 1h1M385 1h1M394 1h1M406 1h1M417 1h1M425 1h1M438 1h2M449 1h1M458 1h1M470 1h1M472 1h1M481 1h1M487 1h1M502 1h2M506 1h1M525 1h1M541 1h2M556 1h3M563 1h1M565 1h1M568 1h3M575 1h1M592 1h3M103 2h2M111 2h1M136 2h4M143 2h1M170 2h1M194 2h2M197 2h1M218 2h1M223 2h3M230 2h1M240 2h1M242 2h2M263 2h3M272 2h2M276 2h3M286 2h2M289 2h1M291 2h1M295 2h2M326 2h3M349 2h2M355 2h1M358 2h1M367 2h1M371 2h1M376 2h1M381 2h3M387 2h4M393 2h2M400 2h2M435 2h1M469 2h1M477 2h4M487 2h1M490 2h2M497 2h3M501 2h1M511 2h1M515 2h1M518 2h1M523 2h1M529 2h1M532 2h1M535 2h2M539 2h1M546 2h2M550 2h1M554 2h1M557 2h1M564 2h2M572 2h4M577 2h1M580 2h8M103 3h1M116 3h1M123 3h2M162 3h1M167 3h1M173 3h2M185 3h2M190 3h2M200 3h1M212 3h2M231 3h1M233 3h1M242 3h1M280 3h3M292 3h1M296 3h2M302 3h3M341 3h2M349 3h3M363 3h3M369 3h2M374 3h2M381 3h2M387 3h1M399 3h1M472 3h1M477 3h1M487 3h2M515 3h2M550 3h1M556 3h2M563 3h1M579 3h1M590 3h1M593 3h1M41 4h1M46 4h4M52 4h7M60 4h1M63 4h2M68 4h1M77 4h3M81 4h4M90 4h4M112 4h2M130 4h2M137 4h1M142 4h4M150 4h1M153 4h1M156 4h1M167 4h2M193 4h1M209 4h1M222 4h1M242 4h1M253 4h2M262 4h2M271 4h7M283 4h2M289 4h1M316 4h1M325 4h2M343 4h3M364 4h1M381 4h5M409 4h1M427 4h1M435 4h1M443 4h1M446 4h3M453 4h1M464 4h3M486 4h1M493 4h4M510 4h1M521 4h1M541 4h1M549 4h1M555 4h5M561 4h1M565 4h1M567 4h2M588 4h1M596 4h1M99 5h1M116 5h1M135 5h1M181 5h2M189 5h2M195 5h1M221 5h2M245 5h1M258 5h1M264 5h1M269 5h2M285 5h3M297 5h1M326 5h2M335 5h2M356 5h1M374 5h2M385 5h2M390 5h1M392 5h1M395 5h1M399 5h1M402 5h5M414 5h1M427 5h3M432 5h2M458 5h1M464 5h1M470 5h4M478 5h1M482 5h1M489 5h2M495 5h1M501 5h2M509 5h2M512 5h1M516 5h3M524 5h2M529 5h3M538 5h7M555 5h2M558 5h4M573 5h1M582 5h2M90 6h1M124 6h1M131 6h3M157 6h1M160 6h2M164 6h1M168 6h2M180 6h6M198 6h1M204 6h2M215 6h1M223 6h1M228 6h1M269 6h1M293 6h1M300 6h1M308 6h2M313 6h3M329 6h3M334 6h1M340 6h5M346 6h1M351 6h2M354 6h2M360 6h1M366 6h3M372 6h1M377 6h1M386 6h1M402 6h3M412 6h1M420 6h4M426 6h1M443 6h1M449 6h1M456 6h3M462 6h1M473 6h1M487 6h2M491 6h2M494 6h2M505 6h2M516 6h2M529 6h1M534 6h1M539 6h1M543 6h1M564 6h1M571 6h1M585 6h1M39 7h7M48 7h2M52 7h2M56 7h1M59 7h3M65 7h2M68 7h2M71 7h8M80 7h2M88 7h2M93 7h1M100 7h2M118 7h1M131 7h2M143 7h1M145 7h1M147 7h1M166 7h3M172 7h3M214 7h1M233 7h1M237 7h1M251 7h2M263 7h1M300 7h1M327 7h1M333 7h1M342 7h1M352 7h1M357 7h4M370 7h1M379 7h1M386 7h2M394 7h2M404 7h2M426 7h1M449 7h7M458 7h2M462 7h1M483 7h1M487 7h2M498 7h2M535 7h1M553 7h2M559 7h2M562 7h1M565 7h2M568 7h1M570 7h1M579 7h3M584 7h1M591 7h2M107 8h1M132 8h2M151 8h1M158 8h1M192 8h2M206 8h1M210 8h1M233 8h1M239 8h1M246 8h1M253 8h2M259 8h1M262 8h1M264 8h4M275 8h1M281 8h1M311 8h1M318 8h1M323 8h2M328 8h2M339 8h2M346 8h1M348 8h1M353 8h1M365 8h2M368 8h1M371 8h1M373 8h1M394 8h1M417 8h4M425 8h2M431 8h1M433 8h1M441 8h2M445 8h3M454 8h3M462 8h1M464 8h1M475 8h1M484 8h1M488 8h2M493 8h1M505 8h1M513 8h1M515 8h1M521 8h1M548 8h1M551 8h1M563 8h4M580 8h2M586 8h1M596 8h1M39 9h5M49 9h3M58 9h1M62 9h3M66 9h4M73 9h1M77 9h6M84 9h2M87 9h3M93 9h1M98 9h1M100 9h2M115 9h2M121 9h2M129 9h1M203 9h1M212 9h3M218 9h2M228 9h2M233 9h1M249 9h1M259 9h3M263 9h1M269 9h3M293 9h1M318 9h1M324 9h1M326 9h1M333 9h2M345 9h1M348 9h1M352 9h1M354 9h1M361 9h1M372 9h1M375 9h2M386 9h1M396 9h2M404 9h3M410 9h5M418 9h1M420 9h2M424 9h1M442 9h1M449 9h1M456 9h2M469 9h1M471 9h2M478 9h1M482 9h1M484 9h1M488 9h1M509 9h2M523 9h2M529 9h2M538 9h1M543 9h1M549 9h2M559 9h1M561 9h2M569 9h1M571 9h2M591 9h2"/></g><g transform="translate(0,1199.65) scale(1,13.7)" stroke-width="1" fill="none"><path stroke="#7ee" d="M85 3h1"/><path stroke="#8ef" d="M39 3h2M86 3h1M89 3h2"/><path stroke="#9ef" d="M61 3h1M66 3h2M74 3h1M84 3h1"/><path stroke="#aef" d="M268 0h1M265 2h1M448 2h1M47 3h2M54 3h1M62 3h1M65 3h1M73 3h1M83 3h1M91 3h1M133 3h1"/><path stroke="#aff" d="M148 0h2M125 2h1M266 2h1M68 3h1"/><path stroke="#bdf" d="M284 3h1M398 3h1"/><path stroke="#bef" d="M278 0h1M417 0h1M147 1h1M237 1h1M247 1h1M126 2h1M447 2h1M41 3h1M82 3h1M134 3h1M191 3h1M220 3h2"/><path stroke="#bff" d="M41 0h3M57 0h1M63 0h2M69 0h1M71 0h1M80 0h3M92 0h2M150 0h1M279 0h1M42 1h2M52 1h1M61 1h2M78 1h2M84 1h2M93 1h1M212 2h1M487 2h1M50 3h1M55 3h1M63 3h2M69 3h1M72 3h1M77 3h1M87 3h2"/><path stroke="#caf" d="M453 2h1"/><path stroke="#cbf" d="M197 1h1"/><path stroke="#ccf" d="M119 1h1M158 1h1"/><path stroke="#cdf" d="M244 1h3M329 1h1M454 2h1M46 3h1M123 3h1M157 3h1M160 3h1M242 3h1M283 3h1M397 3h1M416 3h1M455 3h1M568 3h1"/><path stroke="#cef" d="M118 0h1M267 0h1M370 0h1M381 0h2M410 0h1M420 0h1M470 0h1M473 0h1M566 0h1M586 0h1M594 0h1M98 1h1M196 1h1M221 1h1M238 1h1M243 1h1M262 1h1M314 1h1M328 1h1M405 1h1M580 1h1M171 2h1M224 2h1M261 2h1M443 2h1M461 2h2M484 2h1M488 2h1M45 3h1M92 3h2M111 3h1M122 3h1M153 3h1M156 3h1M192 3h1M204 3h1M300 3h1M489 3h1"/><path stroke="#cff" d="M44 0h2M50 0h2M56 0h1M58 0h4M65 0h2M68 0h1M70 0h1M72 0h4M78 0h2M83 0h9M102 0h2M152 0h1M269 0h1M338 0h1M472 0h1M488 0h1M567 0h1M585 0h1M39 1h3M44 1h1M48 1h4M55 1h1M60 1h1M63 1h1M67 1h2M71 1h4M77 1h1M82 1h2M86 1h1M91 1h2M159 1h1M222 1h1M266 1h1M422 1h1M581 1h1M135 2h1M140 2h1M148 2h1M211 2h1M213 2h1M260 2h1M264 2h1M291 2h3M355 2h1M444 2h1M474 2h1M479 2h5M580 2h1M51 3h1M56 3h1M60 3h1M70 3h2M75 3h2M132 3h1M152 3h1M301 3h1M361 3h1M431 3h1M569 3h1"/><path stroke="#dbf" d="M114 1h1M118 1h1M457 2h1M350 3h1M381 3h1M388 3h1M567 3h1"/><path stroke="#dcf" d="M163 1h1M459 1h3M112 2h1M161 3h2M190 3h1M432 3h1"/><path stroke="#ddf" d="M123 0h1M146 0h1M179 0h1M200 0h1M277 0h1M481 0h1M587 0h1M595 0h1M113 1h1M132 1h1M136 1h1M146 1h1M148 1h1M198 1h1M236 1h1M249 1h2M462 1h1M149 2h1M214 2h1M354 2h1M369 2h1M429 2h1M442 2h1M42 3h1M151 3h1M243 3h1M256 3h1M322 3h1M382 3h1M394 3h1M421 3h1"/><path stroke="#def" d="M108 0h1M117 0h1M137 0h1M184 0h1M191 0h1M227 0h1M243 0h2M282 0h1M371 0h1M383 0h1M396 0h1M462 0h1M474 0h1M482 0h1M489 0h1M513 0h1M529 0h2M542 0h1M544 0h1M549 0h1M551 0h1M568 0h2M593 0h1M110 1h2M120 1h1M126 1h1M143 1h1M162 1h1M191 1h1M218 1h1M251 1h2M267 1h1M284 1h1M298 1h2M343 1h1M347 1h1M371 1h1M387 1h2M391 1h1M406 1h1M421 1h1M485 1h1M490 1h1M548 1h1M557 1h2M565 1h1M105 2h1M108 2h1M124 2h1M127 2h1M132 2h1M136 2h1M161 2h1M168 2h1M170 2h1M196 2h2M206 2h1M359 2h1M403 2h1M449 2h1M460 2h1M473 2h1M485 2h2M492 2h1M508 2h1M556 2h2M565 2h1M581 2h1M49 3h1M106 3h3M115 3h1M143 3h2M166 3h1M184 3h1M202 3h2M205 3h1M225 3h1M244 3h1M250 3h1M285 3h1M365 3h1M374 3h1M377 3h1M380 3h1M399 3h1M424 3h1M445 3h1M457 3h1M497 3h2M503 3h1M565 3h1"/><path stroke="#dff" d="M39 0h2M46 0h2M49 0h1M52 0h4M62 0h1M67 0h1M76 0h2M101 0h1M109 0h1M119 0h1M138 0h1M147 0h1M151 0h1M180 0h1M185 0h1M190 0h1M196 0h1M213 0h2M221 0h3M245 0h1M270 0h1M280 0h2M284 0h4M291 0h2M306 0h2M347 0h1M350 0h2M368 0h2M397 0h2M411 0h1M413 0h1M421 0h1M423 0h1M446 0h1M463 0h1M471 0h1M507 0h2M512 0h1M527 0h2M532 0h1M543 0h1M548 0h1M552 0h1M561 0h1M45 1h2M53 1h2M56 1h2M59 1h1M64 1h3M69 1h2M75 1h2M80 1h2M87 1h2M90 1h1M112 1h1M127 1h1M133 1h1M160 1h1M190 1h1M199 1h1M205 1h2M223 1h1M283 1h1M312 1h2M341 1h2M370 1h1M392 1h1M401 1h4M477 1h1M480 1h1M484 1h1M491 1h2M497 1h2M527 1h3M541 1h2M549 1h1M564 1h1M577 1h1M587 1h1M593 1h3M39 2h1M53 2h1M57 2h1M61 2h1M75 2h1M79 2h3M106 2h2M116 2h2M129 2h2M133 2h1M162 2h1M164 2h2M174 2h1M210 2h1M235 2h2M267 2h1M288 2h3M300 2h2M314 2h1M380 2h2M428 2h1M493 2h2M503 2h3M515 2h1M552 2h1M564 2h1M579 2h1M44 3h1M53 3h1M57 3h1M78 3h1M98 3h1M165 3h1M172 3h1M183 3h1M245 3h1M362 3h1M366 3h1M375 3h2M425 3h1M456 3h1M464 3h2M492 3h2M515 3h2M519 3h1M536 3h2M553 3h2M579 3h1"/><path stroke="#e7e" d="M102 3h1M373 3h1"/><path stroke="#e8e" d="M372 3h1"/><path stroke="#e9f" d="M131 1h1M328 3h1"/><path stroke="#eaf" d="M378 0h1M157 1h1M275 1h1M344 1h1M104 2h1M167 2h1M370 2h1M430 2h1M456 2h1M458 2h1M509 2h1M169 3h1M351 3h1"/><path stroke="#ebf" d="M136 0h1M178 0h1M199 0h1M377 0h1M156 1h1M226 1h1M232 1h1M522 1h1M109 2h1M113 2h1M353 2h1M431 2h2M455 2h1M352 3h1M389 3h1M433 3h1M443 3h1M566 3h1"/><path stroke="#ecf" d="M121 0h2M240 0h1M330 0h1M362 0h1M406 0h1M459 0h1M461 0h1M466 0h1M541 0h1M142 1h1M151 1h1M165 1h2M170 1h1M217 1h1M225 1h1M273 1h2M297 1h1M348 1h1M389 1h1M451 1h1M523 1h1M150 2h1M166 2h1M194 2h2M215 2h1M220 2h1M262 2h1M269 2h2M363 2h2M402 2h1M414 2h1M105 3h1M159 3h1M174 3h1M197 3h1M201 3h1M310 3h1M422 3h2M444 3h1M454 3h1M529 3h1M547 3h1"/><path stroke="#edf" d="M145 0h1M163 0h1M183 0h1M192 0h1M198 0h1M224 0h1M226 0h1M241 0h1M251 0h1M334 0h1M392 0h1M409 0h1M442 0h1M456 0h3M480 0h1M490 0h1M494 0h1M525 0h1M531 0h1M534 0h1M545 0h1M550 0h1M99 1h1M125 1h1M137 1h1M145 1h1M149 1h2M176 1h1M248 1h1M289 1h1M294 1h2M330 1h1M345 1h1M372 1h1M409 1h2M443 1h1M452 1h3M489 1h1M559 1h1M579 1h1M588 1h2M100 2h1M111 2h1M122 2h2M155 2h1M160 2h1M216 2h1M221 2h1M223 2h1M225 2h1M227 2h3M253 2h1M279 2h1M294 2h1M389 2h1M393 2h1M450 2h1M489 2h1M516 2h1M532 2h1M558 2h1M567 2h1M109 3h2M112 3h1M114 3h1M124 3h1M130 3h1M149 3h1M155 3h1M168 3h1M173 3h1M185 3h1M188 3h1M222 3h1M224 3h1M235 3h2M249 3h1M255 3h1M257 3h2M275 3h1M299 3h1M321 3h1M323 3h2M330 3h1M353 3h1M371 3h1M393 3h1M395 3h1M405 3h2M417 3h1M420 3h1M439 3h1M446 3h1M475 3h2M488 3h1M496 3h1M592 3h1"/><path stroke="#eef" d="M106 0h2M112 0h2M116 0h1M120 0h1M130 0h1M139 0h1M170 0h3M186 0h2M210 0h1M230 0h2M259 0h1M283 0h1M303 0h1M319 0h4M327 0h2M331 0h1M333 0h1M335 0h1M346 0h1M348 0h1M361 0h1M366 0h1M393 0h3M399 0h1M401 0h3M407 0h1M412 0h1M416 0h1M433 0h1M443 0h1M445 0h1M450 0h1M469 0h1M483 0h3M493 0h1M495 0h3M504 0h1M511 0h1M514 0h1M524 0h1M526 0h1M533 0h1M535 0h1M538 0h2M546 0h1M553 0h1M560 0h1M573 0h1M578 0h1M591 0h1M134 1h2M153 1h1M167 1h2M175 1h1M183 1h2M200 1h2M212 1h2M220 1h1M230 1h2M242 1h1M253 1h1M258 1h1M260 1h2M263 1h1M268 1h2M276 1h1M285 1h1M288 1h1M300 1h2M315 1h1M326 1h2M346 1h1M360 1h1M366 1h2M374 1h3M378 1h1M393 1h1M400 1h1M407 1h2M411 1h1M414 1h1M425 1h1M435 1h1M444 1h2M471 1h1M476 1h1M481 1h1M486 1h1M496 1h1M499 1h1M502 1h1M515 1h1M518 1h3M531 1h1M547 1h1M555 1h2M561 1h1M578 1h1M582 1h1M585 1h2M596 1h1M91 2h1M101 2h2M118 2h1M131 2h1M141 2h1M163 2h1M169 2h1M176 2h1M181 2h1M187 2h1M192 2h2M198 2h1M205 2h1M209 2h1M231 2h1M239 2h1M251 2h2M259 2h1M271 2h1M275 2h4M280 2h1M298 2h2M305 2h1M317 2h1M319 2h3M327 2h1M331 2h1M335 2h2M342 2h1M360 2h1M368 2h1M379 2h1M385 2h4M391 2h1M394 2h1M404 2h1M412 2h1M415 2h1M418 2h1M446 2h1M465 2h1M469 2h1M472 2h1M475 2h1M499 2h1M520 2h2M524 2h1M530 2h1M533 2h1M544 2h2M563 2h1M566 2h1M570 2h1M583 2h2M591 2h1M43 3h1M99 3h1M131 3h1M135 3h1M154 3h1M167 3h1M171 3h1M180 3h2M186 3h2M198 3h1M200 3h1M211 3h1M217 3h3M231 3h1M271 3h1M276 3h1M282 3h1M296 3h3M305 3h2M309 3h1M320 3h1M329 3h1M342 3h1M349 3h1M355 3h1M363 3h1M367 3h1M370 3h1M379 3h1M383 3h1M390 3h1M392 3h1M403 3h2M407 3h1M409 3h1M415 3h1M438 3h1M440 3h1M451 3h1M458 3h1M479 3h2M484 3h2M490 3h2M494 3h2M499 3h1M504 3h5M511 3h1M513 3h1M525 3h1M528 3h1M538 3h3M545 3h2M550 3h3M557 3h1M564 3h1M570 3h2M593 3h2"/><path stroke="#eff" d="M48 0h1M104 0h2M110 0h1M115 0h1M131 0h2M161 0h2M188 0h2M197 0h1M201 0h1M215 0h2M220 0h1M228 0h2M246 0h1M258 0h1M271 0h1M288 0h1M293 0h3M302 0h1M305 0h1M308 0h3M323 0h1M332 0h1M336 0h2M339 0h2M349 0h1M352 0h1M367 0h1M418 0h2M422 0h1M429 0h2M447 0h3M464 0h2M486 0h2M505 0h2M516 0h2M519 0h5M547 0h1M557 0h1M562 0h1M574 0h3M589 0h1M47 1h1M58 1h1M89 1h1M106 1h4M161 1h1M171 1h3M179 1h1M195 1h1M202 1h3M210 1h2M215 1h1M224 1h1M229 1h1M259 1h1M265 1h1M277 1h1M282 1h1M302 1h10M322 1h4M355 1h4M361 1h2M379 1h1M384 1h2M412 1h1M415 1h2M423 1h1M426 1h1M429 1h1M436 1h4M463 1h1M472 1h1M478 1h2M483 1h1M493 1h2M503 1h1M513 1h2M540 1h1M545 1h2M550 1h3M554 1h1M562 1h2M572 1h2M576 1h1M591 1h2M40 2h1M44 2h9M54 2h3M58 2h1M60 2h1M62 2h13M76 2h3M84 2h1M87 2h4M121 2h1M134 2h1M139 2h1M145 2h1M172 2h2M175 2h1M182 2h2M188 2h3M230 2h1M232 2h3M237 2h1M268 2h1M272 2h1M274 2h1M281 2h1M286 2h2M306 2h2M309 2h2M313 2h1M325 2h2M329 2h2M340 2h2M347 2h5M356 2h3M361 2h2M382 2h2M408 2h4M416 2h1M423 2h1M425 2h2M445 2h1M463 2h2M466 2h3M478 2h1M495 2h1M502 2h1M506 2h2M512 2h3M519 2h1M531 2h1M538 2h4M551 2h1M553 2h3M574 2h5M588 2h1M592 2h1M52 3h1M58 3h2M79 3h1M81 3h1M163 3h2M179 3h1M182 3h1M199 3h1M216 3h1M226 3h1M232 3h2M240 3h2M246 3h2M251 3h1M267 3h4M279 3h2M295 3h1M302 3h1M307 3h2M325 3h1M343 3h1M360 3h1M387 3h1M391 3h1M401 3h1M408 3h1M414 3h1M426 3h1M430 3h1M450 3h1M466 3h1M474 3h1M502 3h1M512 3h1M514 3h1M517 3h2M520 3h3M534 3h2M555 3h2M574 3h5"/><path stroke="#f8f" d="M122 1h1M130 1h1M233 1h1M249 2h1"/><path stroke="#f9f" d="M299 0h2M234 1h1M335 1h1"/><path stroke="#faf" d="M126 0h2M164 0h1M233 0h1M453 0h1M565 0h1M123 1h1M129 1h1M334 1h1M336 1h1M353 1h1M390 1h1M98 2h1M345 2h1M376 2h1M101 3h1M103 3h1M137 3h1M327 3h1M338 3h1"/><path stroke="#fbf" d="M124 0h1M176 0h2M232 0h1M234 0h1M254 0h1M276 0h1M326 0h1M329 0h1M344 0h2M363 0h2M454 0h2M460 0h1M467 0h1M155 1h1M169 1h1M207 1h1M296 1h1M349 1h1M352 1h1M354 1h1M441 1h2M450 1h1M474 1h2M99 2h1M114 2h1M248 2h1M375 2h1M377 2h1M413 2h1M119 3h1M138 3h1M189 3h1M195 3h2M208 3h2M273 3h1M332 3h2M337 3h1M339 3h1M396 3h1M419 3h1M460 3h2M477 3h1"/><path stroke="#fcf" d="M125 0h1M128 0h1M135 0h1M142 0h2M165 0h1M235 0h1M238 0h2M255 0h1M313 0h2M325 0h1M343 0h1M365 0h1M374 0h1M387 0h1M425 0h3M452 0h1M564 0h1M581 0h2M100 1h1M105 1h1M117 1h1M121 1h1M124 1h1M141 1h1M154 1h1M185 1h1M208 1h1M227 1h1M239 1h2M290 1h1M339 1h2M350 1h1M364 1h1M373 1h1M381 1h2M432 1h3M521 1h1M524 1h3M110 2h1M119 2h1M154 2h1M159 2h1M178 2h2M185 2h2M218 2h2M250 2h1M346 2h1M352 2h1M374 2h1M401 2h1M434 2h1M441 2h1M452 2h1M459 2h1M470 2h2M510 2h1M104 3h1M113 3h1M127 3h1M146 3h2M150 3h1M158 3h1M170 3h1M193 3h2M206 3h2M210 3h1M223 3h1M234 3h1M253 3h1M274 3h1M288 3h1M291 3h1M331 3h1M334 3h1M341 3h1M348 3h1M354 3h1M418 3h1M434 3h1M442 3h1M459 3h1M478 3h1M530 3h1M558 3h1M561 3h2M572 3h1"/><path stroke="#fdf" d="M129 0h1M133 0h2M141 0h1M144 0h1M155 0h2M167 0h1M181 0h2M203 0h3M207 0h1M225 0h1M236 0h1M242 0h1M249 0h2M253 0h1M260 0h2M265 0h2M275 0h1M298 0h1M301 0h1M312 0h1M317 0h2M354 0h1M358 0h1M375 0h2M386 0h1M388 0h1M408 0h1M431 0h2M435 0h1M440 0h2M451 0h1M468 0h1M479 0h1M503 0h1M510 0h1M540 0h1M554 0h1M101 1h1M115 1h2M140 1h1M144 1h1M164 1h1M177 1h1M182 1h1M186 1h1M189 1h1M192 1h2M216 1h1M235 1h1M241 1h1M254 1h1M257 1h1M286 1h1M291 1h3M318 1h3M331 1h1M338 1h1M351 1h1M363 1h1M365 1h1M377 1h1M399 1h1M419 1h2M430 1h2M449 1h1M458 1h1M468 1h2M473 1h1M487 1h2M507 1h1M516 1h2M560 1h1M583 1h1M103 2h1M137 2h1M143 2h1M151 2h3M158 2h1M180 2h1M184 2h1M191 2h1M208 2h1M217 2h1M222 2h1M226 2h1M240 2h5M247 2h1M295 2h2M303 2h2M311 2h1M344 2h1M371 2h1M396 2h3M419 2h1M422 2h1M433 2h1M436 2h1M440 2h1M490 2h2M500 2h1M517 2h1M522 2h2M542 2h2M559 2h1M568 2h1M571 2h2M582 2h1M100 3h1M120 3h1M126 3h1M128 3h2M136 3h1M139 3h1M145 3h1M148 3h1M175 3h1M177 3h1M229 3h2M254 3h1M259 3h7M272 3h1M287 3h1M290 3h1M292 3h1M304 3h1M311 3h1M315 3h1M317 3h1M340 3h1M345 3h3M364 3h1M368 3h2M384 3h1M410 3h2M435 3h3M447 3h3M452 3h2M469 3h4M487 3h1M544 3h1M548 3h1M563 3h1M573 3h1M583 3h1M595 3h2"/><path stroke="#fef" d="M98 0h3M111 0h1M114 0h1M140 0h1M153 0h2M157 0h3M166 0h1M168 0h1M175 0h1M193 0h1M202 0h1M206 0h1M208 0h2M237 0h1M247 0h2M252 0h1M256 0h1M262 0h3M272 0h3M296 0h2M304 0h1M315 0h2M324 0h1M342 0h1M353 0h1M355 0h3M359 0h1M372 0h2M379 0h2M384 0h2M389 0h2M400 0h1M404 0h2M434 0h1M436 0h1M438 0h2M444 0h1M475 0h4M491 0h1M500 0h3M509 0h1M515 0h1M518 0h1M536 0h2M555 0h1M558 0h2M563 0h1M570 0h3M579 0h2M583 0h1M588 0h1M590 0h1M592 0h1M596 0h1M102 1h3M128 1h1M139 1h1M152 1h1M174 1h1M180 1h2M187 1h2M209 1h1M214 1h1M219 1h1M228 1h1M255 1h2M264 1h1M270 1h3M278 1h3M287 1h1M316 1h2M321 1h1M332 1h2M337 1h1M359 1h1M368 1h2M380 1h1M383 1h1M386 1h1M394 1h5M413 1h1M417 1h2M424 1h1M440 1h1M446 1h1M448 1h1M455 1h3M467 1h1M470 1h1M482 1h1M500 1h2M508 1h3M530 1h1M533 1h5M543 1h2M566 1h2M570 1h1M584 1h1M590 1h1M92 2h2M115 2h1M120 2h1M138 2h1M142 2h1M144 2h1M147 2h1M156 2h2M177 2h1M199 2h1M201 2h1M204 2h1M207 2h1M238 2h1M245 2h1M254 2h1M257 2h2M263 2h1M282 2h3M297 2h1M302 2h1M312 2h1M316 2h1M318 2h1M322 2h3M328 2h1M332 2h2M343 2h1M365 2h3M372 2h2M378 2h1M384 2h1M390 2h1M392 2h1M395 2h1M399 2h2M417 2h1M420 2h2M435 2h1M437 2h1M451 2h1M496 2h2M501 2h1M511 2h1M518 2h1M525 2h1M528 2h2M534 2h2M546 2h5M560 2h3M569 2h1M573 2h1M585 2h2M589 2h2M596 2h1M80 3h1M116 3h3M121 3h1M125 3h1M140 3h2M176 3h1M178 3h1M213 3h1M227 3h2M237 3h3M248 3h1M252 3h1M266 3h1M277 3h2M289 3h1M293 3h1M303 3h1M312 3h3M316 3h1M318 3h2M326 3h1M335 3h2M344 3h1M356 3h2M378 3h1M385 3h1M400 3h1M402 3h1M412 3h2M441 3h1M462 3h2M473 3h1M481 3h3M486 3h1M500 3h2M509 3h2M526 3h2M531 3h1M541 3h3M549 3h1M559 3h2M580 3h3M584 3h2M587 3h5"/></g><g transform="translate(0,1258.65) scale(1,13.7)" stroke-width="1" fill="none"><path stroke="#adf" d="M115 3h1"/><path stroke="#aef" d="M74 0h1M101 3h1M160 5h2M167 5h1"/><path stroke="#aff" d="M73 0h1M186 0h1M109 4h1M381 5h1"/><path stroke="#bbf" d="M116 3h1M182 3h1"/><path stroke="#bcf" d="M457 5h1"/><path stroke="#bdf" d="M291 4h1M103 5h1M278 5h1"/><path stroke="#bef" d="M108 1h1M158 1h1M123 2h1M210 2h1M444 2h1M102 3h1M198 3h1M434 3h1M487 3h1M108 4h1M122 4h2M162 4h1M233 4h1M274 4h1M302 4h2M384 4h1M500 4h1M166 5h1M174 5h1M226 5h1M318 5h1M336 5h1M380 5h1"/><path stroke="#bff" d="M42 0h1M105 0h1M149 0h1M185 0h1M109 1h1M143 1h1M150 1h1M190 1h2M338 1h1M370 1h1M492 1h1M134 2h1M209 2h1M258 2h1M411 2h1M443 2h1M100 3h1M114 3h1M304 3h1M465 3h2M193 4h1M347 4h1M374 4h1M382 4h1M499 4h1M120 5h1M162 5h1M175 5h1M293 5h2M564 5h2"/><path stroke="#cbf" d="M588 1h1M385 4h1"/><path stroke="#ccf" d="M292 0h1M99 2h1M292 4h1M102 5h1"/><path stroke="#cdf" d="M329 1h1M198 2h1M124 3h1M183 3h1M265 3h1M360 3h1M121 4h1M197 4h1M278 4h2M165 5h1M186 5h2M521 5h2"/><path stroke="#cef" d="M104 0h1M203 0h1M228 0h1M273 0h1M325 0h2M394 0h1M505 0h1M123 1h2M142 1h1M337 1h1M374 1h1M122 2h1M133 2h1M135 2h1M153 2h1M351 2h1M390 2h1M412 2h1M547 2h1M99 3h1M129 3h1M184 3h1M232 3h1M251 3h2M416 3h1M423 3h1M488 3h1M516 3h1M98 4h1M146 4h1M163 4h1M169 4h1M216 4h1M219 4h1M275 4h1M309 4h1M336 4h1M358 4h1M373 4h1M390 4h1M434 4h1M496 4h1M505 4h1M192 5h1M227 5h1M277 5h1M307 5h1M337 5h1M359 5h1M422 5h1M456 5h1"/><path stroke="#cff" d="M41 0h1M43 0h2M47 0h14M66 0h5M72 0h1M75 0h1M84 0h2M87 0h7M99 0h1M145 0h1M148 0h1M201 0h2M212 0h1M276 0h2M281 0h1M338 0h1M353 0h1M393 0h1M127 1h1M132 1h1M157 1h1M183 1h1M189 1h1M259 1h1M269 1h3M292 1h1M339 1h1M352 1h1M360 1h3M394 1h1M439 1h1M468 1h1M485 1h2M529 1h2M53 2h1M62 2h1M77 2h1M87 2h1M113 2h1M118 2h1M141 2h3M173 2h2M208 2h1M216 2h1M246 2h1M259 2h1M264 2h1M275 2h1M286 2h1M293 2h2M305 2h2M318 2h2M548 2h1M578 2h1M123 3h1M128 3h1M166 3h1M171 3h1M174 3h1M185 3h1M266 3h1M284 3h1M303 3h1M305 3h1M307 3h1M408 3h1M415 3h1M424 3h1M469 3h1M483 3h1M102 4h2M110 4h1M144 4h2M168 4h1M176 4h1M196 4h1M203 4h1M215 4h1M232 4h1M237 4h1M242 4h1M294 4h1M329 4h3M346 4h1M348 4h1M375 4h1M381 4h1M383 4h1M399 4h1M411 4h1M419 4h2M429 4h2M474 4h2M482 4h2M495 4h1M514 4h2M571 4h1M587 4h1M104 5h1M121 5h1M159 5h1M168 5h1M176 5h1M232 5h2M292 5h1M295 5h1M317 5h1M323 5h1M344 5h1M351 5h2M382 5h1M479 5h1"/><path stroke="#d9e" d="M98 1h1"/><path stroke="#d9f" d="M128 4h1"/><path stroke="#daf" d="M136 3h1M181 3h1M264 3h1M235 5h1"/><path stroke="#dbf" d="M112 1h1M529 3h1M279 5h1"/><path stroke="#dcf" d="M218 0h1M264 0h1M409 0h1M427 0h1M126 1h1M216 1h2M250 1h1M336 1h1M445 2h1M103 3h1M135 3h1M137 3h1M273 3h1M126 4h2M135 4h1M137 4h1M273 5h1"/><path stroke="#ddf" d="M189 0h3M204 0h1M216 0h1M234 0h1M253 0h1M408 0h1M99 1h1M135 1h1M236 1h1M251 1h1M357 1h1M540 1h1M121 2h1M124 2h1M152 2h1M211 2h1M247 2h1M400 2h1M423 2h2M442 2h1M486 2h1M98 3h1M125 3h1M134 3h1M193 3h1M261 3h1M363 3h2M377 3h1M417 3h1M435 3h1M539 3h1M101 4h1M104 4h1M211 4h1M220 4h2M271 4h1M297 4h1M389 4h1M395 4h1M405 4h1M407 4h1M498 4h1M562 4h1M126 5h1M158 5h1M207 5h1M236 5h1M269 5h2M274 5h1M308 5h1M338 5h1M345 5h1M356 5h1M360 5h1M414 5h1"/><path stroke="#def" d="M103 0h1M114 0h1M146 0h1M150 0h1M153 0h1M160 0h1M198 0h1M211 0h1M217 0h1M241 0h1M263 0h1M270 0h1M274 0h1M317 0h1M324 0h1M327 0h1M329 0h1M348 0h1M354 0h1M406 0h1M425 0h1M439 0h1M444 0h1M447 0h1M536 0h1M563 0h1M106 1h2M128 1h1M131 1h1M167 1h3M188 1h1M203 1h1M219 1h1M235 1h1M241 1h1M245 1h1M258 1h1M268 1h1M291 1h1M340 1h1M354 1h1M369 1h1M375 1h1M443 1h1M453 1h1M466 1h1M471 1h1M476 1h3M482 1h2M513 1h1M553 1h1M565 1h1M584 1h1M587 1h1M66 2h1M112 2h1M119 2h1M137 2h1M158 2h1M160 2h1M172 2h1M205 2h1M229 2h1M260 2h1M282 2h1M288 2h1M312 2h1M326 2h1M363 2h2M366 2h1M372 2h1M381 2h1M422 2h1M448 2h1M451 2h3M461 2h1M500 2h1M542 2h1M561 2h1M579 2h1M594 2h1M108 3h1M117 3h1M133 3h1M154 3h1M165 3h1M167 3h1M175 3h1M197 3h1M227 3h1M231 3h1M233 3h1M236 3h1M256 3h1M268 3h1M280 3h1M310 3h1M312 3h1M344 3h1M386 3h1M404 3h1M420 3h1M451 3h2M456 3h1M470 3h1M486 3h1M517 3h1M540 3h1M556 3h2M581 3h3M590 3h1M592 3h3M100 4h1M107 4h1M133 4h1M147 4h1M171 4h1M254 4h2M270 4h1M284 4h2M293 4h1M314 4h1M324 4h2M332 4h1M337 4h1M357 4h1M368 4h1M376 4h1M398 4h1M408 4h1M410 4h1M418 4h1M428 4h1M433 4h1M445 4h2M504 4h1M506 4h1M527 4h1M547 4h1M588 4h1M593 4h1M111 5h1M140 5h1M154 5h1M185 5h1M195 5h1M212 5h1M215 5h2M219 5h2M241 5h1M289 5h1M319 5h1M397 5h1M410 5h1M444 5h1M480 5h1M487 5h1M498 5h1M527 5h1M558 5h1M579 5h1"/><path stroke="#dff" d="M39 0h2M45 0h2M61 0h5M71 0h1M76 0h2M80 0h2M83 0h1M86 0h1M134 0h1M170 0h1M184 0h1M187 0h1M199 0h1M213 0h1M229 0h1M235 0h1M242 0h1M261 0h2M272 0h1M275 0h1M280 0h1M293 0h3M309 0h3M318 0h1M328 0h1M339 0h1M352 0h1M392 0h1M407 0h1M411 0h1M424 0h1M440 0h1M474 0h2M537 0h2M558 0h3M105 1h1M110 1h1M116 1h2M144 1h2M149 1h1M151 1h3M156 1h1M182 1h1M184 1h1M192 1h1M202 1h1M220 1h1M231 1h2M244 1h1M252 1h1M262 1h1M278 1h2M293 1h1M308 1h1M317 1h1M319 1h6M353 1h1M358 1h2M371 1h1M392 1h2M398 1h1M430 1h1M438 1h1M467 1h1M469 1h2M490 1h2M493 1h1M496 1h1M554 1h1M560 1h2M573 1h3M585 1h1M54 2h4M63 2h1M65 2h1M78 2h1M82 2h3M88 2h4M98 2h1M144 2h1M157 2h1M161 2h1M175 2h2M230 2h1M239 2h2M245 2h1M257 2h1M263 2h1M265 2h1M274 2h1M280 2h2M287 2h1M295 2h5M302 2h1M304 2h1M307 2h2M317 2h1M359 2h1M367 2h1M382 2h1M385 2h2M395 2h2M401 2h1M435 2h1M477 2h2M481 2h2M499 2h1M509 2h2M516 2h1M535 2h1M549 2h4M560 2h1M589 2h2M52 3h2M67 3h1M70 3h1M91 3h2M127 3h1M146 3h1M168 3h3M172 3h1M186 3h1M224 3h1M228 3h1M269 3h1M302 3h1M306 3h1M311 3h1M318 3h2M337 3h1M345 3h1M384 3h2M405 3h1M407 3h1M409 3h1M414 3h1M448 3h1M467 3h2M479 3h1M482 3h1M484 3h1M545 3h2M567 3h4M575 3h3M591 3h1M99 4h1M113 4h2M134 4h1M138 4h1M142 4h2M148 4h2M159 4h1M165 4h3M175 4h1M177 4h1M180 4h1M194 4h2M202 4h1M204 4h1M209 4h2M243 4h1M266 4h1M290 4h1M295 4h2M310 4h1M312 4h2M328 4h1M345 4h1M349 4h1M370 4h1M387 4h1M412 4h1M443 4h2M467 4h1M481 4h1M484 4h4M509 4h2M518 4h3M522 4h3M526 4h1M538 4h1M541 4h1M563 4h1M566 4h2M570 4h1M572 4h1M592 4h1M105 5h1M122 5h1M155 5h1M163 5h2M188 5h1M191 5h1M202 5h1M217 5h1M224 5h2M251 5h1M290 5h1M296 5h1M306 5h1M316 5h1M321 5h2M324 5h1M341 5h3M350 5h1M365 5h1M375 5h1M385 5h3M391 5h2M398 5h1M411 5h1M421 5h1M425 5h1M431 5h2M445 5h1M451 5h1M478 5h1M547 5h1M552 5h2M559 5h1M566 5h2M574 5h1M580 5h1"/><path stroke="#e8f" d="M523 1h1"/><path stroke="#e9f" d="M291 0h1M589 1h1M485 2h1M130 3h1M140 4h1M298 4h2"/><path stroke="#eaf" d="M371 0h1M387 0h1M113 1h1M200 1h1M223 2h1M228 2h1M432 2h1M288 3h1M136 4h1M575 4h1M298 5h1M333 5h2M458 5h1"/><path stroke="#ebf" d="M252 0h1M497 0h1M571 0h1M125 1h1M215 1h1M328 1h1M356 1h1M446 1h1M550 1h1M187 2h1M197 2h1M224 2h1M248 2h1M251 2h1M289 2h1M441 2h1M496 2h1M255 3h1M287 3h1M313 3h1M352 3h1M376 3h1M426 3h1M139 4h1M198 4h2M406 4h1M574 4h1M125 5h1M234 5h1M240 5h1M299 5h1M346 5h1"/><path stroke="#ecf" d="M159 0h1M197 0h1M219 0h1M227 0h1M316 0h1M388 0h1M395 0h1M422 0h1M426 0h1M428 0h1M445 0h1M496 0h1M503 0h2M518 0h1M547 0h1M572 0h1M136 1h1M199 1h1M204 1h1M237 1h1M355 1h1M382 1h2M445 1h1M447 1h1M510 1h1M524 1h1M533 1h1M539 1h1M551 1h1M100 2h1M104 2h1M111 2h1M154 2h1M250 2h1M483 2h1M495 2h1M513 2h2M533 2h1M546 2h1M253 3h1M272 3h1M351 3h1M402 3h2M457 3h1M515 3h1M531 3h1M584 3h2M181 4h1M256 4h1M272 4h2M323 4h1M396 4h2M454 4h1M464 4h1M208 5h1M214 5h1M413 5h1M468 5h1M483 5h2M562 5h2M578 5h1"/><path stroke="#edf" d="M113 0h1M116 0h1M205 0h1M215 0h1M254 0h1M265 0h1M286 0h1M315 0h1M330 0h1M344 0h1M355 0h1M370 0h1M372 0h1M390 0h1M410 0h1M433 0h1M438 0h1M442 0h1M446 0h1M460 0h2M488 0h2M534 0h1M548 0h1M573 0h1M577 0h1M590 0h1M141 1h1M164 1h2M187 1h1M218 1h1M289 1h2M315 1h1M381 1h1M402 1h1M408 1h1M429 1h1M440 1h2M444 1h1M465 1h1M497 1h1M518 1h2M525 1h1M552 1h1M570 1h1M583 1h1M105 2h1M115 2h1M128 2h1M132 2h1M146 2h1M151 2h1M159 2h1M186 2h1M199 2h1M237 2h1M283 2h1M371 2h1M373 2h1M377 2h2M393 2h1M413 2h1M440 2h1M460 2h1M470 2h1M497 2h1M501 2h1M505 2h1M515 2h1M534 2h1M544 2h1M556 2h1M562 2h1M587 2h1M595 2h1M43 3h1M104 3h1M107 3h1M118 3h1M145 3h1M155 3h1M163 3h1M176 3h1M194 3h1M202 3h1M217 3h1M234 3h2M250 3h1M257 3h1M260 3h1M279 3h1M281 3h1M315 3h1M321 3h1M359 3h1M362 3h1M365 3h1M368 3h2M401 3h1M425 3h1M427 3h2M433 3h1M436 3h1M458 3h1M464 3h1M497 3h1M504 3h1M532 3h1M580 3h1M589 3h1M132 4h1M141 4h1M170 4h1M188 4h2M222 4h1M234 4h1M247 4h1M257 4h1M261 4h1M269 4h1M276 4h2M354 4h1M372 4h1M386 4h1M392 4h1M447 4h1M465 4h1M479 4h1M497 4h1M532 4h1M537 4h1M543 4h1M561 4h1M573 4h1M576 4h1M127 5h1M153 5h1M156 5h2M173 5h1M194 5h1M209 5h2M213 5h1M230 5h1M268 5h1M297 5h1M329 5h1M332 5h1M396 5h1M409 5h1M449 5h1M473 5h1M486 5h1M509 5h1M523 5h1M528 5h1M596 5h1"/><path stroke="#eef" d="M98 0h1M108 0h1M115 0h1M131 0h1M133 0h1M139 0h2M154 0h1M178 0h2M188 0h1M192 0h1M200 0h1M206 0h5M225 0h1M239 0h1M244 0h1M256 0h2M266 0h1M269 0h1M285 0h1M287 0h2M299 0h1M314 0h1M319 0h1M340 0h1M343 0h1M345 0h1M360 0h1M373 0h2M391 0h1M403 0h3M412 0h1M417 0h1M432 0h1M443 0h1M448 0h1M458 0h2M463 0h1M478 0h1M482 0h3M502 0h1M508 0h5M535 0h1M539 0h2M544 0h2M549 0h1M554 0h1M562 0h1M564 0h1M574 0h1M576 0h1M583 0h1M589 0h1M591 0h1M41 1h1M100 1h2M111 1h1M115 1h1M118 1h1M122 1h1M159 1h1M163 1h1M166 1h1M170 1h1M176 1h6M185 1h1M193 1h1M197 1h2M201 1h1M210 1h1M238 1h3M242 1h1M246 1h1M254 1h2M257 1h1M263 1h1M265 1h3M276 1h2M288 1h1M294 1h1M302 1h2M305 1h2M309 1h3M325 1h1M330 1h3M334 1h1M366 1h3M376 1h2M388 1h4M395 1h2M403 1h1M412 1h1M427 1h1M437 1h1M442 1h1M451 1h2M456 1h2M472 1h1M475 1h1M481 1h1M489 1h1M499 1h2M507 1h2M512 1h1M514 1h1M517 1h1M532 1h1M541 1h2M555 1h1M563 1h2M566 1h1M571 1h1M581 1h2M592 1h1M596 1h1M42 2h3M67 2h2M70 2h1M106 2h1M114 2h1M120 2h1M129 2h2M136 2h1M145 2h1M155 2h2M162 2h2M201 2h1M206 2h2M215 2h1M221 2h2M249 2h1M268 2h3M285 2h1M311 2h1M327 2h1M331 2h1M334 2h1M352 2h1M354 2h1M358 2h1M362 2h1M365 2h1M380 2h1M389 2h1M391 2h1M394 2h1M397 2h1M399 2h1M402 2h1M415 2h2M421 2h1M425 2h1M433 2h1M447 2h1M450 2h1M454 2h1M462 2h2M469 2h1M487 2h1M490 2h2M503 2h1M508 2h1M525 2h2M536 2h1M540 2h2M543 2h1M553 2h1M564 2h1M580 2h2M588 2h1M593 2h1M40 3h3M44 3h1M55 3h1M72 3h1M88 3h3M126 3h1M132 3h1M138 3h1M144 3h1M152 3h2M164 3h1M173 3h1M195 3h2M199 3h1M203 3h1M206 3h1M208 3h1M213 3h1M216 3h1M225 3h2M237 3h1M267 3h1M271 3h1M274 3h1M277 3h1M283 3h1M285 3h1M298 3h1M308 3h1M316 3h1M320 3h1M322 3h1M338 3h1M340 3h1M342 3h2M349 3h2M361 3h1M370 3h1M378 3h1M388 3h2M396 3h1M410 3h2M419 3h1M443 3h1M447 3h1M476 3h1M480 3h1M485 3h1M489 3h2M496 3h1M500 3h1M503 3h1M507 3h1M518 3h1M536 3h1M538 3h1M547 3h1M549 3h2M553 3h1M558 3h1M566 3h1M571 3h4M578 3h1M586 3h1M595 3h1M115 4h2M124 4h1M150 4h1M157 4h2M164 4h1M186 4h2M200 4h2M212 4h1M217 4h2M226 4h2M231 4h1M235 4h1M245 4h2M252 4h1M258 4h1M260 4h1M262 4h2M280 4h1M286 4h1M300 4h2M304 4h2M308 4h1M315 4h1M335 4h1M359 4h2M363 4h1M369 4h1M371 4h1M380 4h1M388 4h1M391 4h1M403 4h2M409 4h1M421 4h1M435 4h1M438 4h1M450 4h2M457 4h5M466 4h1M480 4h1M491 4h2M494 4h1M501 4h1M511 4h3M528 4h2M536 4h1M542 4h1M546 4h1M548 4h1M555 4h1M560 4h1M594 4h1M596 4h1M50 5h2M101 5h1M107 5h1M109 5h1M112 5h1M130 5h3M139 5h1M169 5h1M177 5h2M184 5h1M189 5h2M193 5h1M196 5h1M198 5h1M206 5h1M211 5h1M218 5h1M221 5h3M229 5h1M231 5h1M245 5h1M252 5h2M256 5h2M275 5h1M286 5h1M288 5h1M311 5h3M315 5h1M320 5h1M327 5h2M331 5h1M335 5h1M340 5h1M354 5h1M379 5h1M388 5h3M393 5h1M395 5h1M399 5h1M405 5h1M420 5h1M423 5h2M427 5h2M430 5h1M437 5h1M450 5h1M462 5h3M471 5h2M482 5h1M497 5h1M499 5h1M505 5h1M514 5h1M529 5h2M538 5h2M541 5h2M545 5h1M548 5h1M550 5h2M557 5h1M568 5h1M587 5h1M591 5h1"/><path stroke="#eff" d="M78 0h2M82 0h1M100 0h1M107 0h1M120 0h6M135 0h1M138 0h1M141 0h4M161 0h1M169 0h1M171 0h1M180 0h1M183 0h1M214 0h1M224 0h1M236 0h1M238 0h1M243 0h1M260 0h1M271 0h1M278 0h1M284 0h1M296 0h3M307 0h2M313 0h1M335 0h3M341 0h2M349 0h1M375 0h1M423 0h1M431 0h1M434 0h3M453 0h2M464 0h2M469 0h1M473 0h1M479 0h2M506 0h1M523 0h2M541 0h1M557 0h1M561 0h1M565 0h2M575 0h1M588 0h1M592 0h1M42 1h1M80 1h1M85 1h2M104 1h1M133 1h2M139 1h1M148 1h1M173 1h3M211 1h1M228 1h3M233 1h2M243 1h1M253 1h1M260 1h2M272 1h1M280 1h1M300 1h2M307 1h1M312 1h1M316 1h1M318 1h1M333 1h1M351 1h1M363 1h1M380 1h1M384 1h2M397 1h1M399 1h1M404 1h4M415 1h1M425 1h2M431 1h2M448 1h3M454 1h2M458 1h1M479 1h2M484 1h1M495 1h1M502 1h1M511 1h1M526 1h3M531 1h1M546 1h2M562 1h1M572 1h1M576 1h1M594 1h2M39 2h3M45 2h1M48 2h5M58 2h4M64 2h1M69 2h1M71 2h6M79 2h3M85 2h2M92 2h2M116 2h2M138 2h1M140 2h1M177 2h1M183 2h3M202 2h1M204 2h1M231 2h1M238 2h1M241 2h1M244 2h1M262 2h1M266 2h1M271 2h3M276 2h4M292 2h1M300 2h2M303 2h1M309 2h2M316 2h1M321 2h2M328 2h3M332 2h2M350 2h1M353 2h1M360 2h1M368 2h1M379 2h1M383 2h1M387 2h1M410 2h1M434 2h1M436 2h2M475 2h2M480 2h1M494 2h1M498 2h1M504 2h1M512 2h1M517 2h1M524 2h1M557 2h1M559 2h1M565 2h3M576 2h2M582 2h1M591 2h1M39 3h1M45 3h7M54 3h1M56 3h2M59 3h3M68 3h2M71 3h1M73 3h4M78 3h3M83 3h5M93 3h1M109 3h1M113 3h1M122 3h1M147 3h1M151 3h1M187 3h1M191 3h2M200 3h2M204 3h2M207 3h1M223 3h1M229 3h2M270 3h1M297 3h1M317 3h1M323 3h1M336 3h1M341 3h1M346 3h3M367 3h1M371 3h3M383 3h1M397 3h1M406 3h1M412 3h2M438 3h3M449 3h1M453 3h3M459 3h2M471 3h1M478 3h1M481 3h1M501 3h2M508 3h2M521 3h2M537 3h1M541 3h1M544 3h1M554 3h1M562 3h1M564 3h2M587 3h1M111 4h2M151 4h2M155 4h2M160 4h2M172 4h3M178 4h2M190 4h3M205 4h4M213 4h2M228 4h1M236 4h1M238 4h1M241 4h1M244 4h1M250 4h2M259 4h1M265 4h1M267 4h1M281 4h2M306 4h2M311 4h1M318 4h2M326 4h2M342 4h2M350 4h2M361 4h2M364 4h2M367 4h1M400 4h2M413 4h1M425 4h3M431 4h2M436 4h2M442 4h1M452 4h1M455 4h2M468 4h2M471 4h3M488 4h1M493 4h1M508 4h1M516 4h1M521 4h1M525 4h1M530 4h1M533 4h3M539 4h2M556 4h1M564 4h2M568 4h2M577 4h1M584 4h3M52 5h1M68 5h3M81 5h2M98 5h3M106 5h1M110 5h1M119 5h1M141 5h3M146 5h3M151 5h1M199 5h3M203 5h1M228 5h1M246 5h5M254 5h1M258 5h1M263 5h1M281 5h2M287 5h1M291 5h1M300 5h1M348 5h2M353 5h1M357 5h2M364 5h1M370 5h1M374 5h1M376 5h3M383 5h2M415 5h1M426 5h1M433 5h4M438 5h2M446 5h1M452 5h2M461 5h1M469 5h2M481 5h1M492 5h5M506 5h1M510 5h2M513 5h1M526 5h1M531 5h2M536 5h2M540 5h1M546 5h1M554 5h2M573 5h1M586 5h1"/><path stroke="#f9f" d="M166 2h1M212 2h1M227 2h1M131 3h1M158 3h1M124 5h1"/><path stroke="#faf" d="M233 0h1M290 0h1M421 0h1M206 1h1M522 1h1M188 2h1M191 2h1M196 2h1M213 2h1M226 2h1M431 2h1M484 2h1M157 3h1M161 3h1M245 3h1M289 3h1M375 3h1M530 3h1M129 4h1M117 5h1M314 5h1M368 5h1M594 5h1"/><path stroke="#fbf" d="M289 0h1M420 0h1M519 0h1M532 0h2M570 0h1M56 1h1M194 1h1M205 1h1M214 1h1M335 1h1M509 1h1M568 1h1M590 1h1M131 2h1M214 2h1M236 2h1M345 2h2M374 2h1M417 2h2M430 2h1M506 2h1M156 3h1M162 3h1M209 3h1M246 3h1M254 3h1M291 3h1M331 3h2M353 3h1M379 3h2M431 3h1M491 3h2M46 4h3M321 4h2M393 4h1M463 4h1M531 4h1M114 5h3M239 5h1M271 5h1M369 5h1M400 5h2M459 5h1M595 5h1"/><path stroke="#fcf" d="M117 0h1M129 0h2M220 0h3M226 0h1M247 0h2M251 0h1M320 0h3M357 0h2M366 0h1M386 0h1M396 0h1M451 0h1M498 0h1M514 0h1M546 0h1M550 0h1M39 1h1M55 1h1M57 1h1M137 1h1M207 1h1M295 1h1M327 1h1M341 1h1M345 1h1M409 1h2M521 1h1M538 1h1M567 1h1M569 1h1M101 2h1M147 2h3M167 2h1M179 2h1M189 2h2M195 2h1M225 2h1M234 2h2M252 2h1M255 2h1M324 2h2M341 2h2M369 2h2M414 2h1M428 2h2M507 2h1M545 2h1M596 2h1M159 3h2M210 3h1M263 3h1M292 3h1M295 3h1M314 3h1M354 3h1M357 3h2M390 3h1M429 3h2M432 3h1M462 3h2M514 3h1M528 3h1M56 4h3M65 4h1M68 4h2M74 4h2M105 4h1M182 4h1M394 4h1M503 4h1M580 4h1M89 5h1M113 5h1M118 5h1M238 5h1M272 5h1M280 5h1M355 5h1M418 5h1M466 5h2M517 5h2M576 5h2"/><path stroke="#fdf" d="M110 0h3M118 0h2M158 0h1M164 0h2M174 0h1M223 0h1M232 0h1M249 0h2M255 0h1M304 0h2M323 0h1M331 0h1M346 0h2M356 0h1M359 0h1M365 0h1M367 0h1M389 0h1M397 0h1M400 0h3M413 0h3M441 0h1M450 0h1M462 0h1M485 0h3M490 0h2M494 0h2M515 0h1M553 0h1M568 0h1M581 0h2M584 0h2M594 0h1M40 1h1M58 1h2M64 1h8M75 1h2M87 1h3M114 1h1M121 1h1M138 1h1M160 1h2M186 1h1M195 1h2M213 1h1M221 1h1M224 1h2M249 1h1M274 1h2M282 1h1M287 1h1M296 1h3M304 1h1M313 1h2M344 1h1M411 1h1M428 1h1M464 1h1M498 1h1M506 1h1M520 1h1M534 1h1M536 1h2M543 1h2M556 1h1M580 1h1M102 2h2M108 2h1M110 2h1M125 2h3M150 2h1M165 2h1M180 2h2M217 2h3M233 2h1M243 2h1M254 2h1M284 2h1M323 2h1M335 2h1M338 2h1M340 2h1M347 2h1M355 2h3M375 2h2M392 2h1M403 2h1M419 2h1M446 2h1M471 2h2M502 2h1M522 2h1M527 2h2M538 2h2M555 2h1M570 2h2M105 3h2M119 3h1M141 3h3M177 3h1M211 3h1M218 3h1M220 3h1M238 3h1M244 3h1M247 3h3M275 3h1M278 3h1M282 3h1M290 3h1M293 3h2M296 3h1M326 3h1M329 3h2M333 3h1M339 3h1M355 3h1M374 3h1M387 3h1M391 3h1M399 3h2M421 3h2M493 3h1M498 3h1M511 3h1M524 3h1M527 3h1M534 3h1M579 3h1M596 3h1M39 4h1M42 4h4M49 4h4M55 4h1M59 4h6M67 4h1M70 4h4M76 4h1M78 4h3M87 4h1M91 4h3M106 4h1M119 4h2M130 4h2M223 4h3M248 4h2M253 4h1M264 4h1M288 4h1M338 4h1M352 4h2M355 4h1M379 4h1M422 4h1M453 4h1M462 4h1M490 4h1M502 4h1M581 4h1M39 5h1M45 5h5M58 5h2M66 5h2M79 5h1M90 5h3M123 5h1M128 5h1M144 5h1M152 5h1M172 5h1M179 5h2M205 5h1M237 5h1M260 5h2M264 5h4M283 5h3M302 5h2M310 5h1M325 5h2M330 5h1M339 5h1M347 5h1M367 5h1M371 5h2M402 5h1M412 5h1M419 5h1M429 5h1M448 5h1M454 5h2M465 5h1M474 5h1M485 5h1M491 5h1M503 5h1M516 5h1M561 5h1M570 5h1M575 5h1M593 5h1"/><path stroke="#fef" d="M102 0h1M109 0h1M126 0h3M147 0h1M151 0h2M155 0h1M157 0h1M162 0h2M166 0h2M172 0h2M175 0h1M177 0h1M182 0h1M193 0h4M230 0h2M240 0h1M245 0h2M267 0h2M282 0h2M301 0h3M306 0h1M312 0h1M332 0h1M361 0h2M364 0h1M368 0h2M376 0h2M380 0h2M384 0h2M398 0h2M416 0h1M418 0h2M429 0h1M437 0h1M449 0h1M452 0h1M466 0h2M470 0h3M476 0h2M492 0h2M499 0h2M513 0h1M516 0h1M520 0h1M531 0h1M543 0h1M551 0h2M555 0h2M567 0h1M569 0h1M578 0h3M586 0h1M593 0h1M595 0h2M46 1h6M53 1h2M60 1h4M72 1h3M77 1h2M84 1h1M90 1h3M102 1h2M119 1h2M129 1h2M140 1h1M146 1h2M162 1h1M171 1h2M208 1h2M212 1h1M222 1h1M226 1h1M247 1h2M256 1h1M264 1h1M273 1h1M281 1h1M283 1h4M326 1h1M342 1h2M346 1h5M372 1h2M378 1h2M386 1h2M400 1h2M417 1h3M421 1h4M434 1h3M463 1h1M473 1h2M487 1h2M505 1h1M515 1h1M535 1h1M549 1h1M557 1h3M579 1h1M586 1h1M591 1h1M593 1h1M47 2h1M107 2h1M109 2h1M164 2h1M168 2h4M178 2h1M182 2h1M192 2h3M200 2h1M220 2h1M232 2h1M242 2h1M253 2h1M256 2h1M267 2h1M290 2h1M313 2h3M336 2h2M339 2h1M343 2h2M361 2h1M384 2h1M388 2h1M398 2h1M404 2h4M420 2h1M438 2h2M449 2h1M455 2h5M464 2h5M473 2h2M488 2h2M492 2h2M518 2h4M523 2h1M529 2h1M531 2h2M537 2h1M554 2h1M563 2h1M568 2h2M572 2h3M584 2h3M592 2h1M110 3h3M120 3h1M139 3h2M148 3h3M178 3h1M180 3h1M188 3h3M212 3h1M214 3h2M219 3h1M221 3h1M239 3h1M258 3h2M262 3h1M276 3h1M286 3h1M301 3h1M309 3h1M324 3h2M327 3h2M334 3h1M356 3h1M366 3h1M392 3h4M398 3h1M418 3h1M437 3h1M441 3h2M444 3h3M450 3h1M473 3h1M477 3h1M499 3h1M505 3h1M510 3h1M512 3h1M519 3h2M523 3h1M525 3h2M533 3h1M535 3h1M548 3h1M551 3h2M555 3h1M559 3h3M588 3h1M40 4h2M53 4h2M66 4h1M77 4h1M82 4h5M88 4h3M117 4h2M125 4h1M154 4h1M183 4h1M185 4h1M229 4h2M268 4h1M287 4h1M289 4h1M320 4h1M333 4h2M339 4h3M344 4h1M356 4h1M366 4h1M377 4h2M402 4h1M414 4h4M439 4h1M448 4h2M470 4h1M476 4h3M489 4h1M507 4h1M544 4h1M549 4h4M558 4h2M579 4h1M582 4h1M595 4h1M40 5h5M53 5h2M56 5h2M60 5h6M71 5h8M80 5h1M83 5h6M93 5h1M108 5h1M129 5h1M135 5h1M145 5h1M149 5h2M170 5h2M181 5h1M183 5h1M197 5h1M204 5h1M242 5h3M255 5h1M259 5h1M262 5h1M276 5h1M301 5h1M304 5h1M309 5h1M361 5h2M366 5h1M373 5h1M394 5h1M403 5h2M406 5h3M417 5h1M441 5h3M475 5h2M488 5h3M500 5h1M502 5h1M504 5h1M515 5h1M519 5h2M524 5h1M543 5h2M549 5h1M569 5h1M571 5h1M584 5h2M588 5h2M592 5h1"/></g><rect x="39" y="1037.8" width="55" height="9.6" fill="#bebe00"/><rect x="98.1" y="1037.8" width="498.4" height="9.6" fill="#00c8fa"/><rect x="26.7" y="1050.5" width="9.9" height="138.2" fill="#ff86f6"/><rect x="26.7" y="1192.8" width="9.9" height="54.8" fill="#00d896"/><rect x="26.7" y="1251.8" width="9.9" height="84" fill="#ff9088"/><g font-size="7.9" fill="#000" stroke="#000" stroke-width=".2"><text x="597.9" y="1046.7" font-weight="bold" stroke-width=".25" font-size="8.2">Type</text><text x="597.8" y="1061.31">SAE1***</text><text x="597.8" y="1075.13">UBA2***</text><text x="597.8" y="1088.95">UBE2I***</text><text x="597.8" y="1102.77">PIAS1***</text><text x="597.8" y="1116.59">PIAS2</text><text x="597.8" y="1130.41">PIAS3***</text><text x="597.8" y="1144.23">PIAS4***</text><text x="597.8" y="1158.05">RANBP2</text><text x="597.8" y="1171.87">CBX4***</text><text x="597.8" y="1185.69">PML</text><text x="597.8" y="1203.55">SUMO1***</text><text x="597.8" y="1217.25">SUMO2***</text><text x="597.8" y="1230.95">SUMO3</text><text x="597.8" y="1244.65">SUMO4***</text><text x="597.8" y="1262.55">SENP1***</text><text x="597.8" y="1276.25">SENP2</text><text x="597.8" y="1289.95">SENP3***</text><text x="597.8" y="1303.65">SENP5***</text><text x="597.8" y="1317.35">SENP6**</text><text x="597.8" y="1331.05">SENP7</text></g><defs><linearGradient id="cb" x1="0" y1="0" x2="0" y2="1"><stop offset="0" stop-color="#ee00ee"/><stop offset=".5" stop-color="#fff"/><stop offset="1" stop-color="#00e5ee"/></linearGradient></defs><rect x="638" y="1036.4" width="10.6" height="150.4" fill="url(#cb)"/><g font-size="7.9" fill="#000" stroke="#000" stroke-width=".2"><text x="652" y="1055.2">4</text><text x="652" y="1085.2">2</text><text x="652" y="1115.4">0</text><text x="652" y="1145.4">−2</text><text x="652" y="1175.5">−4</text></g><g font-size="7.9" fill="#000" stroke="#000" stroke-width=".2"><text x="638" y="1221.7" font-weight="bold" stroke-width=".25">gene_type</text><rect x="638" y="1225.2" width="14.6" height="14.4" fill="#ff9088" stroke="none"/><text x="655.7" y="1235.7">SENPs</text><rect x="638" y="1239.5" width="14.6" height="14.4" fill="#ff86f6" stroke="none"/><text x="655.7" y="1250.0">E1E2E3</text><rect x="638" y="1253.8" width="14.6" height="14.4" fill="#00d896" stroke="none"/><text x="655.7" y="1264.3">SUMOs</text><text x="639.4" y="1300.9" font-weight="bold" stroke-width=".25">Type</text><rect x="638.9" y="1304.8" width="14.7" height="14.4" fill="#bebe00" stroke="none"/><text x="656.6" y="1315.4">Normal</text><rect x="638.9" y="1319.1" width="14.7" height="14.4" fill="#00c8fa" stroke="none"/><text x="656.6" y="1329.7">Tumor</text></g>
</svg>
</body></html>
